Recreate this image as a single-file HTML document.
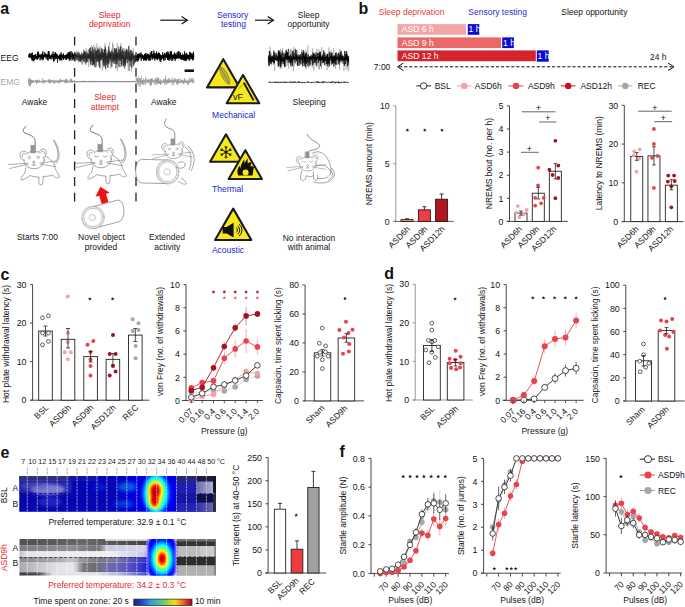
<!DOCTYPE html>
<html><head><meta charset="utf-8"><style>
html,body{margin:0;padding:0;background:#fff;width:685px;height:607px;overflow:hidden}
svg{display:block;font-family:"Liberation Sans",sans-serif}
</style></head><body>
<svg width="685" height="607" viewBox="0 0 685 607">
<rect width="685" height="607" fill="#fff"/>
<text x="0.30" y="14.20" font-size="16" text-anchor="start" fill="#111" font-weight="bold">a</text>
<text x="109.70" y="17.60" font-size="8.5" text-anchor="middle" fill="#e41e2a">Sleep</text>
<text x="109.70" y="27.40" font-size="8.5" text-anchor="middle" fill="#e41e2a">deprivation</text>
<text x="232.60" y="17.60" font-size="8.5" text-anchor="middle" fill="#2424cc">Sensory</text>
<text x="233.40" y="27.40" font-size="8.5" text-anchor="middle" fill="#2424cc">testing</text>
<text x="308.60" y="17.60" font-size="8.5" text-anchor="middle" fill="#151515">Sleep</text>
<text x="308.60" y="27.40" font-size="8.5" text-anchor="middle" fill="#151515">opportunity</text>
<line x1="160.30" y1="20.20" x2="186.90" y2="20.20" stroke="#111" stroke-width="1.15"/>
<polyline points="181.60,16.50 187.40,20.20 181.60,23.90" fill="none" stroke="#111" stroke-width="1.15"/>
<line x1="255.00" y1="20.20" x2="273.00" y2="20.20" stroke="#111" stroke-width="1.15"/>
<polyline points="267.70,16.50 273.50,20.20 267.70,23.90" fill="none" stroke="#111" stroke-width="1.15"/>
<text x="0.60" y="60.90" font-size="8.5" text-anchor="start" fill="#111">EEG</text>
<text x="0.60" y="85.40" font-size="8.5" text-anchor="start" fill="#a8a8a8">EMG</text>
<polyline points="28.50,56.52 28.70,55.63 28.90,57.05 29.10,54.14 29.30,57.57 29.50,53.89 29.70,56.54 29.90,53.07 30.10,57.81 30.30,54.75 30.50,57.49 30.70,54.98 30.90,55.99 31.10,53.22 31.30,55.80 31.50,53.95 31.70,59.18 31.90,54.54 32.10,60.59 32.30,52.48 32.50,60.46 32.70,55.18 32.90,58.92 33.10,55.07 33.30,56.40 33.50,55.61 33.70,61.26 33.90,55.12 34.10,56.61 34.30,56.17 34.50,60.25 34.70,55.22 34.90,59.02 35.10,54.24 35.30,59.15 35.50,54.51 35.70,56.61 35.90,54.34 36.10,58.05 36.30,55.99 36.50,56.56 36.70,56.20 36.90,59.45 37.10,56.10 37.30,59.64 37.50,52.32 37.70,58.58 37.90,56.11 38.10,58.17 38.30,51.42 38.50,58.28 38.70,53.29 38.90,56.31 39.10,54.75 39.30,57.02 39.50,54.86 39.70,56.83 39.90,54.96 40.10,60.45 40.30,55.06 40.50,57.30 40.70,55.50 40.90,57.11 41.10,53.81 41.30,58.17 41.50,56.19 41.70,58.96 41.90,54.05 42.10,60.25 42.30,54.77 42.50,58.33 42.70,51.45 42.90,57.69 43.10,56.32 43.30,59.76 43.50,54.80 43.70,57.37 43.90,55.47 44.10,56.85 44.30,52.32 44.50,57.27 44.70,55.54 44.90,57.00 45.10,55.80 45.30,56.74 45.50,53.40 45.70,56.31 45.90,55.18 46.10,59.20 46.30,54.51 46.50,56.30 46.70,54.73 46.90,57.27 47.10,53.84 47.30,56.47 47.50,55.07 47.70,59.66 47.90,55.46 48.10,60.71 48.30,51.09 48.50,57.09 48.70,54.20 48.90,56.92 49.10,51.45 49.30,58.94 49.50,55.17 49.70,57.05 49.90,55.17 50.10,56.90 50.30,56.15 50.50,58.52 50.70,55.43 50.90,59.42 51.10,56.42 51.30,56.82 51.50,53.92 51.70,57.16 51.90,54.31 52.10,58.90 52.30,55.76 52.50,56.51 52.70,54.82 52.90,56.80 53.10,51.56 53.30,59.46 53.50,55.57 53.70,61.53 53.90,54.38 54.10,60.87 54.30,54.33 54.50,58.51 54.70,54.41 54.90,56.70 55.10,52.32 55.30,59.39 55.50,52.45 55.70,56.36 55.90,55.65 56.10,56.61 56.30,53.59 56.50,58.77 56.70,54.73 56.90,56.20 57.10,54.11 57.30,57.87 57.50,62.75 57.70,59.33 57.90,55.84 58.10,58.95 58.30,56.44 58.50,58.35 58.70,55.68 58.90,57.71 59.10,56.21 59.30,57.14 59.50,55.39 59.70,59.75 59.90,54.18 60.10,60.57 60.30,54.72 60.50,59.07 60.70,55.35 60.90,59.72 61.10,52.36 61.30,56.61 61.50,54.52 61.70,60.65 61.90,54.21 62.10,56.09 62.30,56.04 62.50,58.31 62.70,54.99 62.90,57.66 63.10,55.95 63.30,59.18 63.50,53.37 63.70,59.92 63.90,55.10 64.10,57.33 64.30,56.52 64.50,57.78 64.70,55.28 64.90,58.31 65.10,55.86 65.30,56.92 65.50,56.52 65.70,59.63 65.90,54.87 66.10,57.56 66.30,54.94 66.50,59.89 66.70,53.93 66.90,58.91 67.10,55.81 67.30,57.50 67.50,53.95 67.70,58.03 67.90,53.43 68.10,57.09 68.30,52.18 68.50,59.00 68.70,53.73 68.90,57.04 69.10,53.43 69.30,60.62 69.50,52.04 69.70,58.92 69.90,51.63 70.10,58.10 70.30,53.48 70.50,56.06 70.70,56.25 70.90,60.47 71.10,51.23 71.30,56.91 71.50,56.17 71.70,56.91 71.90,56.24 72.10,58.71 72.30,52.50 72.50,56.82 72.70,53.64 72.90,60.43 73.10,54.82 73.30,56.29 73.50,55.16 73.70,58.67 73.90,54.48 74.10,58.65 74.30,53.85 74.50,56.70" fill="none" stroke="#000" stroke-width="0.75" stroke-linejoin="miter"/>
<polyline points="74.70,59.04 74.90,56.17 75.10,57.85 75.30,55.39 75.50,62.05 75.70,54.46 75.90,58.46 76.10,51.71 76.30,60.26 76.50,57.11 76.70,59.47 76.90,51.49 77.10,57.94 77.30,55.96 77.50,60.47 77.70,55.56 77.90,58.63 78.10,55.15 78.30,62.20 78.50,51.10 78.70,57.86 78.90,53.95 79.10,62.08 79.30,53.68 79.50,56.49 79.70,54.37 79.90,58.28 80.10,54.78 80.30,61.88 80.50,54.85 80.70,58.74 80.90,55.14 81.10,58.64 81.30,55.27 81.50,63.90 81.70,52.27 81.90,57.84 82.10,52.91 82.30,64.76 82.50,57.01 82.70,64.35 82.90,53.62 83.10,61.99 83.30,55.28 83.50,57.60 83.70,49.05 83.90,58.53 84.10,50.52 84.30,58.04 84.50,56.56 84.70,58.58 84.90,56.75 85.10,59.36 85.30,54.19 85.50,64.46 85.70,56.59 85.90,65.21 86.10,47.94 86.30,63.07 86.50,53.69 86.70,60.11 86.90,49.99 87.10,57.15 87.30,56.31 87.50,57.88 87.70,55.84 87.90,58.60 88.10,56.31 88.30,62.33 88.50,54.78 88.70,67.04 88.90,56.67 89.10,58.10 89.30,53.90 89.50,60.43 89.70,50.75 89.90,58.07 90.10,51.85 90.30,58.37 90.50,56.14 90.70,65.40 90.90,53.05 91.10,57.11 91.30,53.58 91.50,65.19 91.70,45.29 91.90,60.17 92.10,53.26 92.30,60.30 92.50,52.90 92.70,64.79 92.90,46.95 93.10,61.15 93.30,55.02 93.50,60.80 93.70,53.68 93.90,62.87 94.10,44.62 94.30,59.39 94.50,47.80 94.70,61.61 94.90,55.17 95.10,59.58 95.30,47.28 95.50,58.77 95.70,47.50 95.90,62.62 96.10,51.45 96.30,65.55 96.50,54.48 96.70,61.53 96.90,43.46 97.10,61.74 97.30,56.30 97.50,59.31 97.70,56.08 97.90,61.24 98.10,56.59 98.30,65.60 98.50,53.90 98.70,59.78 98.90,53.95 99.10,67.27 99.30,55.90 99.50,58.93 99.70,55.60 99.90,66.65 100.10,45.62 100.30,57.68 100.50,48.49 100.70,68.92 100.90,54.64 101.10,57.18 101.30,51.30 101.50,57.03 101.70,51.90 101.90,60.47 102.10,51.21 102.30,56.51 102.50,49.60 102.70,70.65 102.90,49.55 103.10,60.00 103.30,51.14 103.50,62.59 103.70,49.08 103.90,60.84 104.10,57.36 104.30,64.60 104.50,50.86 104.70,60.85 104.90,43.26 105.10,67.65 105.30,54.65 105.50,58.66 105.70,56.19 105.90,69.97 106.10,54.09 106.30,62.77 106.50,53.22 106.70,57.62 106.90,50.70 107.10,61.16 107.30,52.61 107.50,65.08 107.70,51.20 107.90,67.04 108.10,55.26 108.30,64.96 108.50,53.24 108.70,63.25 108.90,52.39 109.10,57.57 109.30,42.22 109.50,61.76 109.70,52.66 109.90,56.83 110.10,54.13 110.30,65.00 110.50,52.90 110.70,68.59 110.90,54.46 111.10,56.57 111.30,55.50 111.50,65.47 111.70,53.95 111.90,61.87 112.10,48.60 112.30,62.65 112.50,42.38 112.70,62.08 112.90,54.98 113.10,57.94 113.30,44.43 113.50,63.76 113.70,56.44 113.90,60.45 114.10,52.06 114.30,60.43 114.50,55.23 114.70,59.38 114.90,56.59 115.10,58.17 115.30,49.05 115.50,57.14 115.70,50.96 115.90,63.95 116.10,55.31 116.30,61.56 116.50,49.12 116.70,57.99 116.90,49.24 117.10,64.67 117.30,42.91 117.50,71.05 117.70,55.33 117.90,62.03 118.10,56.00 118.30,57.54 118.50,46.06 118.70,66.17 118.90,49.20 119.10,57.05 119.30,46.94 119.50,58.22 119.70,52.06 119.90,58.73 120.10,51.57 120.30,56.89 120.50,53.33 120.70,60.71 120.90,43.16 121.10,63.87 121.30,52.80 121.50,58.47 121.70,56.91 121.90,64.88 122.10,54.26 122.30,62.41 122.50,56.11 122.70,65.79 122.90,47.83 123.10,66.02 123.30,53.09 123.50,65.31 123.70,48.68 123.90,58.15 124.10,47.92 124.30,59.47 124.50,50.50 124.70,65.36 124.90,53.95 125.10,59.97 125.30,51.94 125.50,61.43 125.70,54.69 125.90,57.22 126.10,53.03 126.30,60.27 126.50,56.29 126.70,56.79 126.90,52.64 127.10,59.82 127.30,48.96 127.50,58.37 127.70,50.81 127.90,65.42 128.10,52.72 128.30,70.99 128.50,51.50 128.70,62.72 128.90,54.98 129.10,70.40 129.30,45.33 129.50,71.09 129.70,50.67 129.90,62.22 130.10,52.06 130.30,62.84 130.50,57.09 130.70,60.76 130.90,53.08 131.10,58.34 131.30,50.61 131.50,71.74 131.70,53.43 131.90,64.92 132.10,51.10 132.30,59.04 132.50,51.47 132.70,59.77 132.90,51.40 133.10,62.89 133.30,47.86 133.50,57.75 133.70,54.75 133.90,63.40 134.10,56.62 134.30,63.09 134.50,57.19 134.70,57.62 134.90,54.20 135.10,62.51 135.30,55.73 135.50,58.68 135.70,56.63 135.90,57.83" fill="none" stroke="#888" stroke-width="0.45" stroke-linejoin="miter"/>
<polyline points="74.70,57.97 74.90,56.66 75.10,60.18 75.30,52.75 75.50,57.00 75.70,54.33 75.90,56.78 76.10,54.42 76.30,56.49 76.50,54.75 76.70,59.78 76.90,53.88 77.10,57.86 77.30,55.16 77.50,56.76 77.70,52.16 77.90,58.26 78.10,56.21 78.30,60.47 78.50,56.24 78.70,57.59 78.90,53.69 79.10,60.57 79.30,52.68 79.50,57.03 79.70,56.40 79.90,61.01 80.10,54.66 80.30,62.08 80.50,54.98 80.70,60.20 80.90,55.44 81.10,59.64 81.30,53.17 81.50,60.62 81.70,56.61 81.90,58.04 82.10,54.76 82.30,58.58 82.50,56.17 82.70,59.67 82.90,53.54 83.10,57.38 83.30,54.82 83.50,61.23 83.70,53.19 83.90,58.71 84.10,51.11 84.30,61.38 84.50,51.49 84.70,57.30 84.90,55.09 85.10,63.20 85.30,51.32 85.50,58.85 85.70,53.31 85.90,57.15 86.10,55.26 86.30,62.84 86.50,55.34 86.70,60.94 86.90,52.07 87.10,58.10 87.30,55.83 87.50,61.91 87.70,53.00 87.90,58.73 88.10,54.40 88.30,59.06 88.50,54.12 88.70,58.88 88.90,49.41 89.10,57.80 89.30,54.61 89.50,58.65 89.70,47.94 89.90,57.09 90.10,52.70 90.30,62.28 90.50,47.35 90.70,64.54 90.90,51.39 91.10,60.30 91.30,50.75 91.50,60.38 91.70,55.45 91.90,61.28 92.10,53.39 92.30,59.51 92.50,47.20 92.70,65.50 92.90,53.32 93.10,65.17 93.30,52.70 93.50,63.87 93.70,49.52 93.90,64.51 94.10,57.10 94.30,63.22 94.50,56.67 94.70,67.27 94.90,49.24 95.10,57.91 95.30,52.64 95.50,58.35 95.70,57.01 95.90,67.29 96.10,50.86 96.30,57.39 96.50,50.88 96.70,61.13 96.90,55.10 97.10,61.68 97.30,49.92 97.50,58.04 97.70,49.39 97.90,57.29 98.10,47.64 98.30,60.58 98.50,55.37 98.70,61.50 98.90,50.23 99.10,63.12 99.30,48.93 99.50,67.65 99.70,54.01 99.90,60.58 100.10,52.74 100.30,58.75 100.50,52.68 100.70,58.62 100.90,55.25 101.10,60.38 101.30,53.97 101.50,59.43 101.70,47.90 101.90,59.67 102.10,49.58 102.30,57.74 102.50,51.68 102.70,57.61 102.90,54.55 103.10,65.08 103.30,52.82 103.50,62.13 103.70,53.09 103.90,66.79 104.10,52.81 104.30,59.11 104.50,49.19 104.70,65.42 104.90,49.06 105.10,60.73 105.30,46.52 105.50,68.44 105.70,48.76 105.90,62.99 106.10,56.15 106.30,58.26 106.50,56.61 106.70,65.27 106.90,53.39 107.10,59.43 107.30,55.84 107.50,63.63 107.70,56.58 107.90,68.05 108.10,53.30 108.30,58.40 108.50,46.64 108.70,63.89 108.90,49.67 109.10,62.20 109.30,54.08 109.50,57.26 109.70,50.99 109.90,58.36 110.10,53.71 110.30,59.08 110.50,52.27 110.70,59.64 110.90,52.92 111.10,60.94 111.30,54.45 111.50,56.51 111.70,50.47 111.90,67.01 112.10,51.63 112.30,56.39 112.50,55.32 112.70,61.08 112.90,51.76 113.10,62.22 113.30,54.75 113.50,59.11 113.70,53.09 113.90,59.15 114.10,55.99 114.30,63.99 114.50,48.38 114.70,60.11 114.90,48.00 115.10,61.92 115.30,49.48 115.50,58.99 115.70,53.59 115.90,68.35 116.10,50.98 116.30,63.87 116.50,48.25 116.70,59.68 116.90,53.31 117.10,64.37 117.30,53.63 117.50,59.30 117.70,52.15 117.90,60.47 118.10,53.21 118.30,57.55 118.50,55.75 118.70,59.26 118.90,48.71 119.10,67.30 119.30,49.90 119.50,60.33 119.70,54.31 119.90,56.70 120.10,53.25 120.30,58.65 120.50,47.31 120.70,61.00 120.90,46.00 121.10,67.10 121.30,51.32 121.50,59.09 121.70,56.46 121.90,64.76 122.10,50.69 122.30,58.42 122.50,49.53 122.70,58.82 122.90,55.52 123.10,58.52 123.30,55.31 123.50,66.43 123.70,52.51 123.90,62.66 124.10,50.88 124.30,61.62 124.50,57.25 124.70,68.58 124.90,57.87 125.10,63.72 125.30,55.05 125.50,65.99 125.70,51.06 125.90,63.41 126.10,49.43 126.30,58.20 126.50,48.73 126.70,59.25 126.90,52.40 127.10,57.90 127.30,50.48 127.50,62.69 127.70,57.48 127.90,57.44 128.10,56.57 128.30,60.54 128.50,46.34 128.70,57.27 128.90,50.74 129.10,59.67 129.30,52.71 129.50,60.61 129.70,56.25 129.90,60.79 130.10,56.88 130.30,66.39 130.50,49.77 130.70,61.46 130.90,54.41 131.10,59.18 131.30,50.30 131.50,61.09 131.70,57.30 131.90,68.04 132.10,53.75 132.30,59.41 132.50,53.48 132.70,59.29 132.90,52.81 133.10,57.26 133.30,56.15 133.50,65.98 133.70,56.23 133.90,58.45 134.10,55.28 134.30,64.34 134.50,55.82 134.70,57.48 134.90,56.92 135.10,61.83 135.30,54.89 135.50,61.96 135.70,56.65 135.90,62.10" fill="none" stroke="#222" stroke-width="0.5" stroke-linejoin="miter"/>
<polyline points="136.00,57.08 136.20,56.06 136.40,57.01 136.60,55.47 136.80,59.92 137.00,56.29 137.20,61.47 137.40,54.19 137.60,58.00 137.80,53.91 138.00,61.32 138.20,55.95 138.40,57.10 138.60,54.29 138.80,60.01 139.00,53.87 139.20,57.50 139.40,53.20 139.60,57.02 139.80,56.33 140.00,57.29 140.20,54.61 140.40,57.28 140.60,54.51 140.80,57.57 141.00,52.32 141.20,60.92 141.40,55.51 141.60,56.93 141.80,54.72 142.00,58.66 142.20,55.95 142.40,58.82 142.60,54.43 142.80,56.56 143.00,55.99 143.20,57.48 143.40,56.03 143.60,60.69 143.80,55.33 144.00,57.48 144.20,56.60 144.40,59.50 144.60,54.06 144.80,59.81 145.00,54.78 145.20,60.70 145.40,53.18 145.60,58.63 145.80,53.50 146.00,58.14 146.20,55.24 146.40,60.60 146.60,56.53 146.80,59.92 147.00,53.46 147.20,58.74 147.40,54.78 147.60,56.50 147.80,54.66 148.00,58.41 148.20,55.44 148.40,56.34 148.60,54.24 148.80,60.92 149.00,54.98 149.20,59.33 149.40,56.30 149.60,58.09 149.80,54.92 150.00,60.80 150.20,52.60 150.40,57.52 150.60,56.07 150.80,59.77 151.00,55.70 151.20,56.72 151.40,51.29 151.60,56.62 151.80,51.26 152.00,57.93 152.20,56.00 152.40,59.53 152.60,54.01 152.80,57.28 153.00,55.63 153.20,56.90 153.40,54.22 153.60,58.38 153.80,50.55 154.00,57.76 154.20,52.93 154.40,58.46 154.60,54.71 154.80,60.55 155.00,56.31 155.20,58.25 155.40,55.39 155.60,56.75 155.80,53.18 156.00,59.11 156.20,53.03 156.40,56.47 156.60,51.48 156.80,58.49 157.00,53.33 157.20,60.25 157.40,55.11 157.60,59.07 157.80,54.24 158.00,56.36 158.20,55.87 158.40,57.08 158.60,52.41 158.80,58.71 159.00,53.09 159.20,59.41 159.40,53.00 159.60,57.34 159.80,54.76 160.00,61.47 160.20,54.47 160.40,56.95 160.60,55.36 160.80,61.89 161.00,56.43 161.20,58.75 161.40,56.45 161.60,59.59 161.80,55.03 162.00,58.02 162.20,55.56 162.40,57.93 162.60,52.38 162.80,58.93 163.00,54.79 163.20,58.02 163.40,55.36 163.60,60.20 163.80,56.28 164.00,60.84 164.20,53.71 164.40,56.92 164.60,52.80 164.80,57.24 165.00,54.94 165.20,59.90 165.40,54.32 165.60,56.10 165.80,55.11 166.00,57.96 166.20,53.12 166.40,56.47 166.60,52.04 166.80,56.83 167.00,56.75 167.20,58.31 167.40,53.91 167.60,59.64 167.80,51.41 168.00,59.77 168.20,52.52 168.40,58.22 168.60,55.83 168.80,59.70 169.00,54.02 169.20,61.01 169.40,54.22 169.60,57.31 169.80,53.88 170.00,57.31 170.20,51.42 170.40,58.01 170.60,55.25 170.80,59.76 171.00,51.33 171.20,58.25 171.40,51.36 171.60,56.63 171.80,56.06 172.00,61.20 172.20,55.52 172.40,56.41 172.60,54.75 172.80,60.15 173.00,55.88 173.20,58.64 173.40,54.58 173.60,56.76 173.80,55.71 174.00,56.04 174.20,53.57 174.40,59.06 174.60,52.50 174.80,58.93 175.00,53.66 175.20,60.85 175.40,54.01 175.60,56.59 175.80,54.90 176.00,58.08 176.20,55.50 176.40,58.80 176.60,54.83 176.80,57.09 177.00,52.44 177.20,58.45 177.40,56.12 177.60,57.41 177.80,53.40 178.00,58.01 178.20,51.27 178.40,56.49 178.60,52.70 178.80,59.10 179.00,51.26 179.20,57.66 179.40,56.21 179.60,56.87 179.80,55.10 180.00,57.73 180.20,52.95 180.40,58.78 180.60,52.50 180.80,58.98 181.00,56.05 181.20,59.74 181.40,55.08 181.60,59.35 181.80,55.21 182.00,58.18 182.20,56.95 182.40,60.03 182.60,53.86 182.80,58.18 183.00,55.30 183.20,57.93 183.40,55.26 183.60,60.29 183.80,54.93 184.00,58.33 184.20,54.63 184.40,60.55 184.60,51.30 184.80,59.55 185.00,55.49 185.20,56.94 185.40,53.77 185.60,61.12 185.80,55.65 186.00,60.35 186.20,55.49 186.40,60.42 186.60,52.95 186.80,57.43 187.00,55.92 187.20,58.19 187.40,54.41 187.60,59.15 187.80,54.75 188.00,56.09 188.20,55.46 188.40,59.43 188.60,55.11 188.80,57.93 189.00,55.40 189.20,60.61 189.40,54.33 189.60,56.79 189.80,51.92 190.00,59.76 190.20,52.04 190.40,58.19 190.60,54.40 190.80,56.48 191.00,54.95 191.20,56.93 191.40,53.26 191.60,58.61 191.80,56.12 192.00,58.97 192.20,54.80 192.40,59.65 192.60,54.14 192.80,60.50 193.00,53.42 193.20,58.11 193.40,51.77 193.60,59.39 193.80,54.42" fill="none" stroke="#000" stroke-width="0.75" stroke-linejoin="miter"/>
<polyline points="28.50,84.46 28.70,78.40 28.90,84.43 29.10,80.05 29.30,86.34 29.50,77.89 29.70,82.02 29.90,80.60 30.10,86.13 30.30,79.18 30.50,85.06 30.70,79.80 30.90,83.99 31.10,79.91 31.30,83.17 31.50,79.63 31.70,82.77 31.90,81.31 32.10,82.89 32.30,80.56 32.50,82.24 32.70,80.58 32.90,82.81 33.10,80.42 33.30,83.03 33.50,80.23 33.70,82.21 33.90,81.29 34.10,81.89 34.30,81.28 34.50,81.96 34.70,81.28 34.90,82.17 35.10,81.36 35.30,81.93 35.50,79.68 35.70,82.16 35.90,80.54 36.10,82.56 36.30,80.82 36.50,83.86 36.70,80.20 36.90,82.69 37.10,79.81 37.30,82.16 37.50,80.07 37.70,83.46 37.90,79.79 38.10,81.48 38.30,81.17 38.50,82.48 38.70,80.85 38.90,82.28 39.10,81.19 39.30,81.40 39.50,79.80 39.70,82.43 39.90,80.81 40.10,82.52 40.30,81.23 40.50,82.01 40.70,81.07 40.90,81.70 41.10,80.85 41.30,82.26 41.50,81.07 41.70,81.65 41.90,81.00 42.10,82.18 42.30,80.89 42.50,82.81 42.70,78.34 42.90,81.86 43.10,81.38 43.30,83.80 43.50,79.90 43.70,81.51 43.90,80.79 44.10,82.48 44.30,80.82 44.50,83.10 44.70,80.40 44.90,82.93 45.10,80.85 45.30,82.06 45.50,80.62 45.70,81.56 45.90,81.19 46.10,81.89 46.30,79.98 46.50,81.69 46.70,80.68 46.90,81.91 47.10,80.75 47.30,81.56 47.50,80.87 47.70,81.53 47.90,81.31 48.10,81.71 48.30,80.70 48.50,82.31 48.70,80.08 48.90,82.67 49.10,78.76 49.30,82.26 49.50,79.50 49.70,83.55 49.90,80.73 50.10,82.01 50.30,80.02 50.50,83.02 50.70,79.79 50.90,82.55 51.10,80.15 51.30,82.13 51.50,81.22 51.70,81.69 51.90,80.68 52.10,82.05 52.30,80.49 52.50,81.63 52.70,80.53 52.90,82.46 53.10,81.01 53.30,81.60 53.50,79.55 53.70,83.20 53.90,80.83 54.10,84.09 54.30,81.32 54.50,82.76 54.70,80.32 54.90,81.51 55.10,80.46 55.30,82.52 55.50,80.68 55.70,82.30 55.90,81.36 56.10,82.10 56.30,80.96 56.50,81.80 56.70,80.48 56.90,81.86 57.10,80.65 57.30,83.00 57.50,80.37 57.70,81.60 57.90,81.23 58.10,81.72 58.30,81.38 58.50,82.73 58.70,80.46 58.90,82.34 59.10,80.52 59.30,83.39 59.50,80.90 59.70,81.80 59.90,79.27 60.10,82.09 60.30,80.92 60.50,82.13 60.70,78.63 60.90,82.48 61.10,80.08 61.30,81.95 61.50,80.74 61.70,82.01 61.90,81.34 62.10,81.41 62.30,80.06 62.50,81.47 62.70,80.22 62.90,81.65 63.10,81.11 63.30,81.41 63.50,79.80 63.70,81.83 63.90,80.91 64.10,81.52 64.30,81.22 64.50,82.41 64.70,80.09 64.90,83.17 65.10,79.79 65.30,82.26 65.50,79.70 65.70,82.24 65.90,79.21 66.10,83.34 66.30,78.65 66.50,81.74 66.70,79.74 66.90,81.76 67.10,81.06 67.30,82.99 67.50,79.75 67.70,82.70 67.90,81.18 68.10,81.44 68.30,81.20 68.50,81.63 68.70,80.92 68.90,83.00 69.10,81.16 69.30,82.07 69.50,80.39 69.70,81.86 69.90,81.29 70.10,81.66 70.30,79.79 70.50,82.01 70.70,78.53 70.90,83.08 71.10,78.50 71.30,81.89 71.50,80.33 71.70,82.20 71.90,79.61 72.10,82.83 72.30,81.18 72.50,82.66 72.70,80.80 72.90,81.50 73.10,80.80 73.30,81.91 73.50,81.38 73.70,82.15 73.90,81.33 74.10,82.12 74.30,80.28 74.50,82.66 74.70,80.78 74.90,81.82 75.10,81.31 75.30,81.43 75.50,81.25 75.70,81.54 75.90,80.98 76.10,82.00 76.30,81.13 76.50,82.00 76.70,81.39 76.90,81.41 77.10,81.18 77.30,81.95 77.50,81.04 77.70,81.43 77.90,81.34 78.10,81.57 78.30,81.35 78.50,81.60 78.70,81.27 78.90,81.41 79.10,81.20 79.30,81.60 79.50,81.36 79.70,81.44 79.90,81.05 80.10,81.87 80.30,81.36 80.50,81.82 80.70,81.07 80.90,81.62 81.10,81.25 81.30,81.41 81.50,81.32 81.70,81.45 81.90,81.23 82.10,81.41 82.30,80.80 82.50,82.00 82.70,81.38 82.90,81.53 83.10,81.08 83.30,81.81 83.50,80.80 83.70,81.51 83.90,80.80 84.10,81.56 84.30,81.38 84.50,81.54 84.70,81.21 84.90,81.75 85.10,81.27 85.30,81.44 85.50,81.35 85.70,81.81 85.90,81.15 86.10,81.70 86.30,81.21 86.50,81.50 86.70,81.21 86.90,81.51 87.10,81.11 87.30,81.48 87.50,81.27 87.70,81.70 87.90,81.40 88.10,82.00 88.30,81.38 88.50,82.00 88.70,81.10 88.90,81.55 89.10,81.25 89.30,82.00 89.50,81.35 89.70,81.45 89.90,80.82 90.10,81.81 90.30,80.83 90.50,81.48 90.70,81.18 90.90,82.00 91.10,81.36 91.30,81.50 91.50,81.20 91.70,81.43 91.90,81.06 92.10,81.68 92.30,81.19 92.50,81.58 92.70,81.10 92.90,81.73 93.10,81.39 93.30,81.81 93.50,80.98 93.70,81.80 93.90,81.19 94.10,81.43 94.30,80.71 94.50,81.41 94.70,81.39 94.90,81.50 95.10,81.19 95.30,82.00 95.50,81.33 95.70,81.58 95.90,81.01 96.10,81.62 96.30,81.18 96.50,81.63 96.70,81.33 96.90,81.42 97.10,81.31 97.30,81.73 97.50,81.01 97.70,81.51 97.90,80.80 98.10,81.63 98.30,81.36 98.50,81.66 98.70,81.33 98.90,81.82 99.10,81.12 99.30,81.43 99.50,81.30 99.70,81.43 99.90,81.10 100.10,81.70 100.30,81.30 100.50,81.41 100.70,81.32 100.90,81.57 101.10,81.12 101.30,81.42 101.50,81.27 101.70,81.50 101.90,80.98 102.10,81.70 102.30,81.17 102.50,81.53 102.70,80.92 102.90,81.42 103.10,81.14 103.30,81.80 103.50,81.10 103.70,81.58 103.90,81.34 104.10,81.44 104.30,81.10 104.50,81.54 104.70,81.09 104.90,81.54 105.10,80.81 105.30,81.49 105.50,81.34 105.70,81.47 105.90,81.19 106.10,81.53 106.30,81.39 106.50,81.90 106.70,81.22 106.90,81.56 107.10,81.33 107.30,81.82 107.50,81.37 107.70,81.66 107.90,81.11 108.10,81.41 108.30,80.90 108.50,81.62 108.70,81.15 108.90,81.47 109.10,81.34 109.30,81.60 109.50,81.12 109.70,81.61 109.90,81.25 110.10,82.00 110.30,81.37 110.50,81.48 110.70,81.19 110.90,81.83 111.10,81.04 111.30,81.42 111.50,81.76 111.70,81.95 111.90,80.80 112.10,81.67 112.30,81.08 112.50,81.59 112.70,81.28 112.90,81.54 113.10,81.39 113.30,81.88 113.50,81.22 113.70,81.50 113.90,81.03 114.10,81.67 114.30,81.26 114.50,81.50 114.70,80.87 114.90,81.55 115.10,81.37 115.30,81.66 115.50,81.30 115.70,81.71 115.90,81.37 116.10,81.48 116.30,80.80 116.50,81.41 116.70,81.20 116.90,81.45 117.10,81.11 117.30,81.78 117.50,81.19 117.70,81.77 117.90,81.08 118.10,81.40 118.30,81.10 118.50,81.75 118.70,81.34 118.90,81.76 119.10,81.20 119.30,81.67 119.50,81.35 119.70,81.93 119.90,81.37 120.10,81.59 120.30,81.36 120.50,81.54 120.70,81.12 120.90,81.84 121.10,81.21 121.30,81.75 121.50,81.09 121.70,81.54 121.90,81.04 122.10,81.50 122.30,80.95 122.50,81.55 122.70,81.26 122.90,81.64 123.10,81.17 123.30,81.68 123.50,80.96 123.70,81.48 123.90,81.38 124.10,81.42 124.30,81.28 124.50,81.83 124.70,81.27 124.90,81.62 125.10,81.03 125.30,81.83 125.50,81.30 125.70,81.92 125.90,81.22 126.10,81.58 126.30,81.39 126.50,81.87 126.70,80.99 126.90,81.60 127.10,81.21 127.30,81.80 127.50,81.38 127.70,81.71 127.90,81.21 128.10,81.82 128.30,81.07 128.50,81.58 128.70,81.09 128.90,81.76 129.10,81.00 129.30,81.48 129.50,81.09 129.70,81.44 129.90,81.19 130.10,81.84 130.30,81.31 130.50,81.55 130.70,81.28 130.90,82.00 131.10,81.17 131.30,81.73 131.50,81.29 131.70,81.43 131.90,81.16 132.10,81.52 132.30,80.93 132.50,81.69 132.70,81.12 132.90,81.47 133.10,81.19 133.30,81.53 133.50,81.24 133.70,81.92 133.90,80.87 134.10,81.41 134.30,81.39 134.50,81.43 134.70,81.34 134.90,81.50 135.10,81.10 135.30,81.54 135.50,81.36 135.70,81.40 135.90,81.37 136.10,82.03 136.30,77.74 136.50,81.43 136.70,80.78 136.90,81.58 137.10,77.97 137.30,84.17 137.50,77.97 137.70,82.01 137.90,79.18 138.10,84.64 138.30,80.68 138.50,82.95 138.70,76.25 138.90,86.29 139.10,81.31 139.30,81.70 139.50,78.39 139.70,81.60 139.90,79.72 140.10,86.92 140.30,78.45 140.50,81.67 140.70,79.10 140.90,84.31 141.10,81.12 141.30,82.46 141.50,75.87 141.70,83.90 141.90,81.26 142.10,83.29 142.30,81.16 142.50,84.93 142.70,80.20 142.90,81.72 143.10,80.09 143.30,84.69 143.50,78.49 143.70,82.55 143.90,80.55 144.10,84.33 144.30,81.05 144.50,81.95 144.70,80.42 144.90,81.63 145.10,79.50 145.30,84.85 145.50,76.98 145.70,82.25 145.90,80.54 146.10,81.90 146.30,78.75 146.50,82.30 146.70,81.24 146.90,81.85 147.10,81.15 147.30,83.39 147.50,80.06 147.70,82.81 147.90,80.35 148.10,81.66 148.30,79.22 148.50,81.43 148.70,79.30 148.90,83.33 149.10,80.10 149.30,81.88 149.50,80.98 149.70,81.56 149.90,79.34 150.10,85.80 150.30,80.69 150.50,84.64 150.70,78.83 150.90,85.51 151.10,79.36 151.30,84.70 151.50,78.26 151.70,83.80 151.90,81.19 152.10,82.35 152.30,78.26 152.50,81.98 152.70,80.27 152.90,81.71 153.10,79.80 153.30,82.02 153.50,81.39 153.70,82.05 153.90,80.82 154.10,84.63 154.30,80.78 154.50,79.58 154.70,80.33 154.90,82.72 155.10,78.80 155.30,83.42 155.50,79.70 155.70,81.59 155.90,80.56 156.10,85.38 156.30,77.22 156.50,82.17 156.70,79.85 156.90,83.86 157.10,79.98 157.30,82.35 157.50,77.87 157.70,83.36 157.90,78.12 158.10,83.37 158.30,78.41 158.50,82.04 158.70,77.69 158.90,84.03 159.10,81.05 159.30,83.36 159.50,81.33 159.70,82.04 159.90,80.63 160.10,83.91 160.30,78.96 160.50,84.80 160.70,79.81 160.90,84.42 161.10,80.78 161.30,83.72 161.50,81.39 161.70,81.59 161.90,81.23 162.10,82.25 162.30,80.84 162.50,82.25 162.70,80.76 162.90,83.01 163.10,80.81 163.30,81.70 163.50,78.61 163.70,82.21 163.90,81.16 164.10,82.58 164.30,80.51 164.50,83.75 164.70,80.32 164.90,85.12 165.10,78.69 165.30,81.48 165.50,75.71 165.70,83.03 165.90,80.47 166.10,81.57 166.30,78.83 166.50,84.55 166.70,80.80 166.90,82.71 167.10,80.03 167.30,83.59 167.50,79.64 167.70,82.31 167.90,80.74 168.10,82.11 168.30,80.03 168.50,82.41 168.70,77.94 168.90,83.01 169.10,78.18 169.30,82.20 169.50,81.28 169.70,83.16 169.90,80.69 170.10,82.70 170.30,80.67 170.50,82.24 170.70,80.07 170.90,82.09 171.10,79.23 171.30,81.40 171.50,81.28 171.70,82.05 171.90,79.55 172.10,84.85 172.30,80.68 172.50,82.07 172.70,77.71 172.90,81.63 173.10,80.63 173.30,84.88 173.50,80.90 173.70,82.41 173.90,80.15 174.10,82.03 174.30,79.76 174.50,82.70 174.70,78.82 174.90,81.93 175.10,78.08 175.30,81.49 175.50,80.60 175.70,81.65 175.90,79.34 176.10,81.46 176.30,80.66 176.50,83.32 176.70,80.74 176.90,83.88 177.10,79.21 177.30,84.73 177.50,79.31 177.70,84.92 177.90,79.05 178.10,82.74 178.30,79.86 178.50,83.29 178.70,78.93 178.90,81.56 179.10,81.20 179.30,83.06 179.50,81.13 179.70,82.59 179.90,80.99 180.10,83.23 180.30,77.93 180.50,81.84 180.70,81.12 180.90,81.84 181.10,80.67 181.30,82.58 181.50,80.18 181.70,81.49 181.90,81.19 182.10,83.05 182.30,80.34 182.50,81.68 182.70,79.66 182.90,83.61 183.10,80.81 183.30,83.60 183.50,81.04 183.70,84.23 183.90,81.14 184.10,82.04 184.30,78.47 184.50,82.64 184.70,78.27 184.90,82.12 185.10,79.79 185.30,82.94 185.50,81.38 185.70,81.83 185.90,81.15 186.10,82.74 186.30,80.51 186.50,82.33 186.70,81.12 186.90,82.78 187.10,80.94 187.30,83.03 187.50,79.67 187.70,84.82 187.90,81.03 188.10,84.80 188.30,80.82 188.50,83.33 188.70,81.37 188.90,83.59 189.10,81.13 189.30,78.34 189.50,81.23 189.70,82.05 189.90,77.88 190.10,81.53 190.30,80.41 190.50,82.33 190.70,80.66 190.90,82.22 191.10,79.81 191.30,81.70 191.50,78.32 191.70,79.55 191.90,80.72 192.10,82.03 192.30,78.17 192.50,82.63 192.70,79.87 192.90,81.47 193.10,78.50 193.30,81.50 193.50,81.17 193.70,83.45 193.90,80.28" fill="none" stroke="#939393" stroke-width="0.5" stroke-linejoin="miter"/>
<line x1="74.70" y1="81.70" x2="136.00" y2="81.70" stroke="#8a8a8a" stroke-width="1.1"/>
<rect x="184.60" y="69.40" width="9.40" height="2.60" fill="#111"/>
<polyline points="268.30,63.59 268.65,55.39 269.00,60.32 269.35,58.46 269.70,60.07 270.05,46.86 270.40,62.17 270.75,55.64 271.10,63.13 271.45,53.09 271.80,59.89 272.15,58.15 272.50,61.67 272.85,55.57 273.20,65.17 273.55,52.04 273.90,60.13 274.25,57.83 274.60,70.80 274.95,52.02 275.30,59.70 275.65,53.41 276.00,59.74 276.35,54.78 276.70,59.97 277.05,54.54 277.40,66.14 277.75,57.20 278.10,60.16 278.45,58.84 278.80,61.63 279.15,59.28 279.50,66.10 279.85,54.50 280.20,69.23 280.55,49.01 280.90,66.99 281.25,53.48 281.60,68.50 281.95,54.84 282.30,59.40 282.65,48.28 283.00,65.73 283.35,54.08 283.70,60.30 284.05,57.59 284.40,63.85 284.75,56.42 285.10,62.00 285.45,52.85 285.80,66.23 286.15,50.59 286.50,62.02 286.85,56.80 287.20,65.97 287.55,52.17 287.90,59.35 288.25,57.41 288.60,68.53 288.95,55.43 289.30,62.11 289.65,51.56 290.00,63.90 290.35,49.00 290.70,66.62 291.05,49.08 291.40,67.19 291.75,56.55 292.10,66.24 292.45,57.67 292.80,61.47 293.15,55.49 293.50,71.01 293.85,46.93 294.20,66.35 294.55,52.73 294.90,59.55 295.25,48.41 295.60,61.34 295.95,53.78 296.30,59.84 296.65,55.84 297.00,60.49 297.35,50.51 297.70,58.50 298.05,54.85 298.40,58.31 298.75,55.70 299.10,63.43 299.45,56.56 299.80,59.98 300.15,56.99 300.50,64.10 300.85,55.35 301.20,64.01 301.55,49.24 301.90,62.28 302.25,55.56 302.60,63.92 302.95,53.80 303.30,66.01 303.65,53.62 304.00,62.84 304.35,51.55 304.70,58.40 305.05,55.53 305.40,68.06 305.75,49.42 306.10,69.16 306.45,56.29 306.80,57.73 307.15,56.64 307.50,61.64 307.85,45.26 308.20,59.35 308.55,54.15 308.90,67.94 309.25,56.12 309.60,62.87 309.95,56.00 310.30,64.55 310.65,57.31 311.00,66.68 311.35,55.83 311.70,64.15 312.05,54.13 312.40,67.52 312.75,48.27 313.10,60.39 313.45,53.77 313.80,70.75 314.15,58.89 314.50,60.61 314.85,52.60 315.20,65.43 315.55,57.55 315.90,63.50 316.25,55.67 316.60,63.18 316.95,48.64 317.30,64.23 317.65,58.61 318.00,61.35 318.35,56.39 318.70,69.07 319.05,49.29 319.40,69.34 319.75,51.61 320.10,62.67 320.45,53.35 320.80,65.58 321.15,53.83 321.50,68.89 321.85,47.01 322.20,64.20 322.55,55.04 322.90,59.28 323.25,55.86 323.60,60.65 323.95,54.83 324.30,62.65 324.65,50.92 325.00,60.79 325.35,52.36 325.70,65.57 326.05,57.03 326.40,61.46 326.75,55.61 327.10,70.31 327.45,55.22 327.80,66.70 328.15,52.14 328.50,67.70 328.85,47.41 329.20,60.43 329.55,56.17 329.90,59.50 330.25,51.85 330.60,64.38 330.95,50.10 331.30,61.59 331.65,54.03 332.00,61.07 332.35,53.24 332.70,62.18 333.05,54.79 333.40,62.33 333.75,48.22 334.10,65.08 334.45,55.79 334.80,61.28 335.15,55.66 335.50,69.02 335.85,52.82 336.20,61.26 336.55,55.87 336.90,65.18 337.25,56.93 337.60,60.29 337.95,54.10 338.30,58.06 338.65,53.04 339.00,60.09 339.35,49.18 339.70,69.76 340.05,52.18 340.40,61.41 340.75,49.57 341.10,63.43 341.45,51.84 341.80,59.83 342.15,53.79 342.50,61.79 342.85,58.10 343.20,59.60 343.55,56.65 343.90,71.07 344.25,58.87 344.60,64.66 344.95,53.10 345.30,63.51 345.65,51.36 346.00,69.46 346.35,53.31 346.70,65.46 347.05,52.12 347.40,58.93 347.75,57.61 348.10,71.20 348.45,55.61 348.80,69.84" fill="none" stroke="#8a8a8a" stroke-width="0.45" stroke-linejoin="miter"/>
<polyline points="268.30,60.64 268.52,55.61 268.74,65.38 268.96,57.37 269.18,66.02 269.40,51.39 269.62,61.96 269.84,51.04 270.06,62.39 270.28,55.02 270.50,63.58 270.72,57.53 270.94,60.25 271.16,58.25 271.38,64.41 271.60,56.13 271.82,61.70 272.04,56.97 272.26,61.95 272.48,55.74 272.70,60.50 272.92,56.98 273.14,61.15 273.36,57.01 273.58,62.77 273.80,50.53 274.02,63.60 274.24,54.38 274.46,63.11 274.68,52.60 274.90,59.78 275.12,55.22 275.34,59.43 275.56,57.90 275.78,60.35 276.00,56.50 276.22,59.90 276.44,53.47 276.66,60.99 276.88,58.76 277.10,59.44 277.32,57.26 277.54,61.52 277.76,56.03 277.98,59.14 278.20,51.73 278.42,66.81 278.64,50.32 278.86,64.73 279.08,50.44 279.30,60.30 279.52,52.24 279.74,60.35 279.96,51.72 280.18,66.38 280.40,54.41 280.62,67.19 280.84,56.28 281.06,62.02 281.28,56.59 281.50,60.96 281.72,53.55 281.94,64.29 282.16,50.75 282.38,61.57 282.60,58.99 282.82,61.84 283.04,58.39 283.26,59.92 283.48,57.07 283.70,63.97 283.92,52.70 284.14,61.80 284.36,57.47 284.58,67.19 284.80,54.22 285.02,66.64 285.24,56.81 285.46,58.93 285.68,53.01 285.90,58.53 286.12,49.85 286.34,59.57 286.56,51.36 286.78,59.68 287.00,53.38 287.22,59.55 287.44,51.94 287.66,59.56 287.88,55.94 288.10,62.63 288.32,48.88 288.54,60.38 288.76,55.93 288.98,57.99 289.20,56.13 289.42,62.47 289.64,56.63 289.86,58.79 290.08,55.57 290.30,62.35 290.52,57.42 290.74,65.39 290.96,54.29 291.18,62.60 291.40,57.51 291.62,60.43 291.84,56.13 292.06,63.20 292.28,51.29 292.50,66.09 292.72,57.70 292.94,60.35 293.16,50.53 293.38,59.16 293.60,56.25 293.82,58.54 294.04,53.17 294.26,60.43 294.48,56.69 294.70,59.16 294.92,56.82 295.14,63.31 295.36,49.56 295.58,58.65 295.80,56.60 296.02,59.32 296.24,49.88 296.46,61.28 296.68,54.57 296.90,58.88 297.12,56.31 297.34,65.31 297.56,56.68 297.78,66.09 298.00,54.38 298.22,59.24 298.44,57.77 298.66,58.25 298.88,57.19 299.10,65.79 299.32,55.46 299.54,62.44 299.76,54.90 299.98,60.36 300.20,57.13 300.42,59.99 300.64,54.09 300.86,64.58 301.08,57.37 301.30,58.98 301.52,56.90 301.74,58.68 301.96,51.91 302.18,60.42 302.40,53.43 302.62,66.53 302.84,56.75 303.06,63.13 303.28,49.97 303.50,58.66 303.72,51.64 303.94,61.18 304.16,56.31 304.38,65.96 304.60,56.29 304.82,63.45 305.04,53.62 305.26,62.01 305.48,54.26 305.70,67.04 305.92,53.78 306.14,58.73 306.36,52.37 306.58,64.10 306.80,56.55 307.02,62.33 307.24,57.94 307.46,58.50 307.68,57.53 307.90,66.25 308.12,54.25 308.34,62.55 308.56,57.29 308.78,58.92 309.00,57.47 309.22,65.63 309.44,56.75 309.66,59.35 309.88,56.72 310.10,64.55 310.32,56.04 310.54,58.86 310.76,57.73 310.98,58.65 311.20,54.89 311.42,60.21 311.64,56.75 311.86,60.73 312.08,57.03 312.30,57.91 312.52,55.83 312.74,65.21 312.96,52.59 313.18,63.38 313.40,54.39 313.62,58.29 313.84,53.33 314.06,58.42 314.28,54.33 314.50,62.82 314.72,57.07 314.94,58.83 315.16,57.92 315.38,62.55 315.60,54.87 315.82,59.69 316.04,52.33 316.26,60.15 316.48,57.78 316.70,66.32 316.92,56.73 317.14,58.66 317.36,53.35 317.58,59.00 317.80,58.63 318.02,59.70 318.24,52.83 318.46,62.85 318.68,56.69 318.90,59.52 319.12,54.17 319.34,59.57 319.56,52.17 319.78,61.06 320.00,54.16 320.22,60.37 320.44,51.73 320.66,66.24 320.88,56.34 321.10,60.55 321.32,57.05 321.54,60.38 321.76,56.76 321.98,59.33 322.20,56.40 322.42,60.19 322.64,55.61 322.86,63.14 323.08,54.64 323.30,62.04 323.52,50.41 323.74,62.86 323.96,57.96 324.18,60.23 324.40,52.75 324.62,65.29 324.84,57.09 325.06,61.00 325.28,57.39 325.50,59.32 325.72,55.39 325.94,61.11 326.16,56.93 326.38,64.17 326.60,56.18 326.82,58.57 327.04,53.99 327.26,64.10 327.48,54.22 327.70,65.85 327.92,54.03 328.14,62.03 328.36,57.51 328.58,63.66 328.80,58.02 329.02,63.08 329.24,57.07 329.46,66.26 329.68,51.92 329.90,60.28 330.12,57.49 330.34,58.14 330.56,56.26 330.78,58.67 331.00,53.11 331.22,60.88 331.44,54.03 331.66,64.69 331.88,52.53 332.10,60.57 332.32,56.60 332.54,63.61 332.76,56.24 332.98,62.71 333.20,57.96 333.42,62.76 333.64,56.52 333.86,66.77 334.08,55.47 334.30,63.40 334.52,55.81 334.74,59.36 334.96,56.30 335.18,60.78 335.40,52.91 335.62,64.28 335.84,55.22 336.06,64.80 336.28,52.41 336.50,59.68 336.72,57.33 336.94,59.23 337.16,56.58 337.38,59.77 337.60,57.84 337.82,59.18 338.04,53.95 338.26,63.72 338.48,52.88 338.70,60.22 338.92,57.63 339.14,64.78 339.36,55.25 339.58,61.92 339.80,56.57 340.02,61.67 340.24,52.59 340.46,59.00 340.68,53.44 340.90,59.79 341.12,51.21 341.34,59.86 341.56,57.04 341.78,61.21 342.00,55.70 342.22,60.74 342.44,55.66 342.66,59.42 342.88,58.66 343.10,63.79 343.32,55.78 343.54,60.37 343.76,57.98 343.98,60.06 344.20,58.25 344.42,65.95 344.64,50.95 344.86,59.54 345.08,57.46 345.30,64.12 345.52,54.53 345.74,60.44 345.96,54.56 346.18,60.34 346.40,51.04 346.62,59.85 346.84,53.65 347.06,61.41 347.28,55.32 347.50,66.50 347.72,57.70 347.94,61.52 348.16,56.70 348.38,62.71 348.60,56.32 348.82,64.98" fill="none" stroke="#000" stroke-width="0.55" stroke-linejoin="miter"/>
<polyline points="268.30,82.45 268.70,82.09 269.10,82.57 269.50,81.73 269.90,82.31 270.30,82.05 270.70,82.67 271.10,81.91 271.50,82.39 271.90,82.24 272.30,82.42 272.70,82.22 273.10,82.38 273.50,81.87 273.90,82.62 274.30,82.12 274.70,82.78 275.10,81.71 275.50,82.70 275.90,81.83 276.30,82.62 276.70,82.27 277.10,82.50 277.50,81.95 277.90,83.08 278.30,81.81 278.70,82.55 279.10,82.22 279.50,82.41 279.90,81.80 280.30,82.65 280.70,81.83 281.10,82.44 281.50,82.21 281.90,82.95 282.30,81.93 282.70,82.35 283.10,82.24 283.50,82.44 283.90,81.51 284.30,82.30 284.70,82.13 285.10,83.06 285.50,82.06 285.90,82.55 286.30,81.67 286.70,82.77 287.10,82.19 287.50,82.50 287.90,82.24 288.30,82.37 288.70,81.94 289.10,82.66 289.50,82.12 289.90,82.34 290.30,81.59 290.70,82.65 291.10,82.07 291.50,82.77 291.90,81.70 292.30,82.86 292.70,81.97 293.10,82.93 293.50,82.22 293.90,82.61 294.30,81.40 294.70,82.48 295.10,81.55 295.50,82.36 295.90,82.29 296.30,82.65 296.70,81.89 297.10,82.45 297.50,82.06 297.90,82.54 298.30,81.63 298.70,82.39 299.10,81.40 299.50,82.63 299.90,82.12 300.30,82.56 300.70,81.95 301.10,82.48 301.50,82.18 301.90,83.10 302.30,82.06 302.70,82.82 303.10,82.18 303.50,82.57 303.90,82.07 304.30,83.14 304.70,82.12 305.10,82.43 305.50,82.03 305.90,82.48 306.30,82.18 306.70,82.57 307.10,82.16 307.50,82.40 307.90,81.40 308.30,82.38 308.70,82.02 309.10,82.68 309.50,82.13 309.90,82.53 310.30,82.07 310.70,82.78 311.10,82.25 311.50,83.00 311.90,81.96 312.30,82.70 312.70,82.17 313.10,82.67 313.50,82.25 313.90,82.51 314.30,82.19 314.70,82.58 315.10,81.92 315.50,82.43 315.90,82.18 316.30,82.32 316.70,81.40 317.10,82.41 317.50,81.69 317.90,82.91 318.30,81.62 318.70,83.04 319.10,81.95 319.50,82.52 319.90,81.88 320.30,82.40 320.70,82.04 321.10,82.71 321.50,82.03 321.90,82.50 322.30,81.52 322.70,82.32 323.10,81.40 323.50,83.20 323.90,81.72 324.30,82.32 324.70,81.87 325.10,82.37 325.50,82.05 325.90,82.34 326.30,81.88 326.70,82.71 327.10,82.19 327.50,82.31 327.90,82.25 328.30,82.35 328.70,82.05 329.10,82.30 329.50,82.08 329.90,82.89 330.30,81.95 330.70,83.07 331.10,82.23 331.50,82.94 331.90,81.71 332.30,82.45 332.70,81.40 333.10,82.40 333.50,82.04 333.90,82.46 334.30,81.75 334.70,82.57 335.10,82.25 335.50,83.19 335.90,81.80 336.30,82.37 336.70,82.00 337.10,82.76 337.50,82.02 337.90,82.50 338.30,81.44 338.70,83.17 339.10,82.19 339.50,82.41 339.90,82.08 340.30,83.20 340.70,82.30 341.10,82.90 341.50,82.01 341.90,82.35 342.30,82.19 342.70,82.58 343.10,82.06 343.50,82.66 343.90,81.75 344.30,82.47 344.70,81.71 345.10,82.58 345.50,81.90 345.90,82.41 346.30,81.86 346.70,82.34 347.10,82.06 347.50,82.55 347.90,82.27 348.30,82.77 348.70,82.15" fill="none" stroke="#333" stroke-width="0.95" stroke-linejoin="miter"/>
<line x1="74.60" y1="36.70" x2="74.60" y2="201.50" stroke="#222" stroke-width="1.3" stroke-dasharray="8.9 6.7"/>
<line x1="136.00" y1="36.70" x2="136.00" y2="201.50" stroke="#222" stroke-width="1.3" stroke-dasharray="8.9 6.7"/>
<text x="34.50" y="104.80" font-size="8.5" text-anchor="middle" fill="#151515">Awake</text>
<text x="105.00" y="100.00" font-size="8.5" text-anchor="middle" fill="#e41e2a">Sleep</text>
<text x="105.00" y="109.90" font-size="8.5" text-anchor="middle" fill="#e41e2a">attempt</text>
<text x="163.70" y="104.80" font-size="8.5" text-anchor="middle" fill="#151515">Awake</text>
<text x="309.10" y="104.80" font-size="8.5" text-anchor="middle" fill="#151515">Sleeping</text>
<text x="233.60" y="117.70" font-size="8.5" text-anchor="middle" fill="#2424cc">Mechanical</text>
<text x="227.60" y="192.30" font-size="8.5" text-anchor="middle" fill="#2424cc">Thermal</text>
<text x="228.00" y="253.40" font-size="8.5" text-anchor="middle" fill="#2424cc">Acoustic</text>
<text x="37.50" y="239.70" font-size="8.5" text-anchor="middle" fill="#151515">Starts 7:00</text>
<text x="101.50" y="239.70" font-size="8.5" text-anchor="middle" fill="#151515">Novel object</text>
<text x="101.00" y="249.50" font-size="8.5" text-anchor="middle" fill="#151515">provided</text>
<text x="167.00" y="240.00" font-size="8.5" text-anchor="middle" fill="#151515">Extended</text>
<text x="167.30" y="249.80" font-size="8.5" text-anchor="middle" fill="#151515">activity</text>
<text x="308.90" y="241.40" font-size="8.5" text-anchor="middle" fill="#151515">No interaction</text>
<text x="309.00" y="250.40" font-size="8.5" text-anchor="middle" fill="#151515">with animal</text>
<polygon points="223.30,59.20 207.02,87.40 239.58,87.40" fill="#f7e81c" stroke="#1a1a1a" stroke-width="2.1" stroke-linejoin="round"/>
<g transform="rotate(-28 224.8 75.5)"><ellipse cx="224.8" cy="75.5" rx="3.0" ry="9.5" fill="#b8b040" stroke="#6e6a30" stroke-width="0.5"/><line x1="224.8" y1="66" x2="224.8" y2="86" stroke="#6e6a30" stroke-width="0.5"/></g>
<polygon points="243.00,75.00 226.72,103.20 259.28,103.20" fill="#f7e81c" stroke="#1a1a1a" stroke-width="2.1" stroke-linejoin="round"/>
<text x="233.00" y="100.00" font-size="9" text-anchor="start" fill="#111">vF</text>
<line x1="243.80" y1="82.60" x2="253.60" y2="100.40" stroke="#111" stroke-width="1.9"/>
<line x1="238.50" y1="88.50" x2="243.30" y2="84.50" stroke="#555" stroke-width="0.5"/>
<polygon points="226.00,134.30 210.12,161.80 241.88,161.80" fill="#f7e81c" stroke="#1a1a1a" stroke-width="2.1" stroke-linejoin="round"/>
<path d="M226,152.2L226.00,146.00 M226.00,148.20L227.29,146.67 M226.00,148.20L224.71,146.67 M226,152.2L220.63,149.10 M222.54,150.20L221.86,148.32 M222.54,150.20L220.57,150.55 M226,152.2L220.63,155.30 M222.54,154.20L220.57,153.85 M222.54,154.20L221.86,156.08 M226,152.2L226.00,158.40 M226.00,156.20L224.71,157.73 M226.00,156.20L227.29,157.73 M226,152.2L231.37,155.30 M229.46,154.20L230.14,156.08 M229.46,154.20L231.43,153.85 M226,152.2L231.37,149.10 M229.46,150.20L231.43,150.55 M229.46,150.20L230.14,148.32" stroke="#111" stroke-width="1.0" fill="none"/>
<circle cx="226.00" cy="152.20" r="1.30" fill="#111"/>
<polygon points="245.30,150.20 228.67,179.00 261.93,179.00" fill="#f7e81c" stroke="#1a1a1a" stroke-width="2.1" stroke-linejoin="round"/>
<path d="M238.2,175.6 C236.5,171 238.2,167.5 239.5,165.8 L240.3,168.5 C240.6,165 242.5,162 244.3,159.3 L244.6,163.5 C245.5,161.2 246.6,159.8 247.6,158.2 L247.7,163.5 C248.8,162.5 250.2,162 251.5,162.2 L250.5,166.3 C252,166 253.4,166.6 254.2,167.5 C252.8,169 253.5,173 252.4,175.6 Z" fill="#111"/>
<circle cx="245.60" cy="172.60" r="3.00" fill="#f7e81c"/>
<polygon points="233.20,208.60 215.07,240.00 251.33,240.00" fill="#f7e81c" stroke="#1a1a1a" stroke-width="2.1" stroke-linejoin="round"/>
<path d="M222.7,227.0 L226.6,227.0 L233.6,222.8 L233.6,237.4 L226.6,233.4 L222.7,233.4 Z" fill="#111"/>
<path d="M236.26,227.75 A3.0,3.0 0 0 1 236.26,232.45" fill="none" stroke="#111" stroke-width="1.0"/>
<path d="M237.69,225.95 A5.3,5.3 0 0 1 237.69,234.25" fill="none" stroke="#111" stroke-width="1.0"/>
<path d="M239.12,224.15 A7.6,7.6 0 0 1 239.12,236.05" fill="none" stroke="#111" stroke-width="1.0"/>
<g transform="translate(34.00 160.00) scale(1.0)" fill="none" stroke="#5c5c5c" stroke-width="0.55" stroke-linecap="round" stroke-linejoin="round"><path d="M-8.2,-33.7 C-10.5,-31 -12.5,-28.5 -9,-27 C-6,-25.5 -1,-24.5 0.6,-21.5 C1.4,-19.5 1.2,-17 1.0,-14.6" stroke="#4a4a4a" stroke-width="0.75"/><path d="M20.5,3 C25.5,-1 25.5,-9 19.5,-19.8" stroke-width="0.6"/><path d="M21.5,4.5 C27,-1 26.5,-10 20.3,-19.8" stroke-width="0.45"/><path d="M8.5,-5 C15,-3 20,2 21,8 C22,11 24.5,14 25.5,17 C24,18.5 21,18 18.5,15 C16,16 12,16.5 9,16.5 C9.3,19.5 9.2,22.5 8.2,24.4 C6.5,25.6 4.6,24.6 4.8,22.2 L5,17 C1.5,17 -1.5,16.5 -4,15.5 C-6.5,17.5 -9.5,19.5 -12.4,20.2 C-14,19 -12.5,16.5 -9.5,13.5 C-8.6,11.5 -8.5,9.5 -8,7.5" fill="#fff"/><ellipse cx="0" cy="0" rx="10.3" ry="8.8" fill="#fff"/><path d="M-7,-7.3 C-10,-10.5 -14.5,-9 -14,-4.5 C-13.6,-1.5 -11.5,0 -9.6,0.2" fill="#fff"/><path d="M-8.6,-6 C-11,-7.5 -12.6,-5.5 -11.4,-2.8"/><path d="M5,-8.3 C7.5,-12.3 12.5,-12 12.2,-7 C12,-4.5 10.8,-3 9.6,-2.6" fill="#fff"/><path d="M6.8,-7.8 C8.5,-10 11,-9 10.4,-6"/><path d="M-6,3.3 L-25.5,4.4 M-6,4.3 L-24.4,8.5 M6,3.0 L21.8,1.0 M6,4.0 L21.8,6.7" stroke-width="0.5"/><circle cx="-4.8" cy="-2.5" r="1.35" stroke="#c070a8" stroke-width="0.6"/><circle cx="3.9" cy="-2.8" r="1.35" stroke="#c070a8" stroke-width="0.6"/><circle cx="-0.2" cy="2.1" r="1.1" stroke="#c070a8" stroke-width="0.6"/><path d="M-0.2,3.2 L-0.2,4.6 M-2,5 Q-0.2,6.2 1.6,5"/><rect x="-3.0" y="-14.6" width="4.6" height="7.5" fill="#959595" stroke="#7a7a7a" stroke-width="0.4"/></g>
<g transform="translate(101.00 159.00) scale(1.0)" fill="none" stroke="#5c5c5c" stroke-width="0.55" stroke-linecap="round" stroke-linejoin="round"><path d="M-8.2,-33.7 C-10.5,-31 -12.5,-28.5 -9,-27 C-6,-25.5 -1,-24.5 0.6,-21.5 C1.4,-19.5 1.2,-17 1.0,-14.6" stroke="#4a4a4a" stroke-width="0.75"/><path d="M20.5,3 C25.5,-1 25.5,-9 19.5,-19.8" stroke-width="0.6"/><path d="M21.5,4.5 C27,-1 26.5,-10 20.3,-19.8" stroke-width="0.45"/><path d="M8.5,-5 C15,-3 20,2 21,8 C22,11 24.5,14 25.5,17 C24,18.5 21,18 18.5,15 C16,16 12,16.5 9,16.5 C9.3,19.5 9.2,22.5 8.2,24.4 C6.5,25.6 4.6,24.6 4.8,22.2 L5,17 C1.5,17 -1.5,16.5 -4,15.5 C-6.5,17.5 -9.5,19.5 -12.4,20.2 C-14,19 -12.5,16.5 -9.5,13.5 C-8.6,11.5 -8.5,9.5 -8,7.5" fill="#fff"/><ellipse cx="0" cy="0" rx="10.3" ry="8.8" fill="#fff"/><path d="M-7,-7.3 C-10,-10.5 -14.5,-9 -14,-4.5 C-13.6,-1.5 -11.5,0 -9.6,0.2" fill="#fff"/><path d="M-8.6,-6 C-11,-7.5 -12.6,-5.5 -11.4,-2.8"/><path d="M5,-8.3 C7.5,-12.3 12.5,-12 12.2,-7 C12,-4.5 10.8,-3 9.6,-2.6" fill="#fff"/><path d="M6.8,-7.8 C8.5,-10 11,-9 10.4,-6"/><path d="M-6,3.3 L-25.5,4.4 M-6,4.3 L-24.4,8.5 M6,3.0 L21.8,1.0 M6,4.0 L21.8,6.7" stroke-width="0.5"/><path d="M-6.5,-2.8 Q-4.6,-1 -2.6,-2.8 M2.2,-2.8 Q4.2,-1 6.2,-2.8"/><circle cx="-0.2" cy="2.1" r="1.1" stroke="#c070a8" stroke-width="0.6"/><path d="M-0.2,3.2 L-0.2,4.6 M-2,5 Q-0.2,6.2 1.6,5"/><rect x="-3.0" y="-14.6" width="4.6" height="7.5" fill="#959595" stroke="#7a7a7a" stroke-width="0.4"/></g>
<g transform="translate(173.60 151.20) scale(0.85)" fill="none" stroke="#5c5c5c" stroke-width="0.55" stroke-linecap="round" stroke-linejoin="round"><path d="M-8.5,-38 C-12,-33 -12,-29 -3,-26 C1.5,-24.5 2,-20 1.3,-14.6" stroke="#4a4a4a" stroke-width="0.75"/><ellipse cx="0" cy="0" rx="10.3" ry="8.8" fill="#fff"/><path d="M-7,-7.3 C-10,-10.5 -14.5,-9 -14,-4.5 C-13.6,-1.5 -11.5,0 -9.6,0.2" fill="#fff"/><path d="M-8.6,-6 C-11,-7.5 -12.6,-5.5 -11.4,-2.8"/><path d="M5,-8.3 C7.5,-12.3 12.5,-12 12.2,-7 C12,-4.5 10.8,-3 9.6,-2.6" fill="#fff"/><path d="M6.8,-7.8 C8.5,-10 11,-9 10.4,-6"/><path d="M-6,3.3 L-25.5,4.4 M-6,4.3 L-24.4,8.5 M6,3.0 L21.8,1.0 M6,4.0 L21.8,6.7" stroke-width="0.5"/><circle cx="-4.8" cy="-2.5" r="1.35" stroke="#c070a8" stroke-width="0.6"/><circle cx="3.9" cy="-2.8" r="1.35" stroke="#c070a8" stroke-width="0.6"/><circle cx="-0.2" cy="2.1" r="1.1" stroke="#c070a8" stroke-width="0.6"/><path d="M-0.2,3.2 L-0.2,4.6 M-2,5 Q-0.2,6.2 1.6,5"/><rect x="-3.0" y="-14.6" width="4.6" height="7.5" fill="#959595" stroke="#7a7a7a" stroke-width="0.4"/></g>
<path d="M312,153.5 C317,150.5 323,151.5 326.5,157 C329.5,162 331.5,167 331,171.5 C330.5,175.5 327.5,178 323,178.5 L317,178.5 M316,166 C322,163.5 328,166.5 330.5,171 M331,168 C336.5,172 335,178.5 329,181.5 C324,183.5 318,183.5 313.5,182 M330,170 C334,173 333,178 328,180 M302,170.5 C301,174.5 299.5,178 301.5,180 C303.5,181.5 306,179.5 306,176 M313.5,171.5 C313.5,175.5 313,179 315,180.3 C317,180.8 318.3,178.5 317.5,175 M306,175.5 C308.5,177 311.5,177 313.5,175.5" fill="#fff" stroke="#5c5c5c" stroke-width="0.55" stroke-linejoin="round"/>
<g transform="translate(307.80 163.80) scale(0.82)" fill="none" stroke="#5c5c5c" stroke-width="0.55" stroke-linecap="round" stroke-linejoin="round"><path d="M-0.6,-36 C1,-31 6,-29 12,-25 C17,-22 14,-18 5,-16.5 C2,-16 1,-15.5 0.4,-14.6" stroke="#4a4a4a" stroke-width="0.75"/><ellipse cx="0" cy="0" rx="10.3" ry="8.8" fill="#fff"/><path d="M-7,-7.3 C-10,-10.5 -14.5,-9 -14,-4.5 C-13.6,-1.5 -11.5,0 -9.6,0.2" fill="#fff"/><path d="M-8.6,-6 C-11,-7.5 -12.6,-5.5 -11.4,-2.8"/><path d="M5,-8.3 C7.5,-12.3 12.5,-12 12.2,-7 C12,-4.5 10.8,-3 9.6,-2.6" fill="#fff"/><path d="M6.8,-7.8 C8.5,-10 11,-9 10.4,-6"/><path d="M-6,3.3 L-25.5,4.4 M-6,4.3 L-24.4,8.5 M6,3.0 L21.8,1.0 M6,4.0 L21.8,6.7" stroke-width="0.5"/><path d="M-6.5,-2.8 Q-4.6,-1 -2.6,-2.8 M2.2,-2.8 Q4.2,-1 6.2,-2.8"/><circle cx="-0.2" cy="2.1" r="1.1" stroke="#c070a8" stroke-width="0.6"/><path d="M-0.2,3.2 L-0.2,4.6 M-2,5 Q-0.2,6.2 1.6,5"/><rect x="-3.0" y="-14.6" width="4.6" height="7.5" fill="#959595" stroke="#7a7a7a" stroke-width="0.4"/></g>
<g stroke="#555" stroke-width="0.55" fill="#fff"><path d="M93.50,206.50 L118.00,200.00 A6.05,11.00 0 0 1 118.00,222.00 L93.50,228.50 Z"/><ellipse cx="93.00" cy="217.50" rx="11.00" ry="11.00" stroke-dasharray="0.6 0.5" stroke-width="1.6" stroke="#9a9a9a"/><ellipse cx="93.00" cy="217.50" rx="9.20" ry="9.20" stroke="#888"/><path d="M90.00,215.50 c1,-2 3,-2 3,0 c2,-1 3,1 2,2.5 c1,1.5 -1,3 -2.5,2 c-1,1.5 -3,0.5 -2.5,-1 c-1.5,-0.5 -1,-2.5 0,-3.5" stroke="#999" fill="none"/></g>
<g stroke="#555" stroke-width="0.55" fill="#fff"><path d="M168.20,160.00 L141.70,159.40 A6.05,11.80 0 0 0 141.70,183.00 L168.20,183.60 Z"/><ellipse cx="167.70" cy="171.80" rx="11.00" ry="11.80" stroke-dasharray="0.6 0.5" stroke-width="1.6" stroke="#9a9a9a"/><ellipse cx="167.70" cy="171.80" rx="9.20" ry="10.00" stroke="#888"/><path d="M164.70,169.80 c1,-2 3,-2 3,0 c2,-1 3,1 2,2.5 c1,1.5 -1,3 -2.5,2 c-1,1.5 -3,0.5 -2.5,-1 c-1.5,-0.5 -1,-2.5 0,-3.5" stroke="#999" fill="none"/></g>
<path d="M178,163 C183,160 187,163 184,167 C181,169 178,168 176,167 M181,178 C184,180 187,182 186,184 C184,185 181,183 178,181 M185,147 C191,150 193,160 189,170 M188,146 C195,152 196,162 191,171" fill="none" stroke="#5c5c5c" stroke-width="0.55"/>
<g transform="rotate(-16 105 203)"><polygon points="101.5,203 101.5,194.5 97.6,194.5 105,186.2 112.4,194.5 108.5,194.5 108.5,203" fill="#ee1111"/></g>
<text x="358.60" y="14.20" font-size="16" text-anchor="start" fill="#111" font-weight="bold">b</text>
<text x="378.80" y="15.00" font-size="8.5" text-anchor="start" fill="#e03c44">Sleep deprivation</text>
<text x="468.30" y="15.00" font-size="8.5" text-anchor="start" fill="#2b2bd6">Sensory testing</text>
<text x="561.30" y="15.00" font-size="8.5" text-anchor="start" fill="#151515">Sleep opportunity</text>
<rect x="397.50" y="24.10" width="68.50" height="10.70" fill="#f3a6a6"/>
<text x="401.80" y="32.40" font-size="8.6" text-anchor="start" fill="#fff">ASD 6 h</text>
<rect x="467.80" y="24.10" width="11.50" height="10.70" fill="#0b0bd2"/>
<text x="468.60" y="32.40" font-size="8.6" text-anchor="start" fill="#fff">1 h</text>
<rect x="397.50" y="37.40" width="103.50" height="10.70" fill="#ec6767"/>
<text x="401.80" y="45.70" font-size="8.6" text-anchor="start" fill="#fff">ASD 9 h</text>
<rect x="502.20" y="37.40" width="11.70" height="10.70" fill="#0b0bd2"/>
<text x="503.00" y="45.70" font-size="8.6" text-anchor="start" fill="#fff">1 h</text>
<rect x="397.50" y="50.40" width="138.30" height="10.80" fill="#d4232b"/>
<text x="401.80" y="58.80" font-size="8.6" text-anchor="start" fill="#fff">ASD 12 h</text>
<rect x="536.80" y="50.40" width="11.90" height="11.30" fill="#0b0bd2"/>
<text x="537.60" y="59.30" font-size="8.6" text-anchor="start" fill="#fff">1 h</text>
<text x="373.80" y="69.80" font-size="8.5" text-anchor="start" fill="#151515">7:00</text>
<text x="650.00" y="60.40" font-size="8.5" text-anchor="start" fill="#151515">24 h</text>
<line x1="399.00" y1="66.80" x2="673.00" y2="66.80" stroke="#111" stroke-width="1.0" stroke-dasharray="3.2 1.9"/>
<polyline points="403.50,63.00 397.60,66.80 403.50,70.60" fill="none" stroke="#111" stroke-width="1.0"/>
<polyline points="668.00,63.00 674.00,66.80 668.00,70.60" fill="none" stroke="#111" stroke-width="1.0"/>
<line x1="416.30" y1="85.90" x2="431.00" y2="85.90" stroke="#222" stroke-width="1.0"/>
<circle cx="423.60" cy="85.90" r="3.20" fill="#fff" stroke="#222" stroke-width="0.9"/>
<text x="434.70" y="89.00" font-size="8.5" text-anchor="start" fill="#151515">BSL</text>
<line x1="456.80" y1="85.90" x2="471.60" y2="85.90" stroke="#f2a3a8" stroke-width="1.0"/>
<circle cx="464.20" cy="85.90" r="3.20" fill="#f2a3a8"/>
<text x="474.80" y="89.00" font-size="8.5" text-anchor="start" fill="#151515">ASD6h</text>
<line x1="508.50" y1="85.90" x2="523.40" y2="85.90" stroke="#e8434a" stroke-width="1.0"/>
<circle cx="516.00" cy="85.90" r="3.20" fill="#e8434a"/>
<text x="527.90" y="89.00" font-size="8.5" text-anchor="start" fill="#151515">ASD9h</text>
<line x1="560.90" y1="85.90" x2="575.50" y2="85.90" stroke="#c4161f" stroke-width="1.0"/>
<circle cx="568.20" cy="85.90" r="3.20" fill="#c4161f"/>
<text x="580.40" y="89.00" font-size="8.5" text-anchor="start" fill="#151515">ASD12h</text>
<line x1="618.00" y1="85.90" x2="632.20" y2="85.90" stroke="#a6a6a6" stroke-width="1.0"/>
<circle cx="625.30" cy="85.90" r="3.20" fill="#a6a6a6"/>
<text x="637.70" y="89.00" font-size="8.5" text-anchor="start" fill="#151515">REC</text>
<line x1="395.80" y1="221.40" x2="395.80" y2="105.90" stroke="#8a8a8a" stroke-width="0.9"/>
<line x1="393.20" y1="105.90" x2="395.80" y2="105.90" stroke="#8a8a8a" stroke-width="0.9"/>
<text x="389.70" y="109.10" font-size="8.8" text-anchor="end" fill="#151515">10</text>
<line x1="393.20" y1="163.65" x2="395.80" y2="163.65" stroke="#8a8a8a" stroke-width="0.9"/>
<text x="389.70" y="166.85" font-size="8.8" text-anchor="end" fill="#151515">5</text>
<line x1="393.20" y1="221.40" x2="395.80" y2="221.40" stroke="#8a8a8a" stroke-width="0.9"/>
<text x="389.70" y="224.60" font-size="8.8" text-anchor="end" fill="#151515">0</text>
<line x1="394.00" y1="221.40" x2="453.90" y2="221.40" stroke="#555" stroke-width="0.9"/>
<line x1="407.00" y1="219.67" x2="407.00" y2="218.74" stroke="#222" stroke-width="0.9"/>
<line x1="405.00" y1="218.74" x2="409.00" y2="218.74" stroke="#222" stroke-width="0.9"/>
<rect x="401.00" y="219.67" width="12.00" height="1.73" fill="#f0a0a8" stroke="#3a1010" stroke-width="0.9"/>
<line x1="424.40" y1="209.85" x2="424.40" y2="206.73" stroke="#222" stroke-width="0.9"/>
<line x1="422.40" y1="206.73" x2="426.40" y2="206.73" stroke="#222" stroke-width="0.9"/>
<rect x="418.40" y="209.85" width="12.00" height="11.55" fill="#f03c44" stroke="#3a1010" stroke-width="0.9"/>
<line x1="441.60" y1="199.22" x2="441.60" y2="194.03" stroke="#222" stroke-width="0.9"/>
<line x1="439.60" y1="194.03" x2="443.60" y2="194.03" stroke="#222" stroke-width="0.9"/>
<rect x="435.60" y="199.22" width="12.00" height="22.18" fill="#ad1820" stroke="#3a1010" stroke-width="0.9"/>
<polygon points="407.40,128.20 407.93,129.47 409.30,129.58 408.26,130.48 408.58,131.82 407.40,131.10 406.22,131.82 406.54,130.48 405.50,129.58 406.87,129.47" fill="#222"/>
<polygon points="424.80,128.20 425.33,129.47 426.70,129.58 425.66,130.48 425.98,131.82 424.80,131.10 423.62,131.82 423.94,130.48 422.90,129.58 424.27,129.47" fill="#222"/>
<polygon points="442.00,128.20 442.53,129.47 443.90,129.58 442.86,130.48 443.18,131.82 442.00,131.10 440.82,131.82 441.14,130.48 440.10,129.58 441.47,129.47" fill="#222"/>
<text x="372.50" y="163.70" font-size="8.5" text-anchor="middle" fill="#151515" transform="rotate(-90 372.50 163.70)">NREMS amount (min)</text>
<text x="410.70" y="229.60" font-size="8.5" text-anchor="end" fill="#151515" transform="rotate(-45 410.70 229.60)">ASD6h</text>
<text x="428.10" y="229.60" font-size="8.5" text-anchor="end" fill="#151515" transform="rotate(-45 428.10 229.60)">ASD9h</text>
<text x="445.30" y="229.60" font-size="8.5" text-anchor="end" fill="#151515" transform="rotate(-45 445.30 229.60)">ASD12h</text>
<line x1="509.50" y1="221.40" x2="509.50" y2="105.90" stroke="#333" stroke-width="0.9"/>
<line x1="506.90" y1="221.40" x2="509.50" y2="221.40" stroke="#333" stroke-width="0.9"/>
<text x="503.40" y="224.60" font-size="8.8" text-anchor="end" fill="#151515">0</text>
<line x1="506.90" y1="198.30" x2="509.50" y2="198.30" stroke="#333" stroke-width="0.9"/>
<text x="503.40" y="201.50" font-size="8.8" text-anchor="end" fill="#151515">1</text>
<line x1="506.90" y1="175.20" x2="509.50" y2="175.20" stroke="#333" stroke-width="0.9"/>
<text x="503.40" y="178.40" font-size="8.8" text-anchor="end" fill="#151515">2</text>
<line x1="506.90" y1="152.10" x2="509.50" y2="152.10" stroke="#333" stroke-width="0.9"/>
<text x="503.40" y="155.30" font-size="8.8" text-anchor="end" fill="#151515">3</text>
<line x1="506.90" y1="129.00" x2="509.50" y2="129.00" stroke="#333" stroke-width="0.9"/>
<text x="503.40" y="132.20" font-size="8.8" text-anchor="end" fill="#151515">4</text>
<line x1="506.90" y1="105.90" x2="509.50" y2="105.90" stroke="#333" stroke-width="0.9"/>
<text x="503.40" y="109.10" font-size="8.8" text-anchor="end" fill="#151515">5</text>
<line x1="506.60" y1="221.40" x2="567.80" y2="221.40" stroke="#333" stroke-width="0.9"/>
<rect x="515.00" y="213.08" width="12.00" height="8.32" fill="#fff" stroke="#222" stroke-width="0.9"/>
<rect x="532.30" y="193.22" width="12.00" height="28.18" fill="#fff" stroke="#222" stroke-width="0.9"/>
<rect x="549.35" y="171.27" width="12.00" height="50.13" fill="#fff" stroke="#222" stroke-width="0.9"/>
<circle cx="517.80" cy="206.10" r="1.90" fill="#f2a3a8"/>
<circle cx="526.70" cy="210.00" r="1.90" fill="#f2a3a8"/>
<circle cx="523.80" cy="214.00" r="1.90" fill="#f2a3a8"/>
<circle cx="519.40" cy="217.20" r="1.90" fill="#f2a3a8"/>
<circle cx="516.40" cy="212.60" r="1.90" fill="#f2a3a8"/>
<circle cx="538.20" cy="167.70" r="1.90" fill="#e8434a"/>
<circle cx="538.00" cy="185.50" r="1.90" fill="#e8434a"/>
<circle cx="535.20" cy="197.80" r="1.90" fill="#e8434a"/>
<circle cx="543.70" cy="197.80" r="1.90" fill="#e8434a"/>
<circle cx="535.20" cy="205.70" r="1.90" fill="#e8434a"/>
<circle cx="541.10" cy="203.30" r="1.90" fill="#e8434a"/>
<circle cx="555.40" cy="140.80" r="1.90" fill="#a3141f"/>
<circle cx="549.40" cy="169.70" r="1.90" fill="#a3141f"/>
<circle cx="558.30" cy="165.60" r="1.90" fill="#a3141f"/>
<circle cx="552.60" cy="175.00" r="1.90" fill="#a3141f"/>
<circle cx="558.30" cy="178.00" r="1.90" fill="#a3141f"/>
<circle cx="555.40" cy="198.20" r="1.90" fill="#a3141f"/>
<line x1="521.00" y1="211.00" x2="521.00" y2="215.16" stroke="#222" stroke-width="0.8"/>
<line x1="519.20" y1="211.00" x2="522.80" y2="211.00" stroke="#222" stroke-width="0.8"/>
<line x1="519.20" y1="215.16" x2="522.80" y2="215.16" stroke="#222" stroke-width="0.8"/>
<line x1="538.30" y1="187.44" x2="538.30" y2="198.99" stroke="#222" stroke-width="0.8"/>
<line x1="536.50" y1="187.44" x2="540.10" y2="187.44" stroke="#222" stroke-width="0.8"/>
<line x1="536.50" y1="198.99" x2="540.10" y2="198.99" stroke="#222" stroke-width="0.8"/>
<line x1="555.35" y1="163.65" x2="555.35" y2="178.90" stroke="#222" stroke-width="0.8"/>
<line x1="553.55" y1="163.65" x2="557.15" y2="163.65" stroke="#222" stroke-width="0.8"/>
<line x1="553.55" y1="178.90" x2="557.15" y2="178.90" stroke="#222" stroke-width="0.8"/>
<line x1="521.80" y1="111.80" x2="555.40" y2="111.80" stroke="#555" stroke-width="0.9"/>
<text x="538.60" y="111.20" font-size="9.5" text-anchor="middle" fill="#151515">+</text>
<line x1="539.20" y1="122.00" x2="556.40" y2="122.00" stroke="#555" stroke-width="0.9"/>
<text x="547.70" y="121.40" font-size="9.5" text-anchor="middle" fill="#151515">+</text>
<line x1="521.00" y1="152.30" x2="538.80" y2="152.30" stroke="#555" stroke-width="0.9"/>
<text x="529.30" y="151.70" font-size="9.5" text-anchor="middle" fill="#151515">+</text>
<text x="491.80" y="163.60" font-size="8.5" text-anchor="middle" fill="#151515" transform="rotate(-90 491.80 163.60)">NREMS bout (no. per h)</text>
<text x="522.70" y="229.60" font-size="8.5" text-anchor="end" fill="#151515" transform="rotate(-45 522.70 229.60)">ASD6h</text>
<text x="540.00" y="229.60" font-size="8.5" text-anchor="end" fill="#151515" transform="rotate(-45 540.00 229.60)">ASD9h</text>
<text x="557.05" y="229.60" font-size="8.5" text-anchor="end" fill="#151515" transform="rotate(-45 557.05 229.60)">ASD12h</text>
<line x1="624.30" y1="221.60" x2="624.30" y2="105.30" stroke="#333" stroke-width="0.9"/>
<line x1="621.70" y1="221.60" x2="624.30" y2="221.60" stroke="#333" stroke-width="0.9"/>
<text x="618.20" y="224.80" font-size="8.8" text-anchor="end" fill="#151515">0</text>
<line x1="621.70" y1="182.83" x2="624.30" y2="182.83" stroke="#333" stroke-width="0.9"/>
<text x="618.20" y="186.03" font-size="8.8" text-anchor="end" fill="#151515">10</text>
<line x1="621.70" y1="144.07" x2="624.30" y2="144.07" stroke="#333" stroke-width="0.9"/>
<text x="618.20" y="147.27" font-size="8.8" text-anchor="end" fill="#151515">20</text>
<line x1="621.70" y1="105.30" x2="624.30" y2="105.30" stroke="#333" stroke-width="0.9"/>
<text x="618.20" y="108.50" font-size="8.8" text-anchor="end" fill="#151515">30</text>
<line x1="622.30" y1="221.60" x2="683.60" y2="221.60" stroke="#333" stroke-width="0.9"/>
<rect x="630.75" y="156.47" width="12.00" height="65.13" fill="#fff" stroke="#222" stroke-width="0.9"/>
<rect x="647.95" y="155.89" width="12.00" height="65.71" fill="#fff" stroke="#222" stroke-width="0.9"/>
<rect x="665.35" y="185.16" width="12.00" height="36.44" fill="#fff" stroke="#222" stroke-width="0.9"/>
<circle cx="634.20" cy="151.30" r="1.90" fill="#f2a3a8"/>
<circle cx="639.70" cy="149.30" r="1.90" fill="#f2a3a8"/>
<circle cx="633.80" cy="155.30" r="1.90" fill="#f2a3a8"/>
<circle cx="639.10" cy="158.60" r="1.90" fill="#f2a3a8"/>
<circle cx="636.50" cy="171.70" r="1.90" fill="#f2a3a8"/>
<circle cx="653.90" cy="129.00" r="1.90" fill="#e8434a"/>
<circle cx="653.90" cy="144.00" r="1.90" fill="#e8434a"/>
<circle cx="652.00" cy="157.80" r="1.90" fill="#e8434a"/>
<circle cx="657.50" cy="155.90" r="1.90" fill="#e8434a"/>
<circle cx="653.90" cy="187.90" r="1.90" fill="#e8434a"/>
<circle cx="668.20" cy="175.60" r="1.90" fill="#a3141f"/>
<circle cx="674.10" cy="175.60" r="1.90" fill="#a3141f"/>
<circle cx="667.80" cy="181.60" r="1.90" fill="#a3141f"/>
<circle cx="674.70" cy="181.00" r="1.90" fill="#a3141f"/>
<circle cx="671.30" cy="186.30" r="1.90" fill="#a3141f"/>
<circle cx="671.30" cy="207.30" r="1.90" fill="#a3141f"/>
<line x1="636.75" y1="152.60" x2="636.75" y2="160.35" stroke="#222" stroke-width="0.8"/>
<line x1="634.95" y1="152.60" x2="638.55" y2="152.60" stroke="#222" stroke-width="0.8"/>
<line x1="634.95" y1="160.35" x2="638.55" y2="160.35" stroke="#222" stroke-width="0.8"/>
<line x1="653.95" y1="146.78" x2="653.95" y2="165.00" stroke="#222" stroke-width="0.8"/>
<line x1="652.15" y1="146.78" x2="655.75" y2="146.78" stroke="#222" stroke-width="0.8"/>
<line x1="652.15" y1="165.00" x2="655.75" y2="165.00" stroke="#222" stroke-width="0.8"/>
<line x1="671.35" y1="179.73" x2="671.35" y2="189.81" stroke="#222" stroke-width="0.8"/>
<line x1="669.55" y1="179.73" x2="673.15" y2="179.73" stroke="#222" stroke-width="0.8"/>
<line x1="669.55" y1="189.81" x2="673.15" y2="189.81" stroke="#222" stroke-width="0.8"/>
<line x1="638.10" y1="111.20" x2="671.70" y2="111.20" stroke="#555" stroke-width="0.9"/>
<text x="654.90" y="110.60" font-size="9.5" text-anchor="middle" fill="#151515">+</text>
<line x1="654.30" y1="121.70" x2="672.10" y2="121.70" stroke="#555" stroke-width="0.9"/>
<text x="663.20" y="121.10" font-size="9.5" text-anchor="middle" fill="#151515">+</text>
<text x="601.60" y="163.20" font-size="8.5" text-anchor="middle" fill="#151515" transform="rotate(-90 601.60 163.20)">Latency to NREMS (min)</text>
<text x="639.25" y="229.60" font-size="8.5" text-anchor="end" fill="#151515" transform="rotate(-45 639.25 229.60)">ASD6h</text>
<text x="656.45" y="229.60" font-size="8.5" text-anchor="end" fill="#151515" transform="rotate(-45 656.45 229.60)">ASD9h</text>
<text x="673.85" y="229.60" font-size="8.5" text-anchor="end" fill="#151515" transform="rotate(-45 673.85 229.60)">ASD12h</text>
<text x="0.40" y="279.70" font-size="16" text-anchor="start" fill="#111" font-weight="bold">c</text>
<line x1="32.60" y1="400.20" x2="32.60" y2="284.60" stroke="#333" stroke-width="0.9"/>
<line x1="30.00" y1="400.20" x2="32.60" y2="400.20" stroke="#333" stroke-width="0.9"/>
<text x="26.50" y="403.40" font-size="8.8" text-anchor="end" fill="#151515">0</text>
<line x1="30.00" y1="361.67" x2="32.60" y2="361.67" stroke="#333" stroke-width="0.9"/>
<text x="26.50" y="364.87" font-size="8.8" text-anchor="end" fill="#151515">10</text>
<line x1="30.00" y1="323.13" x2="32.60" y2="323.13" stroke="#333" stroke-width="0.9"/>
<text x="26.50" y="326.33" font-size="8.8" text-anchor="end" fill="#151515">20</text>
<line x1="30.00" y1="284.60" x2="32.60" y2="284.60" stroke="#333" stroke-width="0.9"/>
<text x="26.50" y="287.80" font-size="8.8" text-anchor="end" fill="#151515">30</text>
<line x1="30.60" y1="400.20" x2="149.30" y2="400.20" stroke="#333" stroke-width="0.9"/>
<rect x="38.70" y="331.03" width="13.60" height="69.17" fill="#fff" stroke="#222" stroke-width="0.9"/>
<rect x="61.20" y="339.32" width="13.60" height="60.88" fill="#fff" stroke="#222" stroke-width="0.9"/>
<rect x="83.80" y="356.66" width="13.60" height="43.54" fill="#fff" stroke="#222" stroke-width="0.9"/>
<rect x="106.10" y="359.35" width="13.60" height="40.85" fill="#fff" stroke="#222" stroke-width="0.9"/>
<rect x="128.50" y="335.08" width="13.60" height="65.12" fill="#fff" stroke="#222" stroke-width="0.9"/>
<circle cx="42.50" cy="317.80" r="1.90" fill="#fff" stroke="#222" stroke-width="0.7"/>
<circle cx="48.40" cy="315.70" r="1.90" fill="#fff" stroke="#222" stroke-width="0.7"/>
<circle cx="42.50" cy="333.00" r="1.90" fill="#fff" stroke="#222" stroke-width="0.7"/>
<circle cx="48.40" cy="333.00" r="1.90" fill="#fff" stroke="#222" stroke-width="0.7"/>
<circle cx="42.50" cy="344.90" r="1.90" fill="#fff" stroke="#222" stroke-width="0.7"/>
<circle cx="48.40" cy="341.40" r="1.90" fill="#fff" stroke="#222" stroke-width="0.7"/>
<circle cx="67.80" cy="296.50" r="2.00" fill="#f2a3a8"/>
<circle cx="67.80" cy="342.00" r="2.00" fill="#f2a3a8"/>
<circle cx="64.80" cy="352.20" r="2.00" fill="#f2a3a8"/>
<circle cx="70.80" cy="352.20" r="2.00" fill="#f2a3a8"/>
<circle cx="67.80" cy="359.30" r="2.00" fill="#f2a3a8"/>
<circle cx="67.80" cy="333.00" r="2.00" fill="#f2a3a8"/>
<circle cx="87.50" cy="344.80" r="2.00" fill="#e8434a"/>
<circle cx="93.30" cy="340.90" r="2.00" fill="#e8434a"/>
<circle cx="90.50" cy="359.60" r="2.00" fill="#e8434a"/>
<circle cx="90.50" cy="366.00" r="2.00" fill="#e8434a"/>
<circle cx="90.50" cy="375.50" r="2.00" fill="#e8434a"/>
<circle cx="90.50" cy="352.00" r="2.00" fill="#e8434a"/>
<circle cx="113.00" cy="335.00" r="2.00" fill="#a3141f"/>
<circle cx="109.70" cy="354.10" r="2.00" fill="#a3141f"/>
<circle cx="115.60" cy="354.10" r="2.00" fill="#a3141f"/>
<circle cx="113.00" cy="366.00" r="2.00" fill="#a3141f"/>
<circle cx="115.60" cy="371.50" r="2.00" fill="#a3141f"/>
<circle cx="109.70" cy="375.50" r="2.00" fill="#a3141f"/>
<circle cx="132.60" cy="319.20" r="2.00" fill="#a6a6a6"/>
<circle cx="138.50" cy="323.20" r="2.00" fill="#a6a6a6"/>
<circle cx="132.60" cy="331.10" r="2.00" fill="#a6a6a6"/>
<circle cx="138.50" cy="330.10" r="2.00" fill="#a6a6a6"/>
<circle cx="135.60" cy="345.90" r="2.00" fill="#a6a6a6"/>
<circle cx="135.60" cy="358.20" r="2.00" fill="#a6a6a6"/>
<line x1="45.50" y1="326.10" x2="45.50" y2="336.00" stroke="#222" stroke-width="0.8"/>
<line x1="43.50" y1="326.10" x2="47.50" y2="326.10" stroke="#222" stroke-width="0.8"/>
<line x1="43.50" y1="336.00" x2="47.50" y2="336.00" stroke="#222" stroke-width="0.8"/>
<line x1="68.00" y1="328.50" x2="68.00" y2="347.90" stroke="#222" stroke-width="0.8"/>
<line x1="66.00" y1="328.50" x2="70.00" y2="328.50" stroke="#222" stroke-width="0.8"/>
<line x1="66.00" y1="347.90" x2="70.00" y2="347.90" stroke="#222" stroke-width="0.8"/>
<line x1="90.60" y1="351.40" x2="90.60" y2="362.00" stroke="#222" stroke-width="0.8"/>
<line x1="88.60" y1="351.40" x2="92.60" y2="351.40" stroke="#222" stroke-width="0.8"/>
<line x1="88.60" y1="362.00" x2="92.60" y2="362.00" stroke="#222" stroke-width="0.8"/>
<line x1="112.90" y1="353.50" x2="112.90" y2="365.00" stroke="#222" stroke-width="0.8"/>
<line x1="110.90" y1="353.50" x2="114.90" y2="353.50" stroke="#222" stroke-width="0.8"/>
<line x1="110.90" y1="365.00" x2="114.90" y2="365.00" stroke="#222" stroke-width="0.8"/>
<line x1="135.30" y1="328.50" x2="135.30" y2="341.50" stroke="#222" stroke-width="0.8"/>
<line x1="133.30" y1="328.50" x2="137.30" y2="328.50" stroke="#222" stroke-width="0.8"/>
<line x1="133.30" y1="341.50" x2="137.30" y2="341.50" stroke="#222" stroke-width="0.8"/>
<polygon points="89.90,296.90 90.43,298.17 91.80,298.28 90.76,299.18 91.08,300.52 89.90,299.80 88.72,300.52 89.04,299.18 88.00,298.28 89.37,298.17" fill="#222"/>
<polygon points="112.60,296.90 113.13,298.17 114.50,298.28 113.46,299.18 113.78,300.52 112.60,299.80 111.42,300.52 111.74,299.18 110.70,298.28 112.07,298.17" fill="#222"/>
<text x="8.90" y="344.00" font-size="8.5" text-anchor="middle" fill="#151515" transform="rotate(-90 8.90 344.00)">Hot plate withdrawal latency (s)</text>
<text x="49.00" y="408.20" font-size="8.5" text-anchor="end" fill="#151515" transform="rotate(-45 49.00 408.20)">BSL</text>
<text x="71.50" y="408.20" font-size="8.5" text-anchor="end" fill="#151515" transform="rotate(-45 71.50 408.20)">ASD6h</text>
<text x="94.10" y="408.20" font-size="8.5" text-anchor="end" fill="#151515" transform="rotate(-45 94.10 408.20)">ASD9h</text>
<text x="116.40" y="408.20" font-size="8.5" text-anchor="end" fill="#151515" transform="rotate(-45 116.40 408.20)">ASD12h</text>
<text x="138.80" y="408.20" font-size="8.5" text-anchor="end" fill="#151515" transform="rotate(-45 138.80 408.20)">REC</text>
<line x1="186.00" y1="400.50" x2="186.00" y2="284.60" stroke="#333" stroke-width="0.9"/>
<line x1="183.40" y1="400.50" x2="186.00" y2="400.50" stroke="#333" stroke-width="0.9"/>
<text x="179.90" y="403.70" font-size="8.8" text-anchor="end" fill="#151515">0</text>
<line x1="183.40" y1="377.32" x2="186.00" y2="377.32" stroke="#333" stroke-width="0.9"/>
<text x="179.90" y="380.52" font-size="8.8" text-anchor="end" fill="#151515">2</text>
<line x1="183.40" y1="354.14" x2="186.00" y2="354.14" stroke="#333" stroke-width="0.9"/>
<text x="179.90" y="357.34" font-size="8.8" text-anchor="end" fill="#151515">4</text>
<line x1="183.40" y1="330.96" x2="186.00" y2="330.96" stroke="#333" stroke-width="0.9"/>
<text x="179.90" y="334.16" font-size="8.8" text-anchor="end" fill="#151515">6</text>
<line x1="183.40" y1="307.78" x2="186.00" y2="307.78" stroke="#333" stroke-width="0.9"/>
<text x="179.90" y="310.98" font-size="8.8" text-anchor="end" fill="#151515">8</text>
<line x1="183.40" y1="284.60" x2="186.00" y2="284.60" stroke="#333" stroke-width="0.9"/>
<text x="179.90" y="287.80" font-size="8.8" text-anchor="end" fill="#151515">10</text>
<line x1="181.90" y1="400.50" x2="262.90" y2="400.50" stroke="#333" stroke-width="0.9"/>
<line x1="224.30" y1="389.00" x2="224.30" y2="393.00" stroke="#ccc" stroke-width="0.7"/>
<line x1="235.20" y1="384.00" x2="235.20" y2="390.00" stroke="#ccc" stroke-width="0.7"/>
<line x1="246.10" y1="376.50" x2="246.10" y2="382.50" stroke="#ccc" stroke-width="0.7"/>
<line x1="257.40" y1="373.00" x2="257.40" y2="379.00" stroke="#ccc" stroke-width="0.7"/>
<polyline points="191.30,392.00 202.20,393.00 213.50,390.00 224.30,391.00 235.20,387.00 246.10,379.50 257.40,376.00" fill="none" stroke="#a6a6a6" stroke-width="0.9" stroke-dasharray="1 1.2"/>
<circle cx="191.30" cy="392.00" r="2.80" fill="#a6a6a6"/>
<circle cx="202.20" cy="393.00" r="2.80" fill="#a6a6a6"/>
<circle cx="213.50" cy="390.00" r="2.80" fill="#a6a6a6"/>
<circle cx="224.30" cy="391.00" r="2.80" fill="#a6a6a6"/>
<circle cx="235.20" cy="387.00" r="2.80" fill="#a6a6a6"/>
<circle cx="246.10" cy="379.50" r="2.80" fill="#a6a6a6"/>
<circle cx="257.40" cy="376.00" r="2.80" fill="#a6a6a6"/>
<line x1="224.30" y1="383.40" x2="224.30" y2="389.40" stroke="#f6c0c4" stroke-width="0.7"/>
<line x1="235.20" y1="375.50" x2="235.20" y2="383.50" stroke="#f6c0c4" stroke-width="0.7"/>
<line x1="246.10" y1="367.60" x2="246.10" y2="375.60" stroke="#f6c0c4" stroke-width="0.7"/>
<line x1="257.40" y1="370.60" x2="257.40" y2="376.60" stroke="#f6c0c4" stroke-width="0.7"/>
<polyline points="191.30,400.30 202.20,396.30 213.50,394.30 224.30,386.40 235.20,379.50 246.10,371.60 257.40,373.60" fill="none" stroke="#f2a3a8" stroke-width="0.9"/>
<circle cx="191.30" cy="400.30" r="2.80" fill="#f2a3a8"/>
<circle cx="202.20" cy="396.30" r="2.80" fill="#f2a3a8"/>
<circle cx="213.50" cy="394.30" r="2.80" fill="#f2a3a8"/>
<circle cx="224.30" cy="386.40" r="2.80" fill="#f2a3a8"/>
<circle cx="235.20" cy="379.50" r="2.80" fill="#f2a3a8"/>
<circle cx="246.10" cy="371.60" r="2.80" fill="#f2a3a8"/>
<circle cx="257.40" cy="373.60" r="2.80" fill="#f2a3a8"/>
<line x1="191.30" y1="395.30" x2="191.30" y2="399.30" stroke="#222" stroke-width="0.7"/>
<line x1="202.20" y1="391.40" x2="202.20" y2="395.40" stroke="#222" stroke-width="0.7"/>
<line x1="213.50" y1="384.80" x2="213.50" y2="388.80" stroke="#222" stroke-width="0.7"/>
<line x1="224.30" y1="381.50" x2="224.30" y2="387.50" stroke="#222" stroke-width="0.7"/>
<line x1="235.20" y1="377.50" x2="235.20" y2="383.50" stroke="#222" stroke-width="0.7"/>
<line x1="246.10" y1="372.60" x2="246.10" y2="378.60" stroke="#222" stroke-width="0.7"/>
<line x1="257.40" y1="362.30" x2="257.40" y2="368.30" stroke="#222" stroke-width="0.7"/>
<polyline points="191.30,397.30 202.20,393.40 213.50,386.80 224.30,384.50 235.20,380.50 246.10,375.60 257.40,365.30" fill="none" stroke="#222" stroke-width="0.9"/>
<circle cx="191.30" cy="397.30" r="2.80" fill="#fff" stroke="#222" stroke-width="0.8"/>
<circle cx="202.20" cy="393.40" r="2.80" fill="#fff" stroke="#222" stroke-width="0.8"/>
<circle cx="213.50" cy="386.80" r="2.80" fill="#fff" stroke="#222" stroke-width="0.8"/>
<circle cx="224.30" cy="384.50" r="2.80" fill="#fff" stroke="#222" stroke-width="0.8"/>
<circle cx="235.20" cy="380.50" r="2.80" fill="#fff" stroke="#222" stroke-width="0.8"/>
<circle cx="246.10" cy="375.60" r="2.80" fill="#fff" stroke="#222" stroke-width="0.8"/>
<circle cx="257.40" cy="365.30" r="2.80" fill="#fff" stroke="#222" stroke-width="0.8"/>
<line x1="191.30" y1="385.80" x2="191.30" y2="389.80" stroke="#f08a8f" stroke-width="0.7"/>
<line x1="202.20" y1="379.50" x2="202.20" y2="385.50" stroke="#f08a8f" stroke-width="0.7"/>
<line x1="213.50" y1="376.90" x2="213.50" y2="384.90" stroke="#f08a8f" stroke-width="0.7"/>
<line x1="224.30" y1="352.20" x2="224.30" y2="364.20" stroke="#f08a8f" stroke-width="0.7"/>
<line x1="235.20" y1="339.90" x2="235.20" y2="357.90" stroke="#f08a8f" stroke-width="0.7"/>
<line x1="246.10" y1="329.00" x2="246.10" y2="353.00" stroke="#f08a8f" stroke-width="0.7"/>
<line x1="257.40" y1="338.90" x2="257.40" y2="354.90" stroke="#f08a8f" stroke-width="0.7"/>
<polyline points="191.30,387.80 202.20,382.50 213.50,380.90 224.30,358.20 235.20,348.90 246.10,341.00 257.40,346.90" fill="none" stroke="#e8434a" stroke-width="0.9"/>
<circle cx="191.30" cy="387.80" r="2.80" fill="#e8434a"/>
<circle cx="202.20" cy="382.50" r="2.80" fill="#e8434a"/>
<circle cx="213.50" cy="380.90" r="2.80" fill="#e8434a"/>
<circle cx="224.30" cy="358.20" r="2.80" fill="#e8434a"/>
<circle cx="235.20" cy="348.90" r="2.80" fill="#e8434a"/>
<circle cx="246.10" cy="341.00" r="2.80" fill="#e8434a"/>
<circle cx="257.40" cy="346.90" r="2.80" fill="#e8434a"/>
<line x1="191.30" y1="388.40" x2="191.30" y2="392.40" stroke="#c06068" stroke-width="0.7"/>
<line x1="202.20" y1="384.40" x2="202.20" y2="390.40" stroke="#c06068" stroke-width="0.7"/>
<line x1="213.50" y1="364.70" x2="213.50" y2="370.70" stroke="#c06068" stroke-width="0.7"/>
<line x1="224.30" y1="342.50" x2="224.30" y2="350.50" stroke="#c06068" stroke-width="0.7"/>
<line x1="235.20" y1="323.70" x2="235.20" y2="331.70" stroke="#c06068" stroke-width="0.7"/>
<line x1="246.10" y1="306.90" x2="246.10" y2="324.90" stroke="#c06068" stroke-width="0.7"/>
<line x1="257.40" y1="310.90" x2="257.40" y2="316.90" stroke="#c06068" stroke-width="0.7"/>
<polyline points="191.30,390.40 202.20,387.40 213.50,367.70 224.30,346.50 235.20,327.70 246.10,315.90 257.40,313.90" fill="none" stroke="#a3141f" stroke-width="0.9"/>
<circle cx="191.30" cy="390.40" r="2.80" fill="#a3141f"/>
<circle cx="202.20" cy="387.40" r="2.80" fill="#a3141f"/>
<circle cx="213.50" cy="367.70" r="2.80" fill="#a3141f"/>
<circle cx="224.30" cy="346.50" r="2.80" fill="#a3141f"/>
<circle cx="235.20" cy="327.70" r="2.80" fill="#a3141f"/>
<circle cx="246.10" cy="315.90" r="2.80" fill="#a3141f"/>
<circle cx="257.40" cy="313.90" r="2.80" fill="#a3141f"/>
<polygon points="213.50,290.00 214.03,291.27 215.40,291.38 214.36,292.28 214.68,293.62 213.50,292.90 212.32,293.62 212.64,292.28 211.60,291.38 212.97,291.27" fill="#a3141f"/>
<polygon points="224.30,290.00 224.83,291.27 226.20,291.38 225.16,292.28 225.48,293.62 224.30,292.90 223.12,293.62 223.44,292.28 222.40,291.38 223.77,291.27" fill="#a3141f"/>
<polygon points="235.20,290.00 235.73,291.27 237.10,291.38 236.06,292.28 236.38,293.62 235.20,292.90 234.02,293.62 234.34,292.28 233.30,291.38 234.67,291.27" fill="#a3141f"/>
<polygon points="246.10,290.00 246.63,291.27 248.00,291.38 246.96,292.28 247.28,293.62 246.10,292.90 244.92,293.62 245.24,292.28 244.20,291.38 245.57,291.27" fill="#a3141f"/>
<polygon points="257.40,290.00 257.93,291.27 259.30,291.38 258.26,292.28 258.58,293.62 257.40,292.90 256.22,293.62 256.54,292.28 255.50,291.38 256.87,291.27" fill="#a3141f"/>
<polygon points="224.30,295.90 224.83,297.17 226.20,297.28 225.16,298.18 225.48,299.52 224.30,298.80 223.12,299.52 223.44,298.18 222.40,297.28 223.77,297.17" fill="#e8636a"/>
<polygon points="235.20,295.90 235.73,297.17 237.10,297.28 236.06,298.18 236.38,299.52 235.20,298.80 234.02,299.52 234.34,298.18 233.30,297.28 234.67,297.17" fill="#e8636a"/>
<polygon points="246.10,295.90 246.63,297.17 248.00,297.28 246.96,298.18 247.28,299.52 246.10,298.80 244.92,299.52 245.24,298.18 244.20,297.28 245.57,297.17" fill="#e8636a"/>
<polygon points="257.40,295.90 257.93,297.17 259.30,297.28 258.26,298.18 258.58,299.52 257.40,298.80 256.22,299.52 256.54,298.18 255.50,297.28 256.87,297.17" fill="#e8636a"/>
<text x="163.30" y="341.50" font-size="8.5" text-anchor="middle" fill="#151515" transform="rotate(-90 163.30 341.50)">von Frey (no. of withdrawals)</text>
<text x="193.70" y="411.80" font-size="8.5" text-anchor="end" fill="#151515" transform="rotate(-45 193.70 411.80)">0.07</text>
<line x1="191.30" y1="400.50" x2="191.30" y2="403.30" stroke="#333" stroke-width="0.8"/>
<text x="204.60" y="411.80" font-size="8.5" text-anchor="end" fill="#151515" transform="rotate(-45 204.60 411.80)">0.16</text>
<line x1="202.20" y1="400.50" x2="202.20" y2="403.30" stroke="#333" stroke-width="0.8"/>
<text x="215.90" y="411.80" font-size="8.5" text-anchor="end" fill="#151515" transform="rotate(-45 215.90 411.80)">0.4</text>
<line x1="213.50" y1="400.50" x2="213.50" y2="403.30" stroke="#333" stroke-width="0.8"/>
<text x="226.70" y="411.80" font-size="8.5" text-anchor="end" fill="#151515" transform="rotate(-45 226.70 411.80)">0.6</text>
<line x1="224.30" y1="400.50" x2="224.30" y2="403.30" stroke="#333" stroke-width="0.8"/>
<text x="237.60" y="411.80" font-size="8.5" text-anchor="end" fill="#151515" transform="rotate(-45 237.60 411.80)">1.0</text>
<line x1="235.20" y1="400.50" x2="235.20" y2="403.30" stroke="#333" stroke-width="0.8"/>
<text x="248.50" y="411.80" font-size="8.5" text-anchor="end" fill="#151515" transform="rotate(-45 248.50 411.80)">1.4</text>
<line x1="246.10" y1="400.50" x2="246.10" y2="403.30" stroke="#333" stroke-width="0.8"/>
<text x="259.80" y="411.80" font-size="8.5" text-anchor="end" fill="#151515" transform="rotate(-45 259.80 411.80)">2.0</text>
<line x1="257.40" y1="400.50" x2="257.40" y2="403.30" stroke="#333" stroke-width="0.8"/>
<text x="224.30" y="433.90" font-size="8.5" text-anchor="middle" fill="#151515">Pressure (g)</text>
<line x1="305.10" y1="400.90" x2="305.10" y2="285.00" stroke="#333" stroke-width="0.9"/>
<line x1="302.50" y1="400.90" x2="305.10" y2="400.90" stroke="#333" stroke-width="0.9"/>
<text x="299.00" y="404.10" font-size="8.8" text-anchor="end" fill="#151515">0</text>
<line x1="302.50" y1="371.92" x2="305.10" y2="371.92" stroke="#333" stroke-width="0.9"/>
<text x="299.00" y="375.12" font-size="8.8" text-anchor="end" fill="#151515">20</text>
<line x1="302.50" y1="342.95" x2="305.10" y2="342.95" stroke="#333" stroke-width="0.9"/>
<text x="299.00" y="346.15" font-size="8.8" text-anchor="end" fill="#151515">40</text>
<line x1="302.50" y1="313.98" x2="305.10" y2="313.98" stroke="#333" stroke-width="0.9"/>
<text x="299.00" y="317.18" font-size="8.8" text-anchor="end" fill="#151515">60</text>
<line x1="302.50" y1="285.00" x2="305.10" y2="285.00" stroke="#333" stroke-width="0.9"/>
<text x="299.00" y="288.20" font-size="8.8" text-anchor="end" fill="#151515">80</text>
<line x1="303.70" y1="400.90" x2="364.00" y2="400.90" stroke="#333" stroke-width="0.9"/>
<rect x="314.25" y="352.80" width="16.50" height="48.10" fill="#fff" stroke="#222" stroke-width="0.9"/>
<rect x="338.15" y="338.00" width="16.50" height="62.90" fill="#fff" stroke="#222" stroke-width="0.9"/>
<circle cx="322.30" cy="328.10" r="1.90" fill="#fff" stroke="#222" stroke-width="0.7"/>
<circle cx="319.30" cy="343.30" r="1.90" fill="#fff" stroke="#222" stroke-width="0.7"/>
<circle cx="325.60" cy="345.90" r="1.90" fill="#fff" stroke="#222" stroke-width="0.7"/>
<circle cx="317.30" cy="356.20" r="1.90" fill="#fff" stroke="#222" stroke-width="0.7"/>
<circle cx="328.20" cy="356.20" r="1.90" fill="#fff" stroke="#222" stroke-width="0.7"/>
<circle cx="322.30" cy="359.70" r="1.90" fill="#fff" stroke="#222" stroke-width="0.7"/>
<circle cx="322.30" cy="368.60" r="1.90" fill="#fff" stroke="#222" stroke-width="0.7"/>
<circle cx="320.00" cy="352.50" r="1.90" fill="#fff" stroke="#222" stroke-width="0.7"/>
<circle cx="325.50" cy="352.00" r="1.90" fill="#fff" stroke="#222" stroke-width="0.7"/>
<circle cx="346.00" cy="321.80" r="2.00" fill="#e8434a"/>
<circle cx="339.40" cy="330.10" r="2.00" fill="#e8434a"/>
<circle cx="352.50" cy="329.70" r="2.00" fill="#e8434a"/>
<circle cx="348.50" cy="333.10" r="2.00" fill="#e8434a"/>
<circle cx="344.00" cy="337.60" r="2.00" fill="#e8434a"/>
<circle cx="349.30" cy="343.90" r="2.00" fill="#e8434a"/>
<circle cx="343.00" cy="353.80" r="2.00" fill="#e8434a"/>
<circle cx="348.90" cy="351.40" r="2.00" fill="#e8434a"/>
<line x1="322.50" y1="349.50" x2="322.50" y2="356.00" stroke="#222" stroke-width="0.8"/>
<line x1="320.50" y1="349.50" x2="324.50" y2="349.50" stroke="#222" stroke-width="0.8"/>
<line x1="320.50" y1="356.00" x2="324.50" y2="356.00" stroke="#222" stroke-width="0.8"/>
<line x1="346.40" y1="333.70" x2="346.40" y2="342.20" stroke="#222" stroke-width="0.8"/>
<line x1="344.40" y1="333.70" x2="348.40" y2="333.70" stroke="#222" stroke-width="0.8"/>
<line x1="344.40" y1="342.20" x2="348.40" y2="342.20" stroke="#222" stroke-width="0.8"/>
<polygon points="345.00,296.50 345.53,297.77 346.90,297.88 345.86,298.78 346.18,300.12 345.00,299.40 343.82,300.12 344.14,298.78 343.10,297.88 344.47,297.77" fill="#222"/>
<text x="280.60" y="345.60" font-size="8.3" text-anchor="middle" fill="#151515" transform="rotate(-90 280.60 345.60)">Capsaicin, time spent licking (s)</text>
<text x="325.00" y="408.60" font-size="8.5" text-anchor="end" fill="#151515" transform="rotate(-45 325.00 408.60)">Sham</text>
<text x="348.00" y="409.00" font-size="8.5" text-anchor="end" fill="#151515" transform="rotate(-45 348.00 409.00)">ASD9h</text>
<text x="384.20" y="279.10" font-size="16" text-anchor="start" fill="#111" font-weight="bold">d</text>
<line x1="415.20" y1="400.00" x2="415.20" y2="284.20" stroke="#8a8a8a" stroke-width="0.9"/>
<line x1="412.60" y1="400.00" x2="415.20" y2="400.00" stroke="#8a8a8a" stroke-width="0.9"/>
<text x="409.10" y="403.20" font-size="8.8" text-anchor="end" fill="#151515">0</text>
<line x1="412.60" y1="361.40" x2="415.20" y2="361.40" stroke="#8a8a8a" stroke-width="0.9"/>
<text x="409.10" y="364.60" font-size="8.8" text-anchor="end" fill="#151515">10</text>
<line x1="412.60" y1="322.80" x2="415.20" y2="322.80" stroke="#8a8a8a" stroke-width="0.9"/>
<text x="409.10" y="326.00" font-size="8.8" text-anchor="end" fill="#151515">20</text>
<line x1="412.60" y1="284.20" x2="415.20" y2="284.20" stroke="#8a8a8a" stroke-width="0.9"/>
<text x="409.10" y="287.40" font-size="8.8" text-anchor="end" fill="#151515">30</text>
<line x1="412.40" y1="400.00" x2="472.90" y2="400.00" stroke="#8a8a8a" stroke-width="0.9"/>
<rect x="423.50" y="345.50" width="16.80" height="54.50" fill="#fff" stroke="#222" stroke-width="0.9"/>
<rect x="447.30" y="362.50" width="16.60" height="37.50" fill="#fff" stroke="#222" stroke-width="0.9"/>
<circle cx="431.80" cy="323.20" r="1.90" fill="#fff" stroke="#222" stroke-width="0.7"/>
<circle cx="431.80" cy="330.10" r="1.90" fill="#fff" stroke="#222" stroke-width="0.7"/>
<circle cx="428.40" cy="340.40" r="1.90" fill="#fff" stroke="#222" stroke-width="0.7"/>
<circle cx="434.90" cy="340.40" r="1.90" fill="#fff" stroke="#222" stroke-width="0.7"/>
<circle cx="431.80" cy="342.00" r="1.90" fill="#fff" stroke="#222" stroke-width="0.7"/>
<circle cx="425.80" cy="349.90" r="1.90" fill="#fff" stroke="#222" stroke-width="0.7"/>
<circle cx="438.30" cy="346.90" r="1.90" fill="#fff" stroke="#222" stroke-width="0.7"/>
<circle cx="431.80" cy="352.20" r="1.90" fill="#fff" stroke="#222" stroke-width="0.7"/>
<circle cx="435.30" cy="357.40" r="1.90" fill="#fff" stroke="#222" stroke-width="0.7"/>
<circle cx="429.00" cy="362.70" r="1.90" fill="#fff" stroke="#222" stroke-width="0.7"/>
<circle cx="455.70" cy="350.80" r="2.00" fill="#e8434a"/>
<circle cx="449.60" cy="358.80" r="2.00" fill="#e8434a"/>
<circle cx="460.60" cy="356.80" r="2.00" fill="#e8434a"/>
<circle cx="455.10" cy="359.70" r="2.00" fill="#e8434a"/>
<circle cx="449.60" cy="363.30" r="2.00" fill="#e8434a"/>
<circle cx="460.60" cy="363.30" r="2.00" fill="#e8434a"/>
<circle cx="451.10" cy="368.00" r="2.00" fill="#e8434a"/>
<circle cx="456.10" cy="369.20" r="2.00" fill="#e8434a"/>
<circle cx="460.00" cy="367.60" r="2.00" fill="#e8434a"/>
<line x1="431.90" y1="339.60" x2="431.90" y2="351.40" stroke="#222" stroke-width="0.8"/>
<line x1="429.90" y1="339.60" x2="433.90" y2="339.60" stroke="#222" stroke-width="0.8"/>
<line x1="429.90" y1="351.40" x2="433.90" y2="351.40" stroke="#222" stroke-width="0.8"/>
<line x1="455.60" y1="359.50" x2="455.60" y2="366.00" stroke="#222" stroke-width="0.8"/>
<line x1="453.60" y1="359.50" x2="457.60" y2="359.50" stroke="#222" stroke-width="0.8"/>
<line x1="453.60" y1="366.00" x2="457.60" y2="366.00" stroke="#222" stroke-width="0.8"/>
<polygon points="455.10,296.90 455.63,298.17 457.00,298.28 455.96,299.18 456.28,300.52 455.10,299.80 453.92,300.52 454.24,299.18 453.20,298.28 454.57,298.17" fill="#222"/>
<text x="391.90" y="343.00" font-size="8.5" text-anchor="middle" fill="#151515" transform="rotate(-90 391.90 343.00)">Hot plate withdrawal latency (s)</text>
<text x="435.00" y="409.50" font-size="8.5" text-anchor="end" fill="#151515" transform="rotate(-45 435.00 409.50)">BSL</text>
<text x="458.80" y="409.50" font-size="8.5" text-anchor="end" fill="#151515" transform="rotate(-45 458.80 409.50)">ASD9h</text>
<line x1="506.20" y1="400.30" x2="506.20" y2="284.60" stroke="#333" stroke-width="0.9"/>
<line x1="503.60" y1="400.30" x2="506.20" y2="400.30" stroke="#333" stroke-width="0.9"/>
<text x="500.10" y="403.50" font-size="8.8" text-anchor="end" fill="#151515">0</text>
<line x1="503.60" y1="377.16" x2="506.20" y2="377.16" stroke="#333" stroke-width="0.9"/>
<text x="500.10" y="380.36" font-size="8.8" text-anchor="end" fill="#151515">2</text>
<line x1="503.60" y1="354.02" x2="506.20" y2="354.02" stroke="#333" stroke-width="0.9"/>
<text x="500.10" y="357.22" font-size="8.8" text-anchor="end" fill="#151515">4</text>
<line x1="503.60" y1="330.88" x2="506.20" y2="330.88" stroke="#333" stroke-width="0.9"/>
<text x="500.10" y="334.08" font-size="8.8" text-anchor="end" fill="#151515">6</text>
<line x1="503.60" y1="307.74" x2="506.20" y2="307.74" stroke="#333" stroke-width="0.9"/>
<text x="500.10" y="310.94" font-size="8.8" text-anchor="end" fill="#151515">8</text>
<line x1="503.60" y1="284.60" x2="506.20" y2="284.60" stroke="#333" stroke-width="0.9"/>
<text x="500.10" y="287.80" font-size="8.8" text-anchor="end" fill="#151515">10</text>
<line x1="502.60" y1="400.30" x2="583.60" y2="400.30" stroke="#333" stroke-width="0.9"/>
<line x1="534.20" y1="396.90" x2="534.20" y2="400.90" stroke="#222" stroke-width="0.7"/>
<line x1="544.70" y1="384.40" x2="544.70" y2="390.40" stroke="#222" stroke-width="0.7"/>
<line x1="555.00" y1="373.50" x2="555.00" y2="383.50" stroke="#222" stroke-width="0.7"/>
<line x1="565.50" y1="364.60" x2="565.50" y2="376.60" stroke="#222" stroke-width="0.7"/>
<line x1="576.10" y1="362.30" x2="576.10" y2="374.30" stroke="#222" stroke-width="0.7"/>
<polyline points="513.10,400.30 523.80,399.90 534.20,398.90 544.70,387.40 555.00,378.50 565.50,370.60 576.10,368.30" fill="none" stroke="#222" stroke-width="0.9"/>
<circle cx="513.10" cy="400.30" r="3.00" fill="#fff" stroke="#222" stroke-width="0.8"/>
<circle cx="523.80" cy="399.90" r="3.00" fill="#fff" stroke="#222" stroke-width="0.8"/>
<circle cx="534.20" cy="398.90" r="3.00" fill="#fff" stroke="#222" stroke-width="0.8"/>
<circle cx="544.70" cy="387.40" r="3.00" fill="#fff" stroke="#222" stroke-width="0.8"/>
<circle cx="555.00" cy="378.50" r="3.00" fill="#fff" stroke="#222" stroke-width="0.8"/>
<circle cx="565.50" cy="370.60" r="3.00" fill="#fff" stroke="#222" stroke-width="0.8"/>
<circle cx="576.10" cy="368.30" r="3.00" fill="#fff" stroke="#222" stroke-width="0.8"/>
<line x1="523.80" y1="392.90" x2="523.80" y2="396.90" stroke="#f08a8f" stroke-width="0.7"/>
<line x1="534.20" y1="377.10" x2="534.20" y2="385.10" stroke="#f08a8f" stroke-width="0.7"/>
<line x1="544.70" y1="339.30" x2="544.70" y2="353.30" stroke="#f08a8f" stroke-width="0.7"/>
<line x1="555.00" y1="331.00" x2="555.00" y2="347.00" stroke="#f08a8f" stroke-width="0.7"/>
<line x1="565.50" y1="329.60" x2="565.50" y2="345.60" stroke="#f08a8f" stroke-width="0.7"/>
<line x1="576.10" y1="312.60" x2="576.10" y2="328.60" stroke="#f08a8f" stroke-width="0.7"/>
<polyline points="513.10,400.30 523.80,394.90 534.20,381.10 544.70,346.30 555.00,339.00 565.50,337.60 576.10,320.60" fill="none" stroke="#e8434a" stroke-width="0.9"/>
<circle cx="513.10" cy="400.30" r="3.00" fill="#e8434a"/>
<circle cx="523.80" cy="394.90" r="3.00" fill="#e8434a"/>
<circle cx="534.20" cy="381.10" r="3.00" fill="#e8434a"/>
<circle cx="544.70" cy="346.30" r="3.00" fill="#e8434a"/>
<circle cx="555.00" cy="339.00" r="3.00" fill="#e8434a"/>
<circle cx="565.50" cy="337.60" r="3.00" fill="#e8434a"/>
<circle cx="576.10" cy="320.60" r="3.00" fill="#e8434a"/>
<polygon points="532.80,295.90 533.33,297.17 534.70,297.28 533.66,298.18 533.98,299.52 532.80,298.80 531.62,299.52 531.94,298.18 530.90,297.28 532.27,297.17" fill="#222"/>
<polygon points="543.50,295.90 544.03,297.17 545.40,297.28 544.36,298.18 544.68,299.52 543.50,298.80 542.32,299.52 542.64,298.18 541.60,297.28 542.97,297.17" fill="#222"/>
<polygon points="554.60,295.90 555.13,297.17 556.50,297.28 555.46,298.18 555.78,299.52 554.60,298.80 553.42,299.52 553.74,298.18 552.70,297.28 554.07,297.17" fill="#222"/>
<polygon points="565.30,295.90 565.83,297.17 567.20,297.28 566.16,298.18 566.48,299.52 565.30,298.80 564.12,299.52 564.44,298.18 563.40,297.28 564.77,297.17" fill="#222"/>
<polygon points="576.10,295.90 576.63,297.17 578.00,297.28 576.96,298.18 577.28,299.52 576.10,298.80 574.92,299.52 575.24,298.18 574.20,297.28 575.57,297.17" fill="#222"/>
<text x="484.90" y="341.50" font-size="8.5" text-anchor="middle" fill="#151515" transform="rotate(-90 484.90 341.50)">von Frey (no. of withdrawals)</text>
<text x="515.50" y="411.80" font-size="8.5" text-anchor="end" fill="#151515" transform="rotate(-45 515.50 411.80)">0.07</text>
<line x1="513.10" y1="400.30" x2="513.10" y2="403.10" stroke="#333" stroke-width="0.8"/>
<text x="526.20" y="411.80" font-size="8.5" text-anchor="end" fill="#151515" transform="rotate(-45 526.20 411.80)">0.16</text>
<line x1="523.80" y1="400.30" x2="523.80" y2="403.10" stroke="#333" stroke-width="0.8"/>
<text x="536.60" y="411.80" font-size="8.5" text-anchor="end" fill="#151515" transform="rotate(-45 536.60 411.80)">0.4</text>
<line x1="534.20" y1="400.30" x2="534.20" y2="403.10" stroke="#333" stroke-width="0.8"/>
<text x="547.10" y="411.80" font-size="8.5" text-anchor="end" fill="#151515" transform="rotate(-45 547.10 411.80)">0.6</text>
<line x1="544.70" y1="400.30" x2="544.70" y2="403.10" stroke="#333" stroke-width="0.8"/>
<text x="557.40" y="411.80" font-size="8.5" text-anchor="end" fill="#151515" transform="rotate(-45 557.40 411.80)">1.0</text>
<line x1="555.00" y1="400.30" x2="555.00" y2="403.10" stroke="#333" stroke-width="0.8"/>
<text x="567.90" y="411.80" font-size="8.5" text-anchor="end" fill="#151515" transform="rotate(-45 567.90 411.80)">1.4</text>
<line x1="565.50" y1="400.30" x2="565.50" y2="403.10" stroke="#333" stroke-width="0.8"/>
<text x="578.50" y="411.80" font-size="8.5" text-anchor="end" fill="#151515" transform="rotate(-45 578.50 411.80)">2.0</text>
<line x1="576.10" y1="400.30" x2="576.10" y2="403.10" stroke="#333" stroke-width="0.8"/>
<text x="544.80" y="433.90" font-size="8.5" text-anchor="middle" fill="#151515">Pressure (g)</text>
<line x1="625.80" y1="401.00" x2="625.80" y2="285.20" stroke="#333" stroke-width="0.9"/>
<line x1="623.20" y1="401.00" x2="625.80" y2="401.00" stroke="#333" stroke-width="0.9"/>
<text x="619.70" y="404.20" font-size="8.8" text-anchor="end" fill="#151515">0</text>
<line x1="623.20" y1="377.84" x2="625.80" y2="377.84" stroke="#333" stroke-width="0.9"/>
<text x="619.70" y="381.04" font-size="8.8" text-anchor="end" fill="#151515">20</text>
<line x1="623.20" y1="354.68" x2="625.80" y2="354.68" stroke="#333" stroke-width="0.9"/>
<text x="619.70" y="357.88" font-size="8.8" text-anchor="end" fill="#151515">40</text>
<line x1="623.20" y1="331.52" x2="625.80" y2="331.52" stroke="#333" stroke-width="0.9"/>
<text x="619.70" y="334.72" font-size="8.8" text-anchor="end" fill="#151515">60</text>
<line x1="623.20" y1="308.36" x2="625.80" y2="308.36" stroke="#333" stroke-width="0.9"/>
<text x="619.70" y="311.56" font-size="8.8" text-anchor="end" fill="#151515">80</text>
<line x1="623.20" y1="285.20" x2="625.80" y2="285.20" stroke="#333" stroke-width="0.9"/>
<text x="619.70" y="288.40" font-size="8.8" text-anchor="end" fill="#151515">100</text>
<line x1="623.30" y1="401.00" x2="684.70" y2="401.00" stroke="#333" stroke-width="0.9"/>
<rect x="635.45" y="360.80" width="16.10" height="40.20" fill="#fff" stroke="#222" stroke-width="0.9"/>
<rect x="658.20" y="330.60" width="16.60" height="70.40" fill="#fff" stroke="#222" stroke-width="0.9"/>
<circle cx="643.50" cy="344.00" r="1.90" fill="#fff" stroke="#222" stroke-width="0.7"/>
<circle cx="643.50" cy="354.80" r="1.90" fill="#fff" stroke="#222" stroke-width="0.7"/>
<circle cx="639.70" cy="361.20" r="1.90" fill="#fff" stroke="#222" stroke-width="0.7"/>
<circle cx="648.90" cy="363.40" r="1.90" fill="#fff" stroke="#222" stroke-width="0.7"/>
<circle cx="645.70" cy="367.20" r="1.90" fill="#fff" stroke="#222" stroke-width="0.7"/>
<circle cx="640.20" cy="371.70" r="1.90" fill="#fff" stroke="#222" stroke-width="0.7"/>
<circle cx="661.00" cy="320.50" r="2.00" fill="#e8434a"/>
<circle cx="666.50" cy="321.40" r="2.00" fill="#e8434a"/>
<circle cx="672.20" cy="319.00" r="2.00" fill="#e8434a"/>
<circle cx="660.10" cy="330.60" r="2.00" fill="#e8434a"/>
<circle cx="673.40" cy="332.00" r="2.00" fill="#e8434a"/>
<circle cx="665.10" cy="334.90" r="2.00" fill="#e8434a"/>
<circle cx="669.10" cy="336.60" r="2.00" fill="#e8434a"/>
<circle cx="666.90" cy="348.70" r="2.00" fill="#e8434a"/>
<line x1="643.50" y1="355.60" x2="643.50" y2="366.00" stroke="#222" stroke-width="0.8"/>
<line x1="641.50" y1="355.60" x2="645.50" y2="355.60" stroke="#222" stroke-width="0.8"/>
<line x1="641.50" y1="366.00" x2="645.50" y2="366.00" stroke="#222" stroke-width="0.8"/>
<line x1="666.50" y1="327.60" x2="666.50" y2="333.60" stroke="#222" stroke-width="0.8"/>
<line x1="664.50" y1="327.60" x2="668.50" y2="327.60" stroke="#222" stroke-width="0.8"/>
<line x1="664.50" y1="333.60" x2="668.50" y2="333.60" stroke="#222" stroke-width="0.8"/>
<polygon points="665.10,296.50 665.63,297.77 667.00,297.88 665.96,298.78 666.28,300.12 665.10,299.40 663.92,300.12 664.24,298.78 663.20,297.88 664.57,297.77" fill="#222"/>
<text x="597.60" y="344.80" font-size="8.3" text-anchor="middle" fill="#151515" transform="rotate(-90 597.60 344.80)">Capsaicin, time spent licking (s)</text>
<text x="645.20" y="410.00" font-size="8.5" text-anchor="end" fill="#151515" transform="rotate(-45 645.20 410.00)">Sham</text>
<text x="669.50" y="410.00" font-size="8.5" text-anchor="end" fill="#151515" transform="rotate(-45 669.50 410.00)">ASD9h</text>
<text x="0.40" y="457.80" font-size="16" text-anchor="start" fill="#111" font-weight="bold">e</text>
<text x="23.30" y="463.90" font-size="7.2" text-anchor="middle" fill="#151515">7</text>
<text x="32.27" y="463.90" font-size="7.2" text-anchor="middle" fill="#151515">10</text>
<text x="42.23" y="463.90" font-size="7.2" text-anchor="middle" fill="#151515">12</text>
<text x="52.17" y="463.90" font-size="7.2" text-anchor="middle" fill="#151515">15</text>
<text x="62.12" y="463.90" font-size="7.2" text-anchor="middle" fill="#151515">17</text>
<text x="72.07" y="463.90" font-size="7.2" text-anchor="middle" fill="#151515">19</text>
<text x="82.03" y="463.90" font-size="7.2" text-anchor="middle" fill="#151515">21</text>
<text x="91.97" y="463.90" font-size="7.2" text-anchor="middle" fill="#151515">22</text>
<text x="101.92" y="463.90" font-size="7.2" text-anchor="middle" fill="#151515">23</text>
<text x="111.88" y="463.90" font-size="7.2" text-anchor="middle" fill="#151515">24</text>
<text x="121.82" y="463.90" font-size="7.2" text-anchor="middle" fill="#151515">25</text>
<text x="131.78" y="463.90" font-size="7.2" text-anchor="middle" fill="#151515">27</text>
<text x="141.72" y="463.90" font-size="7.2" text-anchor="middle" fill="#151515">30</text>
<text x="151.68" y="463.90" font-size="7.2" text-anchor="middle" fill="#151515">32</text>
<text x="161.62" y="463.90" font-size="7.2" text-anchor="middle" fill="#151515">34</text>
<text x="171.57" y="463.90" font-size="7.2" text-anchor="middle" fill="#151515">36</text>
<text x="181.53" y="463.90" font-size="7.2" text-anchor="middle" fill="#151515">40</text>
<text x="191.47" y="463.90" font-size="7.2" text-anchor="middle" fill="#151515">44</text>
<text x="201.43" y="463.90" font-size="7.2" text-anchor="middle" fill="#151515">48</text>
<text x="211.20" y="463.90" font-size="7.2" text-anchor="middle" fill="#151515">50</text>
<text x="217.00" y="463.90" font-size="7.2" text-anchor="start" fill="#151515">°C</text>
<line x1="27.30" y1="467.80" x2="27.30" y2="474.60" stroke="#8a8a8a" stroke-width="0.7" stroke-dasharray="2.8 0.8"/>
<line x1="37.25" y1="467.80" x2="37.25" y2="474.60" stroke="#8a8a8a" stroke-width="0.7" stroke-dasharray="2.8 0.8"/>
<line x1="47.20" y1="467.80" x2="47.20" y2="474.60" stroke="#8a8a8a" stroke-width="0.7" stroke-dasharray="2.8 0.8"/>
<line x1="57.15" y1="467.80" x2="57.15" y2="474.60" stroke="#8a8a8a" stroke-width="0.7" stroke-dasharray="2.8 0.8"/>
<line x1="67.10" y1="467.80" x2="67.10" y2="474.60" stroke="#8a8a8a" stroke-width="0.7" stroke-dasharray="2.8 0.8"/>
<line x1="77.05" y1="467.80" x2="77.05" y2="474.60" stroke="#8a8a8a" stroke-width="0.7" stroke-dasharray="2.8 0.8"/>
<line x1="87.00" y1="467.80" x2="87.00" y2="474.60" stroke="#8a8a8a" stroke-width="0.7" stroke-dasharray="2.8 0.8"/>
<line x1="96.95" y1="467.80" x2="96.95" y2="474.60" stroke="#8a8a8a" stroke-width="0.7" stroke-dasharray="2.8 0.8"/>
<line x1="106.90" y1="467.80" x2="106.90" y2="474.60" stroke="#8a8a8a" stroke-width="0.7" stroke-dasharray="2.8 0.8"/>
<line x1="116.85" y1="467.80" x2="116.85" y2="474.60" stroke="#8a8a8a" stroke-width="0.7" stroke-dasharray="2.8 0.8"/>
<line x1="126.80" y1="467.80" x2="126.80" y2="474.60" stroke="#8a8a8a" stroke-width="0.7" stroke-dasharray="2.8 0.8"/>
<line x1="136.75" y1="467.80" x2="136.75" y2="474.60" stroke="#8a8a8a" stroke-width="0.7" stroke-dasharray="2.8 0.8"/>
<line x1="146.70" y1="467.80" x2="146.70" y2="474.60" stroke="#8a8a8a" stroke-width="0.7" stroke-dasharray="2.8 0.8"/>
<line x1="156.65" y1="467.80" x2="156.65" y2="474.60" stroke="#8a8a8a" stroke-width="0.7" stroke-dasharray="2.8 0.8"/>
<line x1="166.60" y1="467.80" x2="166.60" y2="474.60" stroke="#8a8a8a" stroke-width="0.7" stroke-dasharray="2.8 0.8"/>
<line x1="176.55" y1="467.80" x2="176.55" y2="474.60" stroke="#8a8a8a" stroke-width="0.7" stroke-dasharray="2.8 0.8"/>
<line x1="186.50" y1="467.80" x2="186.50" y2="474.60" stroke="#8a8a8a" stroke-width="0.7" stroke-dasharray="2.8 0.8"/>
<line x1="196.45" y1="467.80" x2="196.45" y2="474.60" stroke="#8a8a8a" stroke-width="0.7" stroke-dasharray="2.8 0.8"/>
<line x1="206.40" y1="467.80" x2="206.40" y2="474.60" stroke="#8a8a8a" stroke-width="0.7" stroke-dasharray="2.8 0.8"/>
<defs>
<radialGradient id="hot1" cx="0.5" cy="0.5" r="0.5">
 <stop offset="0" stop-color="#a00000"/>
 <stop offset="0.22" stop-color="#e81000"/>
 <stop offset="0.40" stop-color="#ff7a00"/>
 <stop offset="0.52" stop-color="#f0f020"/>
 <stop offset="0.64" stop-color="#60ff90"/>
 <stop offset="0.76" stop-color="#10d0ff"/>
 <stop offset="0.90" stop-color="#1a6aff" stop-opacity="0.8"/>
 <stop offset="1" stop-color="#1a30e0" stop-opacity="0"/>
</radialGradient>
<radialGradient id="hot2" cx="0.5" cy="0.5" r="0.5">
 <stop offset="0" stop-color="#a00000"/>
 <stop offset="0.16" stop-color="#e01000"/>
 <stop offset="0.30" stop-color="#ff8000"/>
 <stop offset="0.40" stop-color="#f0f020"/>
 <stop offset="0.50" stop-color="#60ff90"/>
 <stop offset="0.60" stop-color="#10c8ff"/>
 <stop offset="0.74" stop-color="#1040ff"/>
 <stop offset="0.92" stop-color="#1414d8"/>
 <stop offset="1" stop-color="#1414d8" stop-opacity="0"/>
</radialGradient>
<radialGradient id="lav" cx="0.5" cy="0.5" r="0.5">
 <stop offset="0" stop-color="#a4a4e8" stop-opacity="0.9"/>
 <stop offset="1" stop-color="#a4a4e8" stop-opacity="0"/>
</radialGradient>
<radialGradient id="cyl" cx="0.5" cy="0.5" r="0.5">
 <stop offset="0" stop-color="#3a7af8" stop-opacity="0.9"/>
 <stop offset="1" stop-color="#3a7af8" stop-opacity="0"/>
</radialGradient>
<linearGradient id="bslv" x1="0" y1="0" x2="0" y2="1">
 <stop offset="0" stop-color="#2c2c90"/>
 <stop offset="0.16" stop-color="#2424b8"/>
 <stop offset="0.5" stop-color="#1c1cd0"/>
 <stop offset="1" stop-color="#1818d8"/>
</linearGradient>
<linearGradient id="jet" x1="0" y1="0" x2="1" y2="0">
 <stop offset="0" stop-color="#1e1e80"/><stop offset="0.12" stop-color="#2040b8"/><stop offset="0.3" stop-color="#30a0d8"/><stop offset="0.45" stop-color="#50c0a0"/><stop offset="0.58" stop-color="#a0d040"/><stop offset="0.7" stop-color="#e8e020"/><stop offset="0.82" stop-color="#f08020"/><stop offset="0.92" stop-color="#d82820"/><stop offset="1" stop-color="#901010"/>
</linearGradient>
<linearGradient id="gB" x1="0" y1="0" x2="1" y2="0">
 <stop offset="0" stop-color="#9a9aa2"/>
 <stop offset="0.15" stop-color="#b8b8c0"/>
 <stop offset="0.3" stop-color="#d4d4dc"/>
 <stop offset="0.42" stop-color="#e4e4ec"/>
 <stop offset="0.52" stop-color="#cfcfe0"/>
 <stop offset="0.6" stop-color="#6c6c88"/>
 <stop offset="0.75" stop-color="#5a5ab0"/>
 <stop offset="1" stop-color="#9a9ad8"/>
</linearGradient>
<clipPath id="clipB"><rect x="19.3" y="476" width="196.7" height="35.8"/></clipPath>
<clipPath id="clipA9"><rect x="19.3" y="538.9" width="196.4" height="36.8"/></clipPath>
</defs>
<defs>
<filter id="jetB" filterUnits="userSpaceOnUse" x="0" y="455" width="240" height="75" color-interpolation-filters="sRGB">
 <feGaussianBlur stdDeviation="2.2"/>
 <feComponentTransfer>
  <feFuncR type="table" tableValues="0 0 0 0 0.5 1 1 1 0.5"/>
  <feFuncG type="table" tableValues="0 0 0.5 1 1 1 0.5 0 0"/>
  <feFuncB type="table" tableValues="0.5 1 1 1 0.5 0 0 0 0"/>
  <feFuncA type="table" tableValues="1 1"/>
 </feComponentTransfer>
</filter>
<filter id="jet9" filterUnits="userSpaceOnUse" x="120" y="520" width="90" height="80" color-interpolation-filters="sRGB">
 <feGaussianBlur stdDeviation="2.0"/>
 <feComponentTransfer>
  <feFuncR type="table" tableValues="0 0 0 0 0.5 1 1 1 0.5"/>
  <feFuncG type="table" tableValues="0 0 0.5 1 1 1 0.5 0 0"/>
  <feFuncB type="table" tableValues="0.5 1 1 1 0.5 0 0 0 0"/>
  <feFuncA type="table" tableValues="1 1"/>
 </feComponentTransfer>
</filter>
<filter id="bl1" x="-0.3" y="-0.3" width="1.6" height="1.6"><feGaussianBlur stdDeviation="1.6"/></filter>
<filter id="bl2" x="-0.3" y="-0.3" width="1.6" height="1.6"><feGaussianBlur stdDeviation="2.5"/></filter>
<mask id="m9"><rect x="147.5" y="534" width="28.5" height="46" rx="11" fill="#fff" filter="url(#bl1)"/></mask>
</defs>
<g clip-path="url(#clipB)">
<g filter="url(#jetB)">
<rect x="10.00" y="466.00" width="215.00" height="56.00" fill="#1b1b1b"/>
<ellipse cx="127" cy="487" rx="10" ry="5" fill="#3c3c3c"/>
<ellipse cx="124" cy="504" rx="11" ry="4" fill="#333333"/>
<ellipse cx="100" cy="487" rx="8" ry="4" fill="#292929"/>
<ellipse cx="156" cy="493.5" rx="13" ry="20" fill="#575757"/>
<ellipse cx="155.8" cy="494" rx="9.5" ry="15.5" fill="#808080"/>
<ellipse cx="155.5" cy="490" rx="6.2" ry="7.5" fill="#d9d9d9"/>
<ellipse cx="154.6" cy="500" rx="4.6" ry="8" fill="#d9d9d9"/>
<ellipse cx="155.2" cy="492" rx="3.5" ry="5" fill="#fafafa"/>
<ellipse cx="154.4" cy="501" rx="2.5" ry="5" fill="#fafafa"/>
<rect x="177.00" y="466.00" width="50.00" height="56.00" fill="#090909"/>
</g>
<defs><linearGradient id="dk" x1="0" y1="0" x2="1" y2="0"><stop offset="0" stop-color="#141414" stop-opacity="0.3"/><stop offset="0.6" stop-color="#141414" stop-opacity="0.26"/><stop offset="0.78" stop-color="#141414" stop-opacity="0.05"/><stop offset="0.9" stop-color="#141414" stop-opacity="0"/></linearGradient></defs>
<rect x="19.30" y="476.00" width="157.70" height="35.80" fill="url(#dk)"/>
<rect x="19.30" y="476.00" width="50.00" height="5.20" fill="#3a3a70" opacity="0.8"/>
<rect x="69.00" y="476.00" width="30.00" height="5.20" fill="#2a2aa0" opacity="0.4"/>
<rect x="19.3" y="481" width="52" height="12" fill="#6a6ab8" opacity="0.35" filter="url(#bl1)"/>
<ellipse cx="48" cy="489.5" rx="17" ry="5.5" fill="#b4b4ec" opacity="0.6" filter="url(#bl1)"/>
<ellipse cx="35" cy="486" rx="14" ry="4" fill="#5858b0" opacity="0.5" filter="url(#bl1)"/>
<ellipse cx="50" cy="502" rx="12" ry="5" fill="#5a5ad8" opacity="0.35" filter="url(#bl1)"/>
<defs><linearGradient id="r44" x1="0" y1="0" x2="0" y2="1"><stop offset="0" stop-color="#2a2a62"/><stop offset="0.16" stop-color="#24248a"/><stop offset="0.22" stop-color="#1e1eb4"/><stop offset="0.48" stop-color="#1c1cb0"/><stop offset="0.5" stop-color="#1616a0"/><stop offset="0.74" stop-color="#1616a0"/><stop offset="0.76" stop-color="#2222b0"/><stop offset="1" stop-color="#2626b4"/></linearGradient><linearGradient id="r48a" x1="0" y1="0" x2="1" y2="0"><stop offset="0" stop-color="#6a6aae"/><stop offset="1" stop-color="#b4b4d0"/></linearGradient><linearGradient id="r48b" x1="0" y1="0" x2="1" y2="0"><stop offset="0" stop-color="#3030a4"/><stop offset="1" stop-color="#6a6aa8"/></linearGradient></defs>
<rect x="176.20" y="476.00" width="20.30" height="35.80" fill="url(#r44)"/>
<rect x="196.50" y="476.00" width="17.00" height="5.50" fill="#1c1c3a"/>
<rect x="196.50" y="481.50" width="17.00" height="11.80" fill="url(#r48a)"/>
<rect x="196.50" y="493.30" width="17.00" height="9.20" fill="#0e0e4a"/>
<rect x="196.50" y="502.50" width="17.00" height="9.30" fill="url(#r48b)"/>
<rect x="213.00" y="476.00" width="3.00" height="17.00" fill="#141424"/>
<rect x="213.00" y="493.00" width="3.00" height="18.80" fill="#2a2a50"/>
<line x1="19.30" y1="493.50" x2="66.00" y2="493.50" stroke="#0c0c40" stroke-width="0.8" stroke-dasharray="3 2"/>
<line x1="196.50" y1="493.20" x2="215.00" y2="493.20" stroke="#c8c8e8" stroke-width="0.7" stroke-dasharray="3 2"/>
</g>
<defs>
<linearGradient id="g9top" x1="0" y1="0" x2="1" y2="0">
 <stop offset="0" stop-color="#505054"/><stop offset="0.25" stop-color="#5a5a5e"/><stop offset="0.5" stop-color="#6a6a6e"/><stop offset="1" stop-color="#404046"/>
</linearGradient>
<linearGradient id="g9a" x1="0" y1="0" x2="1" y2="0">
 <stop offset="0" stop-color="#7c7c80"/><stop offset="0.4" stop-color="#8e8e92"/><stop offset="0.62" stop-color="#707076"/><stop offset="0.68" stop-color="#c8c8dc"/><stop offset="1" stop-color="#d8d8ec"/>
</linearGradient>
<linearGradient id="g9w" x1="0" y1="0" x2="1" y2="0">
 <stop offset="0" stop-color="#c0c0c4"/><stop offset="0.06" stop-color="#e6e6ea"/><stop offset="0.7" stop-color="#f0f0f4"/><stop offset="1" stop-color="#c4c4e8"/>
</linearGradient>
<linearGradient id="g9b1" x1="0" y1="0" x2="1" y2="0">
 <stop offset="0" stop-color="#88888e"/><stop offset="0.3" stop-color="#a8a8ae"/><stop offset="0.42" stop-color="#c4c4ca"/><stop offset="0.47" stop-color="#9a9aa0"/><stop offset="0.6" stop-color="#7a7a84"/><stop offset="0.75" stop-color="#7878a8"/><stop offset="1" stop-color="#3030c8"/>
</linearGradient>
<linearGradient id="g9b2" x1="0" y1="0" x2="1" y2="0">
 <stop offset="0" stop-color="#a8a8ac"/><stop offset="0.15" stop-color="#c8c8cc"/><stop offset="0.3" stop-color="#e0e0e6"/><stop offset="0.42" stop-color="#e8e8f0"/><stop offset="0.46" stop-color="#b0b0b8"/><stop offset="0.5" stop-color="#78787e"/><stop offset="0.6" stop-color="#6a6a74"/><stop offset="0.66" stop-color="#7070a0"/><stop offset="0.8" stop-color="#6060b8"/><stop offset="0.9" stop-color="#4848c8"/><stop offset="1" stop-color="#2020d0"/>
</linearGradient>
<linearGradient id="g9bot" x1="0" y1="0" x2="1" y2="0">
 <stop offset="0" stop-color="#3c3c40"/><stop offset="0.15" stop-color="#505054"/><stop offset="0.26" stop-color="#e0e0e4"/><stop offset="0.6" stop-color="#e4e4e8"/><stop offset="0.8" stop-color="#b0b0d4"/><stop offset="1" stop-color="#4848d0"/>
</linearGradient>
</defs>
<g clip-path="url(#clipA9)">
<rect x="19.30" y="538.90" width="128.20" height="6.30" fill="url(#g9top)"/>
<rect x="105.00" y="538.90" width="42.50" height="2.00" fill="#d8d8dc"/>
<rect x="19.30" y="545.20" width="128.20" height="6.10" fill="url(#g9a)"/>
<rect x="19.30" y="551.30" width="128.20" height="5.70" fill="url(#g9w)"/>
<rect x="19.30" y="557.00" width="128.20" height="5.60" fill="url(#g9b1)"/>
<rect x="19.30" y="562.60" width="128.20" height="9.70" fill="url(#g9b2)"/>
<rect x="19.30" y="572.30" width="128.20" height="3.40" fill="url(#g9bot)"/>
<rect x="176.00" y="538.90" width="39.70" height="36.80" fill="#b4b4b4"/>
<rect x="176.00" y="538.90" width="39.70" height="2.40" fill="#707070"/>
<rect x="176.00" y="541.30" width="39.70" height="4.90" fill="#343434"/>
<rect x="176.00" y="546.20" width="39.70" height="9.80" fill="#bcbcbc"/>
<rect x="200.00" y="546.20" width="15.70" height="9.80" fill="#cacaca"/>
<rect x="176.00" y="556.50" width="39.70" height="9.00" fill="#2c2c2c"/>
<rect x="176.00" y="565.50" width="39.70" height="10.20" fill="#b0b0b0"/>
<rect x="214.70" y="538.90" width="1.00" height="36.80" fill="#404040"/>
<line x1="19.30" y1="557.50" x2="140.00" y2="557.50" stroke="#2a2a2a" stroke-width="0.8" stroke-dasharray="3 2"/>
<line x1="176.00" y1="556.30" x2="215.70" y2="556.30" stroke="#f0f0f0" stroke-width="0.6" stroke-dasharray="3 2"/>
<g mask="url(#m9)"><g filter="url(#jet9)">
<rect x="125.00" y="525.00" width="80.00" height="70.00" fill="#1f1f1f"/>
<ellipse cx="162" cy="558.5" rx="11" ry="17" fill="#5c5c5c"/>
<ellipse cx="162" cy="558.5" rx="7.5" ry="12" fill="#8c8c8c"/>
<ellipse cx="162.2" cy="558.8" rx="4.5" ry="7.5" fill="#d9d9d9"/>
<ellipse cx="162.2" cy="558.8" rx="2.5" ry="4.5" fill="#ffffff"/>
</g></g>
</g>
<line x1="27.30" y1="476.00" x2="27.30" y2="511.80" stroke="#c8c8ff" stroke-width="0.9" stroke-dasharray="2.4 0.9" opacity="0.75"/>
<line x1="27.30" y1="538.90" x2="27.30" y2="575.70" stroke="#ffffff" stroke-width="0.9" stroke-dasharray="2.4 0.9" opacity="0.6"/>
<line x1="37.25" y1="476.00" x2="37.25" y2="511.80" stroke="#c8c8ff" stroke-width="0.9" stroke-dasharray="2.4 0.9" opacity="0.75"/>
<line x1="37.25" y1="538.90" x2="37.25" y2="575.70" stroke="#ffffff" stroke-width="0.9" stroke-dasharray="2.4 0.9" opacity="0.6"/>
<line x1="47.20" y1="476.00" x2="47.20" y2="511.80" stroke="#c8c8ff" stroke-width="0.9" stroke-dasharray="2.4 0.9" opacity="0.75"/>
<line x1="47.20" y1="538.90" x2="47.20" y2="575.70" stroke="#ffffff" stroke-width="0.9" stroke-dasharray="2.4 0.9" opacity="0.6"/>
<line x1="57.15" y1="476.00" x2="57.15" y2="511.80" stroke="#c8c8ff" stroke-width="0.9" stroke-dasharray="2.4 0.9" opacity="0.75"/>
<line x1="57.15" y1="538.90" x2="57.15" y2="575.70" stroke="#ffffff" stroke-width="0.9" stroke-dasharray="2.4 0.9" opacity="0.6"/>
<line x1="67.10" y1="476.00" x2="67.10" y2="511.80" stroke="#c8c8ff" stroke-width="0.9" stroke-dasharray="2.4 0.9" opacity="0.75"/>
<line x1="67.10" y1="538.90" x2="67.10" y2="575.70" stroke="#ffffff" stroke-width="0.9" stroke-dasharray="2.4 0.9" opacity="0.6"/>
<line x1="77.05" y1="476.00" x2="77.05" y2="511.80" stroke="#c8c8ff" stroke-width="0.9" stroke-dasharray="2.4 0.9" opacity="0.75"/>
<line x1="77.05" y1="538.90" x2="77.05" y2="575.70" stroke="#ffffff" stroke-width="0.9" stroke-dasharray="2.4 0.9" opacity="0.6"/>
<line x1="87.00" y1="476.00" x2="87.00" y2="511.80" stroke="#c8c8ff" stroke-width="0.9" stroke-dasharray="2.4 0.9" opacity="0.75"/>
<line x1="87.00" y1="538.90" x2="87.00" y2="575.70" stroke="#ffffff" stroke-width="0.9" stroke-dasharray="2.4 0.9" opacity="0.6"/>
<line x1="96.95" y1="476.00" x2="96.95" y2="511.80" stroke="#c8c8ff" stroke-width="0.9" stroke-dasharray="2.4 0.9" opacity="0.75"/>
<line x1="96.95" y1="538.90" x2="96.95" y2="575.70" stroke="#ffffff" stroke-width="0.9" stroke-dasharray="2.4 0.9" opacity="0.6"/>
<line x1="106.90" y1="476.00" x2="106.90" y2="511.80" stroke="#c8c8ff" stroke-width="0.9" stroke-dasharray="2.4 0.9" opacity="0.75"/>
<line x1="106.90" y1="538.90" x2="106.90" y2="575.70" stroke="#ffffff" stroke-width="0.9" stroke-dasharray="2.4 0.9" opacity="0.6"/>
<line x1="116.85" y1="476.00" x2="116.85" y2="511.80" stroke="#c8c8ff" stroke-width="0.9" stroke-dasharray="2.4 0.9" opacity="0.75"/>
<line x1="116.85" y1="538.90" x2="116.85" y2="575.70" stroke="#ffffff" stroke-width="0.9" stroke-dasharray="2.4 0.9" opacity="0.6"/>
<line x1="126.80" y1="476.00" x2="126.80" y2="511.80" stroke="#c8c8ff" stroke-width="0.9" stroke-dasharray="2.4 0.9" opacity="0.75"/>
<line x1="126.80" y1="538.90" x2="126.80" y2="575.70" stroke="#ffffff" stroke-width="0.9" stroke-dasharray="2.4 0.9" opacity="0.6"/>
<line x1="136.75" y1="476.00" x2="136.75" y2="511.80" stroke="#c8c8ff" stroke-width="0.9" stroke-dasharray="2.4 0.9" opacity="0.75"/>
<line x1="136.75" y1="538.90" x2="136.75" y2="575.70" stroke="#ffffff" stroke-width="0.9" stroke-dasharray="2.4 0.9" opacity="0.6"/>
<line x1="146.70" y1="476.00" x2="146.70" y2="511.80" stroke="#c8c8ff" stroke-width="0.9" stroke-dasharray="2.4 0.9" opacity="0.75"/>
<line x1="146.70" y1="538.90" x2="146.70" y2="575.70" stroke="#ffffff" stroke-width="0.9" stroke-dasharray="2.4 0.9" opacity="0.6"/>
<line x1="156.65" y1="476.00" x2="156.65" y2="511.80" stroke="#c8c8ff" stroke-width="0.9" stroke-dasharray="2.4 0.9" opacity="0.75"/>
<line x1="156.65" y1="538.90" x2="156.65" y2="575.70" stroke="#ffffff" stroke-width="0.9" stroke-dasharray="2.4 0.9" opacity="0.6"/>
<line x1="166.60" y1="476.00" x2="166.60" y2="511.80" stroke="#c8c8ff" stroke-width="0.9" stroke-dasharray="2.4 0.9" opacity="0.75"/>
<line x1="166.60" y1="538.90" x2="166.60" y2="575.70" stroke="#ffffff" stroke-width="0.9" stroke-dasharray="2.4 0.9" opacity="0.6"/>
<line x1="176.55" y1="476.00" x2="176.55" y2="511.80" stroke="#c8c8ff" stroke-width="0.9" stroke-dasharray="2.4 0.9" opacity="0.75"/>
<line x1="176.55" y1="538.90" x2="176.55" y2="575.70" stroke="#ffffff" stroke-width="0.9" stroke-dasharray="2.4 0.9" opacity="0.6"/>
<line x1="186.50" y1="476.00" x2="186.50" y2="511.80" stroke="#c8c8ff" stroke-width="0.9" stroke-dasharray="2.4 0.9" opacity="0.75"/>
<line x1="186.50" y1="538.90" x2="186.50" y2="575.70" stroke="#ffffff" stroke-width="0.9" stroke-dasharray="2.4 0.9" opacity="0.6"/>
<line x1="196.45" y1="476.00" x2="196.45" y2="511.80" stroke="#c8c8ff" stroke-width="0.9" stroke-dasharray="2.4 0.9" opacity="0.75"/>
<line x1="196.45" y1="538.90" x2="196.45" y2="575.70" stroke="#ffffff" stroke-width="0.9" stroke-dasharray="2.4 0.9" opacity="0.6"/>
<line x1="206.40" y1="476.00" x2="206.40" y2="511.80" stroke="#c8c8ff" stroke-width="0.9" stroke-dasharray="2.4 0.9" opacity="0.75"/>
<line x1="206.40" y1="538.90" x2="206.40" y2="575.70" stroke="#ffffff" stroke-width="0.9" stroke-dasharray="2.4 0.9" opacity="0.6"/>
<text x="12.60" y="490.50" font-size="8.5" text-anchor="start" fill="#151515">A</text>
<text x="12.60" y="506.70" font-size="8.5" text-anchor="start" fill="#151515">B</text>
<text x="12.60" y="550.80" font-size="8.5" text-anchor="start" fill="#151515">A</text>
<text x="12.60" y="566.00" font-size="8.5" text-anchor="start" fill="#151515">B</text>
<text x="7.30" y="495.30" font-size="8.5" text-anchor="middle" fill="#151515" transform="rotate(-90 7.30 495.30)">BSL</text>
<text x="7.40" y="557.70" font-size="8.5" text-anchor="middle" fill="#e42830" transform="rotate(-90 7.40 557.70)">ASD9h</text>
<text x="48.40" y="525.00" font-size="8.5" text-anchor="start" fill="#151515">Preferred temperature: 32.9 ± 0.1 °C</text>
<text x="48.20" y="588.00" font-size="8.5" text-anchor="start" fill="#e42830">Preferred temperature: 34.2 ± 0.3 °C</text>
<text x="33.60" y="604.10" font-size="8.5" text-anchor="start" fill="#151515">Time spent on zone: 20 s</text>
<rect x="133.80" y="599.10" width="58.20" height="6.40" fill="url(#jet)" stroke="#222" stroke-width="0.7"/>
<text x="194.90" y="604.40" font-size="8.5" text-anchor="start" fill="#151515">10 min</text>
<line x1="268.10" y1="573.00" x2="268.10" y2="457.60" stroke="#333" stroke-width="0.9"/>
<line x1="265.50" y1="573.00" x2="268.10" y2="573.00" stroke="#333" stroke-width="0.9"/>
<text x="262.00" y="576.20" font-size="8.8" text-anchor="end" fill="#151515">0</text>
<line x1="265.50" y1="549.92" x2="268.10" y2="549.92" stroke="#333" stroke-width="0.9"/>
<text x="262.00" y="553.12" font-size="8.8" text-anchor="end" fill="#151515">50</text>
<line x1="265.50" y1="526.84" x2="268.10" y2="526.84" stroke="#333" stroke-width="0.9"/>
<text x="262.00" y="530.04" font-size="8.8" text-anchor="end" fill="#151515">100</text>
<line x1="265.50" y1="503.76" x2="268.10" y2="503.76" stroke="#333" stroke-width="0.9"/>
<text x="262.00" y="506.96" font-size="8.8" text-anchor="end" fill="#151515">150</text>
<line x1="265.50" y1="480.68" x2="268.10" y2="480.68" stroke="#333" stroke-width="0.9"/>
<text x="262.00" y="483.88" font-size="8.8" text-anchor="end" fill="#151515">200</text>
<line x1="265.50" y1="457.60" x2="268.10" y2="457.60" stroke="#333" stroke-width="0.9"/>
<text x="262.00" y="460.80" font-size="8.8" text-anchor="end" fill="#151515">250</text>
<line x1="265.10" y1="573.00" x2="326.20" y2="573.00" stroke="#333" stroke-width="0.9"/>
<line x1="280.00" y1="509.20" x2="280.00" y2="503.40" stroke="#222" stroke-width="0.9"/>
<line x1="278.00" y1="503.40" x2="282.00" y2="503.40" stroke="#222" stroke-width="0.9"/>
<line x1="297.00" y1="549.20" x2="297.00" y2="540.90" stroke="#222" stroke-width="0.9"/>
<line x1="295.00" y1="540.90" x2="299.00" y2="540.90" stroke="#222" stroke-width="0.9"/>
<line x1="313.40" y1="487.50" x2="313.40" y2="471.40" stroke="#222" stroke-width="0.9"/>
<line x1="311.40" y1="471.40" x2="315.40" y2="471.40" stroke="#222" stroke-width="0.9"/>
<rect x="274.35" y="509.20" width="11.30" height="63.80" fill="#fff" stroke="#222" stroke-width="0.9"/>
<rect x="291.15" y="549.20" width="11.70" height="23.80" fill="#ee3b3b" stroke="#222" stroke-width="0.9"/>
<rect x="307.75" y="487.50" width="11.30" height="85.50" fill="#a0a0a0" stroke="#222" stroke-width="0.9"/>
<polygon points="296.20,513.20 296.73,514.47 298.10,514.58 297.06,515.48 297.38,516.82 296.20,516.10 295.02,516.82 295.34,515.48 294.30,514.58 295.67,514.47" fill="#222"/>
<text x="238.90" y="515.40" font-size="8.5" text-anchor="middle" fill="#151515" transform="rotate(-90 238.90 515.40)">Time spent (s) at 40–50 °C</text>
<text x="282.50" y="583.00" font-size="8.5" text-anchor="end" fill="#151515" transform="rotate(-45 282.50 583.00)">BSL</text>
<text x="299.40" y="581.50" font-size="8.5" text-anchor="end" fill="#151515" transform="rotate(-45 299.40 581.50)">ASD9h</text>
<text x="315.40" y="582.20" font-size="8.5" text-anchor="end" fill="#151515" transform="rotate(-45 315.40 582.20)">REC</text>
<text x="339.50" y="457.30" font-size="16" text-anchor="start" fill="#111" font-weight="bold">f</text>
<line x1="371.00" y1="573.40" x2="371.00" y2="458.40" stroke="#333" stroke-width="0.9"/>
<line x1="368.40" y1="573.40" x2="371.00" y2="573.40" stroke="#333" stroke-width="0.9"/>
<text x="364.90" y="576.60" font-size="8.8" text-anchor="end" fill="#151515">0.0</text>
<line x1="368.40" y1="544.65" x2="371.00" y2="544.65" stroke="#333" stroke-width="0.9"/>
<text x="364.90" y="547.85" font-size="8.8" text-anchor="end" fill="#151515">0.2</text>
<line x1="368.40" y1="515.90" x2="371.00" y2="515.90" stroke="#333" stroke-width="0.9"/>
<text x="364.90" y="519.10" font-size="8.8" text-anchor="end" fill="#151515">0.4</text>
<line x1="368.40" y1="487.15" x2="371.00" y2="487.15" stroke="#333" stroke-width="0.9"/>
<text x="364.90" y="490.35" font-size="8.8" text-anchor="end" fill="#151515">0.6</text>
<line x1="368.40" y1="458.40" x2="371.00" y2="458.40" stroke="#333" stroke-width="0.9"/>
<text x="364.90" y="461.60" font-size="8.8" text-anchor="end" fill="#151515">0.8</text>
<line x1="370.90" y1="573.40" x2="448.90" y2="573.40" stroke="#333" stroke-width="0.9"/>
<line x1="374.30" y1="573.40" x2="374.30" y2="576.70" stroke="#333" stroke-width="0.9"/>
<line x1="386.20" y1="573.40" x2="386.20" y2="576.70" stroke="#333" stroke-width="0.9"/>
<line x1="398.10" y1="573.40" x2="398.10" y2="576.70" stroke="#333" stroke-width="0.9"/>
<line x1="410.00" y1="573.40" x2="410.00" y2="576.70" stroke="#333" stroke-width="0.9"/>
<line x1="421.90" y1="573.40" x2="421.90" y2="576.70" stroke="#333" stroke-width="0.9"/>
<line x1="433.80" y1="573.40" x2="433.80" y2="576.70" stroke="#333" stroke-width="0.9"/>
<line x1="445.70" y1="573.40" x2="445.70" y2="576.70" stroke="#333" stroke-width="0.9"/>
<text x="389.20" y="585.20" font-size="8.5" text-anchor="end" fill="#151515" transform="rotate(-45 389.20 585.20)">70</text>
<text x="401.10" y="585.20" font-size="8.5" text-anchor="end" fill="#151515" transform="rotate(-45 401.10 585.20)">80</text>
<text x="413.00" y="585.20" font-size="8.5" text-anchor="end" fill="#151515" transform="rotate(-45 413.00 585.20)">90</text>
<text x="424.90" y="585.20" font-size="8.5" text-anchor="end" fill="#151515" transform="rotate(-45 424.90 585.20)">100</text>
<text x="436.80" y="585.20" font-size="8.5" text-anchor="end" fill="#151515" transform="rotate(-45 436.80 585.20)">110</text>
<text x="448.70" y="585.20" font-size="8.5" text-anchor="end" fill="#151515" transform="rotate(-45 448.70 585.20)">120</text>
<line x1="404.05" y1="560.90" x2="404.05" y2="564.90" stroke="#c8c8c8" stroke-width="0.7"/>
<line x1="410.00" y1="538.40" x2="410.00" y2="544.40" stroke="#c8c8c8" stroke-width="0.7"/>
<line x1="415.95" y1="534.50" x2="415.95" y2="540.50" stroke="#c8c8c8" stroke-width="0.7"/>
<line x1="421.90" y1="517.10" x2="421.90" y2="527.10" stroke="#c8c8c8" stroke-width="0.7"/>
<line x1="427.85" y1="497.00" x2="427.85" y2="513.00" stroke="#c8c8c8" stroke-width="0.7"/>
<line x1="433.80" y1="490.70" x2="433.80" y2="510.70" stroke="#c8c8c8" stroke-width="0.7"/>
<line x1="439.75" y1="490.00" x2="439.75" y2="514.00" stroke="#c8c8c8" stroke-width="0.7"/>
<line x1="445.70" y1="501.80" x2="445.70" y2="517.80" stroke="#c8c8c8" stroke-width="0.7"/>
<polyline points="380.25,572.00 386.20,571.00 392.15,571.00 398.10,569.00 404.05,562.90 410.00,541.40 415.95,537.50 421.90,522.10 427.85,505.00 433.80,500.70 439.75,502.00 445.70,509.80" fill="none" stroke="#a6a6a6" stroke-width="0.9"/>
<circle cx="380.25" cy="572.00" r="2.80" fill="#a6a6a6"/>
<circle cx="386.20" cy="571.00" r="2.80" fill="#a6a6a6"/>
<circle cx="392.15" cy="571.00" r="2.80" fill="#a6a6a6"/>
<circle cx="398.10" cy="569.00" r="2.80" fill="#a6a6a6"/>
<circle cx="404.05" cy="562.90" r="2.80" fill="#a6a6a6"/>
<circle cx="410.00" cy="541.40" r="2.80" fill="#a6a6a6"/>
<circle cx="415.95" cy="537.50" r="2.80" fill="#a6a6a6"/>
<circle cx="421.90" cy="522.10" r="2.80" fill="#a6a6a6"/>
<circle cx="427.85" cy="505.00" r="2.80" fill="#a6a6a6"/>
<circle cx="433.80" cy="500.70" r="2.80" fill="#a6a6a6"/>
<circle cx="439.75" cy="502.00" r="2.80" fill="#a6a6a6"/>
<circle cx="445.70" cy="509.80" r="2.80" fill="#a6a6a6"/>
<line x1="404.05" y1="565.00" x2="404.05" y2="569.00" stroke="#f08a8f" stroke-width="0.7"/>
<line x1="410.00" y1="558.30" x2="410.00" y2="562.30" stroke="#f08a8f" stroke-width="0.7"/>
<line x1="415.95" y1="547.70" x2="415.95" y2="553.70" stroke="#f08a8f" stroke-width="0.7"/>
<line x1="421.90" y1="529.10" x2="421.90" y2="537.10" stroke="#f08a8f" stroke-width="0.7"/>
<line x1="427.85" y1="530.40" x2="427.85" y2="540.40" stroke="#f08a8f" stroke-width="0.7"/>
<line x1="433.80" y1="512.10" x2="433.80" y2="526.10" stroke="#f08a8f" stroke-width="0.7"/>
<line x1="439.75" y1="517.40" x2="439.75" y2="535.40" stroke="#f08a8f" stroke-width="0.7"/>
<line x1="445.70" y1="510.50" x2="445.70" y2="526.50" stroke="#f08a8f" stroke-width="0.7"/>
<polyline points="380.25,573.40 386.20,572.50 392.15,572.20 398.10,570.80 404.05,567.00 410.00,560.30 415.95,550.70 421.90,533.10 427.85,535.40 433.80,519.10 439.75,526.40 445.70,518.50" fill="none" stroke="#e8434a" stroke-width="0.9"/>
<circle cx="380.25" cy="573.40" r="2.80" fill="#e8434a"/>
<circle cx="386.20" cy="572.50" r="2.80" fill="#e8434a"/>
<circle cx="392.15" cy="572.20" r="2.80" fill="#e8434a"/>
<circle cx="398.10" cy="570.80" r="2.80" fill="#e8434a"/>
<circle cx="404.05" cy="567.00" r="2.80" fill="#e8434a"/>
<circle cx="410.00" cy="560.30" r="2.80" fill="#e8434a"/>
<circle cx="415.95" cy="550.70" r="2.80" fill="#e8434a"/>
<circle cx="421.90" cy="533.10" r="2.80" fill="#e8434a"/>
<circle cx="427.85" cy="535.40" r="2.80" fill="#e8434a"/>
<circle cx="433.80" cy="519.10" r="2.80" fill="#e8434a"/>
<circle cx="439.75" cy="526.40" r="2.80" fill="#e8434a"/>
<circle cx="445.70" cy="518.50" r="2.80" fill="#e8434a"/>
<line x1="404.05" y1="554.80" x2="404.05" y2="558.80" stroke="#222" stroke-width="0.7"/>
<line x1="410.00" y1="541.90" x2="410.00" y2="547.90" stroke="#222" stroke-width="0.7"/>
<line x1="415.95" y1="528.30" x2="415.95" y2="536.30" stroke="#222" stroke-width="0.7"/>
<line x1="421.90" y1="509.20" x2="421.90" y2="519.20" stroke="#222" stroke-width="0.7"/>
<line x1="427.85" y1="498.30" x2="427.85" y2="510.30" stroke="#222" stroke-width="0.7"/>
<line x1="433.80" y1="493.30" x2="433.80" y2="513.30" stroke="#222" stroke-width="0.7"/>
<line x1="439.75" y1="499.80" x2="439.75" y2="519.80" stroke="#222" stroke-width="0.7"/>
<line x1="445.70" y1="494.30" x2="445.70" y2="512.30" stroke="#222" stroke-width="0.7"/>
<polyline points="380.25,571.30 386.20,569.40 392.15,568.70 398.10,564.70 404.05,556.80 410.00,544.90 415.95,532.30 421.90,514.20 427.85,504.30 433.80,503.30 439.75,509.80 445.70,503.30" fill="none" stroke="#222" stroke-width="0.9"/>
<circle cx="380.25" cy="571.30" r="2.80" fill="#fff" stroke="#222" stroke-width="0.8"/>
<circle cx="386.20" cy="569.40" r="2.80" fill="#fff" stroke="#222" stroke-width="0.8"/>
<circle cx="392.15" cy="568.70" r="2.80" fill="#fff" stroke="#222" stroke-width="0.8"/>
<circle cx="398.10" cy="564.70" r="2.80" fill="#fff" stroke="#222" stroke-width="0.8"/>
<circle cx="404.05" cy="556.80" r="2.80" fill="#fff" stroke="#222" stroke-width="0.8"/>
<circle cx="410.00" cy="544.90" r="2.80" fill="#fff" stroke="#222" stroke-width="0.8"/>
<circle cx="415.95" cy="532.30" r="2.80" fill="#fff" stroke="#222" stroke-width="0.8"/>
<circle cx="421.90" cy="514.20" r="2.80" fill="#fff" stroke="#222" stroke-width="0.8"/>
<circle cx="427.85" cy="504.30" r="2.80" fill="#fff" stroke="#222" stroke-width="0.8"/>
<circle cx="433.80" cy="503.30" r="2.80" fill="#fff" stroke="#222" stroke-width="0.8"/>
<circle cx="439.75" cy="509.80" r="2.80" fill="#fff" stroke="#222" stroke-width="0.8"/>
<circle cx="445.70" cy="503.30" r="2.80" fill="#fff" stroke="#222" stroke-width="0.8"/>
<polygon points="403.20,474.60 403.73,475.87 405.10,475.98 404.06,476.88 404.38,478.22 403.20,477.50 402.02,478.22 402.34,476.88 401.30,475.98 402.67,475.87" fill="#222"/>
<polygon points="410.10,474.60 410.63,475.87 412.00,475.98 410.96,476.88 411.28,478.22 410.10,477.50 408.92,478.22 409.24,476.88 408.20,475.98 409.57,475.87" fill="#222"/>
<polygon points="417.00,474.60 417.53,475.87 418.90,475.98 417.86,476.88 418.18,478.22 417.00,477.50 415.82,478.22 416.14,476.88 415.10,475.98 416.47,475.87" fill="#222"/>
<polygon points="423.90,474.60 424.43,475.87 425.80,475.98 424.76,476.88 425.08,478.22 423.90,477.50 422.72,478.22 423.04,476.88 422.00,475.98 423.37,475.87" fill="#222"/>
<polygon points="431.20,474.60 431.73,475.87 433.10,475.98 432.06,476.88 432.38,478.22 431.20,477.50 430.02,478.22 430.34,476.88 429.30,475.98 430.67,475.87" fill="#222"/>
<polygon points="438.20,474.60 438.73,475.87 440.10,475.98 439.06,476.88 439.38,478.22 438.20,477.50 437.02,478.22 437.34,476.88 436.30,475.98 437.67,475.87" fill="#222"/>
<polygon points="445.30,474.60 445.83,475.87 447.20,475.98 446.16,476.88 446.48,478.22 445.30,477.50 444.12,478.22 444.44,476.88 443.40,475.98 444.77,475.87" fill="#222"/>
<text x="345.90" y="515.60" font-size="8.5" text-anchor="middle" fill="#151515" transform="rotate(-90 345.90 515.60)">Startle amplitude (N)</text>
<text x="410.30" y="603.20" font-size="8.5" text-anchor="middle" fill="#151515">Pulses (dB)</text>
<line x1="483.60" y1="573.20" x2="483.60" y2="458.40" stroke="#333" stroke-width="0.9"/>
<line x1="481.00" y1="573.20" x2="483.60" y2="573.20" stroke="#333" stroke-width="0.9"/>
<text x="477.50" y="576.40" font-size="8.8" text-anchor="end" fill="#151515">0</text>
<line x1="481.00" y1="550.24" x2="483.60" y2="550.24" stroke="#333" stroke-width="0.9"/>
<text x="477.50" y="553.44" font-size="8.8" text-anchor="end" fill="#151515">1</text>
<line x1="481.00" y1="527.28" x2="483.60" y2="527.28" stroke="#333" stroke-width="0.9"/>
<text x="477.50" y="530.48" font-size="8.8" text-anchor="end" fill="#151515">2</text>
<line x1="481.00" y1="504.32" x2="483.60" y2="504.32" stroke="#333" stroke-width="0.9"/>
<text x="477.50" y="507.52" font-size="8.8" text-anchor="end" fill="#151515">3</text>
<line x1="481.00" y1="481.36" x2="483.60" y2="481.36" stroke="#333" stroke-width="0.9"/>
<text x="477.50" y="484.56" font-size="8.8" text-anchor="end" fill="#151515">4</text>
<line x1="481.00" y1="458.40" x2="483.60" y2="458.40" stroke="#333" stroke-width="0.9"/>
<text x="477.50" y="461.60" font-size="8.8" text-anchor="end" fill="#151515">5</text>
<line x1="481.20" y1="573.20" x2="560.70" y2="573.20" stroke="#333" stroke-width="0.9"/>
<line x1="486.74" y1="573.20" x2="486.74" y2="576.50" stroke="#333" stroke-width="0.9"/>
<line x1="498.60" y1="573.20" x2="498.60" y2="576.50" stroke="#333" stroke-width="0.9"/>
<line x1="510.46" y1="573.20" x2="510.46" y2="576.50" stroke="#333" stroke-width="0.9"/>
<line x1="522.32" y1="573.20" x2="522.32" y2="576.50" stroke="#333" stroke-width="0.9"/>
<line x1="534.18" y1="573.20" x2="534.18" y2="576.50" stroke="#333" stroke-width="0.9"/>
<line x1="546.04" y1="573.20" x2="546.04" y2="576.50" stroke="#333" stroke-width="0.9"/>
<line x1="557.90" y1="573.20" x2="557.90" y2="576.50" stroke="#333" stroke-width="0.9"/>
<text x="501.60" y="585.00" font-size="8.5" text-anchor="end" fill="#151515" transform="rotate(-45 501.60 585.00)">70</text>
<text x="513.46" y="585.00" font-size="8.5" text-anchor="end" fill="#151515" transform="rotate(-45 513.46 585.00)">80</text>
<text x="525.32" y="585.00" font-size="8.5" text-anchor="end" fill="#151515" transform="rotate(-45 525.32 585.00)">90</text>
<text x="537.18" y="585.00" font-size="8.5" text-anchor="end" fill="#151515" transform="rotate(-45 537.18 585.00)">100</text>
<text x="549.04" y="585.00" font-size="8.5" text-anchor="end" fill="#151515" transform="rotate(-45 549.04 585.00)">110</text>
<text x="560.90" y="585.00" font-size="8.5" text-anchor="end" fill="#151515" transform="rotate(-45 560.90 585.00)">120</text>
<line x1="492.67" y1="524.00" x2="492.67" y2="530.00" stroke="#c8c8c8" stroke-width="0.7"/>
<line x1="498.60" y1="494.00" x2="498.60" y2="506.00" stroke="#c8c8c8" stroke-width="0.7"/>
<line x1="504.53" y1="479.00" x2="504.53" y2="491.00" stroke="#c8c8c8" stroke-width="0.7"/>
<line x1="510.46" y1="468.00" x2="510.46" y2="476.00" stroke="#c8c8c8" stroke-width="0.7"/>
<polyline points="492.67,527.00 498.60,500.00 504.53,485.00 510.46,472.00" fill="none" stroke="#a6a6a6" stroke-width="0.9"/>
<circle cx="492.67" cy="527.00" r="2.80" fill="#a6a6a6"/>
<circle cx="498.60" cy="500.00" r="2.80" fill="#a6a6a6"/>
<circle cx="504.53" cy="485.00" r="2.80" fill="#a6a6a6"/>
<circle cx="510.46" cy="472.00" r="2.80" fill="#a6a6a6"/>
<line x1="492.67" y1="549.30" x2="492.67" y2="557.30" stroke="#f08a8f" stroke-width="0.7"/>
<line x1="498.60" y1="518.60" x2="498.60" y2="530.60" stroke="#f08a8f" stroke-width="0.7"/>
<line x1="504.53" y1="507.20" x2="504.53" y2="519.20" stroke="#f08a8f" stroke-width="0.7"/>
<line x1="510.46" y1="491.00" x2="510.46" y2="501.00" stroke="#f08a8f" stroke-width="0.7"/>
<line x1="516.39" y1="479.50" x2="516.39" y2="489.50" stroke="#f08a8f" stroke-width="0.7"/>
<line x1="522.32" y1="459.20" x2="522.32" y2="463.20" stroke="#f08a8f" stroke-width="0.7"/>
<polyline points="492.67,553.30 498.60,524.60 504.53,513.20 510.46,496.00 516.39,484.50 522.32,461.20 528.25,458.40 534.18,458.40 540.11,458.40 546.04,458.40 551.97,458.40 557.90,458.40" fill="none" stroke="#e8434a" stroke-width="0.9"/>
<circle cx="492.67" cy="553.30" r="2.80" fill="#e8434a"/>
<circle cx="498.60" cy="524.60" r="2.80" fill="#e8434a"/>
<circle cx="504.53" cy="513.20" r="2.80" fill="#e8434a"/>
<circle cx="510.46" cy="496.00" r="2.80" fill="#e8434a"/>
<circle cx="516.39" cy="484.50" r="2.80" fill="#e8434a"/>
<circle cx="522.32" cy="461.20" r="2.80" fill="#e8434a"/>
<circle cx="528.25" cy="458.40" r="2.80" fill="#e8434a"/>
<circle cx="534.18" cy="458.40" r="2.80" fill="#e8434a"/>
<circle cx="540.11" cy="458.40" r="2.80" fill="#e8434a"/>
<circle cx="546.04" cy="458.40" r="2.80" fill="#e8434a"/>
<circle cx="551.97" cy="458.40" r="2.80" fill="#e8434a"/>
<circle cx="557.90" cy="458.40" r="2.80" fill="#e8434a"/>
<line x1="492.67" y1="526.50" x2="492.67" y2="540.50" stroke="#222" stroke-width="0.7"/>
<line x1="498.60" y1="486.40" x2="498.60" y2="510.40" stroke="#222" stroke-width="0.7"/>
<line x1="504.53" y1="480.10" x2="504.53" y2="494.10" stroke="#222" stroke-width="0.7"/>
<line x1="510.46" y1="469.60" x2="510.46" y2="481.60" stroke="#222" stroke-width="0.7"/>
<polyline points="492.67,533.50 498.60,498.40 504.53,487.10 510.46,475.60 516.39,458.40 522.32,458.40 528.25,458.40 534.18,458.40 540.11,458.40 546.04,458.40 551.97,458.40 557.90,458.40" fill="none" stroke="#222" stroke-width="0.9"/>
<circle cx="492.67" cy="533.50" r="2.80" fill="#fff" stroke="#222" stroke-width="0.8"/>
<circle cx="498.60" cy="498.40" r="2.80" fill="#fff" stroke="#222" stroke-width="0.8"/>
<circle cx="504.53" cy="487.10" r="2.80" fill="#fff" stroke="#222" stroke-width="0.8"/>
<circle cx="510.46" cy="475.60" r="2.80" fill="#fff" stroke="#222" stroke-width="0.8"/>
<circle cx="516.39" cy="458.40" r="2.80" fill="#fff" stroke="#222" stroke-width="0.8"/>
<circle cx="522.32" cy="458.40" r="2.80" fill="#fff" stroke="#222" stroke-width="0.8"/>
<circle cx="528.25" cy="458.40" r="2.80" fill="#fff" stroke="#222" stroke-width="0.8"/>
<circle cx="534.18" cy="458.40" r="2.80" fill="#fff" stroke="#222" stroke-width="0.8"/>
<circle cx="540.11" cy="458.40" r="2.80" fill="#fff" stroke="#222" stroke-width="0.8"/>
<circle cx="546.04" cy="458.40" r="2.80" fill="#fff" stroke="#222" stroke-width="0.8"/>
<circle cx="551.97" cy="458.40" r="2.80" fill="#fff" stroke="#222" stroke-width="0.8"/>
<circle cx="557.90" cy="458.40" r="2.80" fill="#fff" stroke="#222" stroke-width="0.8"/>
<polygon points="494.30,566.70 494.83,567.97 496.20,568.08 495.16,568.98 495.48,570.32 494.30,569.60 493.12,570.32 493.44,568.98 492.40,568.08 493.77,567.97" fill="#222"/>
<polygon points="506.90,566.70 507.43,567.97 508.80,568.08 507.76,568.98 508.08,570.32 506.90,569.60 505.72,570.32 506.04,568.98 505.00,568.08 506.37,567.97" fill="#222"/>
<polygon points="511.30,566.70 511.83,567.97 513.20,568.08 512.16,568.98 512.48,570.32 511.30,569.60 510.12,570.32 510.44,568.98 509.40,568.08 510.77,567.97" fill="#222"/>
<polygon points="515.70,566.70 516.23,567.97 517.60,568.08 516.56,568.98 516.88,570.32 515.70,569.60 514.52,570.32 514.84,568.98 513.80,568.08 515.17,567.97" fill="#222"/>
<text x="463.90" y="515.60" font-size="8.5" text-anchor="middle" fill="#151515" transform="rotate(-90 463.90 515.60)">Startle (no. of jumps)</text>
<text x="522.20" y="603.20" font-size="8.5" text-anchor="middle" fill="#151515">Pulses (dB)</text>
<line x1="606.10" y1="573.00" x2="606.10" y2="458.40" stroke="#333" stroke-width="0.9"/>
<line x1="603.50" y1="573.00" x2="606.10" y2="573.00" stroke="#333" stroke-width="0.9"/>
<text x="600.00" y="576.20" font-size="8.8" text-anchor="end" fill="#151515">0</text>
<line x1="603.50" y1="534.80" x2="606.10" y2="534.80" stroke="#333" stroke-width="0.9"/>
<text x="600.00" y="538.00" font-size="8.8" text-anchor="end" fill="#151515">50</text>
<line x1="603.50" y1="496.60" x2="606.10" y2="496.60" stroke="#333" stroke-width="0.9"/>
<text x="600.00" y="499.80" font-size="8.8" text-anchor="end" fill="#151515">100</text>
<line x1="603.50" y1="458.40" x2="606.10" y2="458.40" stroke="#333" stroke-width="0.9"/>
<text x="600.00" y="461.60" font-size="8.8" text-anchor="end" fill="#151515">150</text>
<line x1="606.20" y1="573.00" x2="682.00" y2="573.00" stroke="#333" stroke-width="0.9"/>
<line x1="609.55" y1="573.00" x2="609.55" y2="576.30" stroke="#333" stroke-width="0.9"/>
<line x1="621.40" y1="573.00" x2="621.40" y2="576.30" stroke="#333" stroke-width="0.9"/>
<line x1="633.25" y1="573.00" x2="633.25" y2="576.30" stroke="#333" stroke-width="0.9"/>
<line x1="645.10" y1="573.00" x2="645.10" y2="576.30" stroke="#333" stroke-width="0.9"/>
<line x1="656.95" y1="573.00" x2="656.95" y2="576.30" stroke="#333" stroke-width="0.9"/>
<line x1="668.80" y1="573.00" x2="668.80" y2="576.30" stroke="#333" stroke-width="0.9"/>
<line x1="680.65" y1="573.00" x2="680.65" y2="576.30" stroke="#333" stroke-width="0.9"/>
<text x="624.40" y="584.80" font-size="8.5" text-anchor="end" fill="#151515" transform="rotate(-45 624.40 584.80)">70</text>
<text x="636.25" y="584.80" font-size="8.5" text-anchor="end" fill="#151515" transform="rotate(-45 636.25 584.80)">80</text>
<text x="648.10" y="584.80" font-size="8.5" text-anchor="end" fill="#151515" transform="rotate(-45 648.10 584.80)">90</text>
<text x="659.95" y="584.80" font-size="8.5" text-anchor="end" fill="#151515" transform="rotate(-45 659.95 584.80)">100</text>
<text x="671.80" y="584.80" font-size="8.5" text-anchor="end" fill="#151515" transform="rotate(-45 671.80 584.80)">110</text>
<text x="683.65" y="584.80" font-size="8.5" text-anchor="end" fill="#151515" transform="rotate(-45 683.65 584.80)">120</text>
<line x1="615.48" y1="501.00" x2="615.48" y2="513.00" stroke="#c8c8c8" stroke-width="0.7"/>
<line x1="621.40" y1="505.80" x2="621.40" y2="517.80" stroke="#c8c8c8" stroke-width="0.7"/>
<line x1="627.32" y1="519.10" x2="627.32" y2="527.10" stroke="#c8c8c8" stroke-width="0.7"/>
<line x1="633.25" y1="512.10" x2="633.25" y2="520.10" stroke="#c8c8c8" stroke-width="0.7"/>
<line x1="639.17" y1="529.00" x2="639.17" y2="535.00" stroke="#c8c8c8" stroke-width="0.7"/>
<line x1="645.10" y1="537.30" x2="645.10" y2="543.30" stroke="#c8c8c8" stroke-width="0.7"/>
<line x1="651.02" y1="535.00" x2="651.02" y2="541.00" stroke="#c8c8c8" stroke-width="0.7"/>
<line x1="656.95" y1="540.80" x2="656.95" y2="546.80" stroke="#c8c8c8" stroke-width="0.7"/>
<line x1="662.88" y1="537.00" x2="662.88" y2="543.00" stroke="#c8c8c8" stroke-width="0.7"/>
<line x1="668.80" y1="539.20" x2="668.80" y2="545.20" stroke="#c8c8c8" stroke-width="0.7"/>
<line x1="674.73" y1="538.00" x2="674.73" y2="544.00" stroke="#c8c8c8" stroke-width="0.7"/>
<line x1="680.65" y1="537.00" x2="680.65" y2="543.00" stroke="#c8c8c8" stroke-width="0.7"/>
<polyline points="615.48,507.00 621.40,511.80 627.32,523.10 633.25,516.10 639.17,532.00 645.10,540.30 651.02,538.00 656.95,543.80 662.88,540.00 668.80,542.20 674.73,541.00 680.65,540.00" fill="none" stroke="#a6a6a6" stroke-width="0.9"/>
<circle cx="615.48" cy="507.00" r="2.80" fill="#a6a6a6"/>
<circle cx="621.40" cy="511.80" r="2.80" fill="#a6a6a6"/>
<circle cx="627.32" cy="523.10" r="2.80" fill="#a6a6a6"/>
<circle cx="633.25" cy="516.10" r="2.80" fill="#a6a6a6"/>
<circle cx="639.17" cy="532.00" r="2.80" fill="#a6a6a6"/>
<circle cx="645.10" cy="540.30" r="2.80" fill="#a6a6a6"/>
<circle cx="651.02" cy="538.00" r="2.80" fill="#a6a6a6"/>
<circle cx="656.95" cy="543.80" r="2.80" fill="#a6a6a6"/>
<circle cx="662.88" cy="540.00" r="2.80" fill="#a6a6a6"/>
<circle cx="668.80" cy="542.20" r="2.80" fill="#a6a6a6"/>
<circle cx="674.73" cy="541.00" r="2.80" fill="#a6a6a6"/>
<circle cx="680.65" cy="540.00" r="2.80" fill="#a6a6a6"/>
<line x1="615.48" y1="500.30" x2="615.48" y2="510.30" stroke="#f08a8f" stroke-width="0.7"/>
<line x1="621.40" y1="497.30" x2="621.40" y2="509.30" stroke="#f08a8f" stroke-width="0.7"/>
<line x1="627.32" y1="508.60" x2="627.32" y2="520.60" stroke="#f08a8f" stroke-width="0.7"/>
<line x1="633.25" y1="507.20" x2="633.25" y2="515.20" stroke="#f08a8f" stroke-width="0.7"/>
<line x1="639.17" y1="513.10" x2="639.17" y2="523.10" stroke="#f08a8f" stroke-width="0.7"/>
<line x1="645.10" y1="523.60" x2="645.10" y2="531.60" stroke="#f08a8f" stroke-width="0.7"/>
<line x1="651.02" y1="529.00" x2="651.02" y2="535.00" stroke="#f08a8f" stroke-width="0.7"/>
<line x1="656.95" y1="531.00" x2="656.95" y2="537.00" stroke="#f08a8f" stroke-width="0.7"/>
<line x1="662.88" y1="533.90" x2="662.88" y2="539.90" stroke="#f08a8f" stroke-width="0.7"/>
<line x1="668.80" y1="534.90" x2="668.80" y2="540.90" stroke="#f08a8f" stroke-width="0.7"/>
<line x1="674.73" y1="532.50" x2="674.73" y2="538.50" stroke="#f08a8f" stroke-width="0.7"/>
<line x1="680.65" y1="534.50" x2="680.65" y2="540.50" stroke="#f08a8f" stroke-width="0.7"/>
<polyline points="615.48,505.30 621.40,503.30 627.32,514.60 633.25,511.20 639.17,518.10 645.10,527.60 651.02,532.00 656.95,534.00 662.88,536.90 668.80,537.90 674.73,535.50 680.65,537.50" fill="none" stroke="#e8434a" stroke-width="0.9"/>
<circle cx="615.48" cy="505.30" r="2.80" fill="#e8434a"/>
<circle cx="621.40" cy="503.30" r="2.80" fill="#e8434a"/>
<circle cx="627.32" cy="514.60" r="2.80" fill="#e8434a"/>
<circle cx="633.25" cy="511.20" r="2.80" fill="#e8434a"/>
<circle cx="639.17" cy="518.10" r="2.80" fill="#e8434a"/>
<circle cx="645.10" cy="527.60" r="2.80" fill="#e8434a"/>
<circle cx="651.02" cy="532.00" r="2.80" fill="#e8434a"/>
<circle cx="656.95" cy="534.00" r="2.80" fill="#e8434a"/>
<circle cx="662.88" cy="536.90" r="2.80" fill="#e8434a"/>
<circle cx="668.80" cy="537.90" r="2.80" fill="#e8434a"/>
<circle cx="674.73" cy="535.50" r="2.80" fill="#e8434a"/>
<circle cx="680.65" cy="537.50" r="2.80" fill="#e8434a"/>
<line x1="615.48" y1="500.60" x2="615.48" y2="516.60" stroke="#222" stroke-width="0.7"/>
<line x1="621.40" y1="518.00" x2="621.40" y2="534.00" stroke="#222" stroke-width="0.7"/>
<line x1="627.32" y1="515.10" x2="627.32" y2="525.10" stroke="#222" stroke-width="0.7"/>
<line x1="633.25" y1="518.10" x2="633.25" y2="528.10" stroke="#222" stroke-width="0.7"/>
<line x1="639.17" y1="530.90" x2="639.17" y2="538.90" stroke="#222" stroke-width="0.7"/>
<line x1="645.10" y1="531.90" x2="645.10" y2="537.90" stroke="#222" stroke-width="0.7"/>
<line x1="651.02" y1="533.90" x2="651.02" y2="539.90" stroke="#222" stroke-width="0.7"/>
<line x1="656.95" y1="535.30" x2="656.95" y2="541.30" stroke="#222" stroke-width="0.7"/>
<line x1="662.88" y1="539.20" x2="662.88" y2="545.20" stroke="#222" stroke-width="0.7"/>
<line x1="668.80" y1="536.50" x2="668.80" y2="542.50" stroke="#222" stroke-width="0.7"/>
<line x1="674.73" y1="536.90" x2="674.73" y2="542.90" stroke="#222" stroke-width="0.7"/>
<line x1="680.65" y1="538.80" x2="680.65" y2="544.80" stroke="#222" stroke-width="0.7"/>
<polyline points="615.48,508.60 621.40,526.00 627.32,520.10 633.25,523.10 639.17,534.90 645.10,534.90 651.02,536.90 656.95,538.30 662.88,542.20 668.80,539.50 674.73,539.90 680.65,541.80" fill="none" stroke="#222" stroke-width="0.9"/>
<circle cx="615.48" cy="508.60" r="2.80" fill="#fff" stroke="#222" stroke-width="0.8"/>
<circle cx="621.40" cy="526.00" r="2.80" fill="#fff" stroke="#222" stroke-width="0.8"/>
<circle cx="627.32" cy="520.10" r="2.80" fill="#fff" stroke="#222" stroke-width="0.8"/>
<circle cx="633.25" cy="523.10" r="2.80" fill="#fff" stroke="#222" stroke-width="0.8"/>
<circle cx="639.17" cy="534.90" r="2.80" fill="#fff" stroke="#222" stroke-width="0.8"/>
<circle cx="645.10" cy="534.90" r="2.80" fill="#fff" stroke="#222" stroke-width="0.8"/>
<circle cx="651.02" cy="536.90" r="2.80" fill="#fff" stroke="#222" stroke-width="0.8"/>
<circle cx="656.95" cy="538.30" r="2.80" fill="#fff" stroke="#222" stroke-width="0.8"/>
<circle cx="662.88" cy="542.20" r="2.80" fill="#fff" stroke="#222" stroke-width="0.8"/>
<circle cx="668.80" cy="539.50" r="2.80" fill="#fff" stroke="#222" stroke-width="0.8"/>
<circle cx="674.73" cy="539.90" r="2.80" fill="#fff" stroke="#222" stroke-width="0.8"/>
<circle cx="680.65" cy="541.80" r="2.80" fill="#fff" stroke="#222" stroke-width="0.8"/>
<polygon points="620.90,474.60 621.43,475.87 622.80,475.98 621.76,476.88 622.08,478.22 620.90,477.50 619.72,478.22 620.04,476.88 619.00,475.98 620.37,475.87" fill="#222"/>
<text x="577.90" y="515.60" font-size="8.5" text-anchor="middle" fill="#151515" transform="rotate(-90 577.90 515.60)">Startle latency (s)</text>
<text x="645.20" y="603.20" font-size="8.5" text-anchor="middle" fill="#151515">Pulses (dB)</text>
<line x1="639.70" y1="459.20" x2="654.90" y2="459.20" stroke="#222" stroke-width="1.0"/>
<circle cx="648.00" cy="459.20" r="3.60" fill="#fff" stroke="#222" stroke-width="0.9"/>
<text x="657.90" y="462.30" font-size="8.5" text-anchor="start" fill="#151515">BSL</text>
<line x1="639.70" y1="475.00" x2="654.90" y2="475.00" stroke="#e8434a" stroke-width="1.0"/>
<circle cx="648.00" cy="475.00" r="3.60" fill="#e8434a"/>
<text x="657.90" y="478.10" font-size="8.5" text-anchor="start" fill="#151515">ASD9h</text>
<line x1="639.70" y1="490.50" x2="654.90" y2="490.50" stroke="#a6a6a6" stroke-width="1.0"/>
<circle cx="648.00" cy="490.50" r="3.60" fill="#a6a6a6"/>
<text x="657.90" y="493.60" font-size="8.5" text-anchor="start" fill="#151515">REC</text>
</svg></body></html>
